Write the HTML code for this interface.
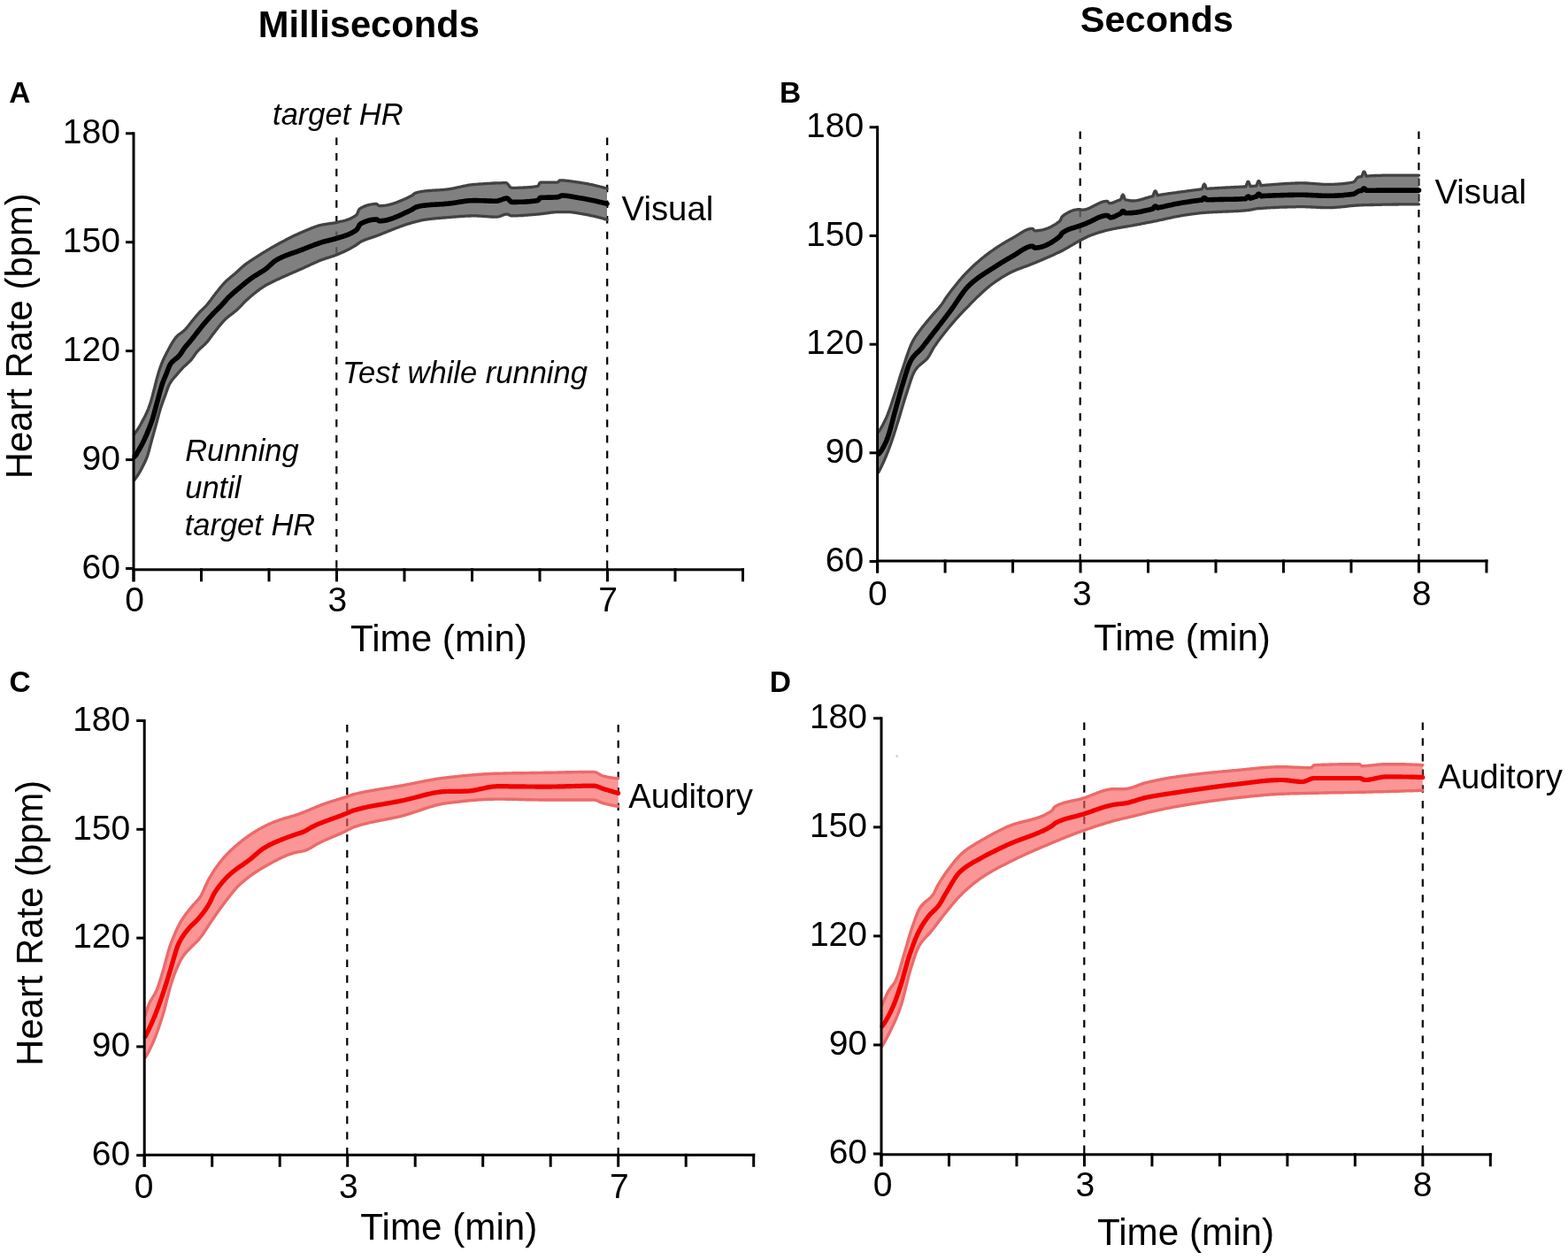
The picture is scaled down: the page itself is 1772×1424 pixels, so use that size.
<!DOCTYPE html>
<html><head><meta charset="utf-8"><style>html,body{margin:0;padding:0;background:#fff;}svg{display:block;}</style></head>
<body>
<svg width="1772" height="1424" viewBox="0 0 1772 1424" font-family="&quot;Liberation Sans&quot;, sans-serif">
<rect width="1772" height="1424" fill="#fff"/>
<text x="291.69" y="42.30" font-size="41.7" font-weight="bold" font-style="normal">Milliseconds</text>
<text x="1220.86" y="35.50" font-size="41.5" font-weight="bold" font-style="normal">Seconds</text>
<text x="10.36" y="116.20" font-size="33.5" font-weight="bold" font-style="normal">A</text>
<text x="880.94" y="116.20" font-size="33.5" font-weight="bold" font-style="normal">B</text>
<text x="10.56" y="782.40" font-size="33.5" font-weight="bold" font-style="normal">C</text>
<text x="869.84" y="781.60" font-size="33.5" font-weight="bold" font-style="normal">D</text>
<line x1="380.3" y1="155.4" x2="380.3" y2="643" stroke="#000" stroke-width="2.2" stroke-dasharray="8.5 9.2"/>
<line x1="686.2" y1="155.6" x2="686.2" y2="643" stroke="#000" stroke-width="2.2" stroke-dasharray="8.5 9.2"/>
<line x1="1220.7" y1="148.4" x2="1220.7" y2="633" stroke="#000" stroke-width="2.2" stroke-dasharray="8.5 9.2"/>
<line x1="1603.4" y1="148.4" x2="1603.4" y2="633" stroke="#000" stroke-width="2.2" stroke-dasharray="8.5 9.2"/>
<line x1="392.3" y1="819.1" x2="392.3" y2="1304" stroke="#000" stroke-width="2.2" stroke-dasharray="8.5 9.2"/>
<line x1="698.7" y1="819.1" x2="698.7" y2="1304" stroke="#000" stroke-width="2.2" stroke-dasharray="8.5 9.2"/>
<line x1="1225.3" y1="816.5" x2="1225.3" y2="1304" stroke="#000" stroke-width="2.2" stroke-dasharray="8.5 9.2"/>
<line x1="1607.8" y1="816.5" x2="1607.8" y2="1304" stroke="#000" stroke-width="2.2" stroke-dasharray="8.5 9.2"/>
<clipPath id="c149"><rect x="149.5" y="0" width="1000" height="1424"/></clipPath><g clip-path="url(#c149)">
<polygon points="151.6,490.6 152.6,489.4 153.6,488.1 154.6,486.7 155.6,485.3 156.6,483.7 157.6,482.0 158.6,480.3 159.6,478.4 160.6,476.5 161.6,474.6 162.6,472.8 163.6,470.9 164.6,468.9 165.6,466.8 166.6,464.5 167.6,462.0 168.6,459.3 169.6,456.5 170.6,453.4 171.6,449.9 172.6,446.1 173.6,442.2 174.6,438.3 175.6,434.4 176.6,430.4 177.6,426.6 178.6,423.1 179.6,419.8 180.6,416.7 181.6,413.9 182.6,411.2 183.6,408.7 184.6,406.4 185.6,404.2 186.6,402.2 187.6,400.2 188.6,398.3 189.6,396.4 190.6,394.5 191.6,392.7 192.6,390.9 193.6,389.1 194.6,387.4 195.6,385.8 196.6,384.3 197.6,382.9 198.6,381.6 199.6,380.4 200.6,379.4 201.6,378.5 202.6,377.7 203.6,377.0 204.6,376.3 205.6,375.6 206.6,374.8 207.6,374.0 208.6,373.1 209.6,372.1 210.6,370.9 211.6,369.7 212.6,368.5 213.6,367.2 214.6,365.9 215.6,364.7 216.6,363.4 217.6,362.2 218.6,361.0 219.6,359.8 220.6,358.6 221.6,357.4 222.6,356.2 223.6,355.0 224.6,353.9 225.6,352.8 226.6,351.7 227.6,350.8 228.6,349.8 229.6,348.9 230.6,347.9 231.6,346.9 232.6,345.9 233.6,344.8 234.6,343.6 235.6,342.4 236.6,341.1 237.6,339.7 238.6,338.4 239.6,337.0 240.6,335.7 241.6,334.3 242.6,333.1 243.6,331.8 244.6,330.5 245.6,329.2 246.6,328.0 247.6,326.7 248.6,325.4 249.6,324.2 250.6,323.0 251.6,321.9 252.6,320.8 253.6,319.7 254.6,318.7 255.6,317.7 256.6,316.8 257.6,315.9 258.6,315.0 259.6,314.2 260.6,313.3 261.6,312.5 262.6,311.7 263.6,310.8 264.6,310.0 265.6,309.2 266.6,308.3 267.6,307.4 268.6,306.5 269.6,305.6 270.6,304.6 271.6,303.7 272.6,302.8 273.6,301.9 274.6,301.0 275.6,300.2 276.6,299.4 277.6,298.6 278.6,297.9 279.6,297.2 280.6,296.5 281.6,295.8 282.6,295.1 283.6,294.4 284.6,293.8 285.6,293.1 286.6,292.5 287.6,291.8 288.6,291.2 289.6,290.6 290.6,289.9 291.6,289.3 292.6,288.6 293.6,288.0 294.6,287.4 295.6,286.7 296.6,286.1 297.6,285.5 298.6,284.9 299.6,284.3 300.6,283.7 301.6,283.1 302.6,282.4 303.6,281.9 304.6,281.3 305.6,280.7 306.6,280.1 307.6,279.5 308.6,278.9 309.6,278.4 310.6,277.8 311.6,277.3 312.6,276.7 313.6,276.2 314.6,275.6 315.6,275.1 316.6,274.5 317.6,274.0 318.6,273.4 319.6,272.9 320.6,272.4 321.6,271.9 322.6,271.3 323.6,270.8 324.6,270.3 325.6,269.8 326.6,269.3 327.6,268.8 328.6,268.3 329.6,267.8 330.6,267.3 331.6,266.8 332.6,266.3 333.6,265.8 334.6,265.4 335.6,264.9 336.6,264.4 337.6,264.0 338.6,263.6 339.6,263.1 340.6,262.7 341.6,262.3 342.6,261.8 343.6,261.4 344.6,261.0 345.6,260.5 346.6,260.1 347.6,259.7 348.6,259.3 349.6,258.9 350.6,258.4 351.6,258.0 352.6,257.6 353.6,257.3 354.6,256.9 355.6,256.5 356.6,256.2 357.6,255.8 358.6,255.5 359.6,255.2 360.6,254.9 361.6,254.6 362.6,254.4 363.6,254.2 364.6,253.9 365.6,253.8 366.6,253.6 367.6,253.4 368.6,253.3 369.6,253.1 370.6,253.0 371.6,252.8 372.6,252.7 373.6,252.6 374.6,252.4 375.6,252.3 376.6,252.1 377.6,251.9 378.6,251.8 379.6,251.6 380.6,251.3 381.6,251.1 382.6,250.9 383.6,250.7 384.6,250.5 385.6,250.2 386.6,250.0 387.6,249.8 388.6,249.5 389.6,249.3 390.6,249.0 391.6,248.7 392.6,248.3 393.6,248.0 394.6,247.6 395.6,247.2 396.6,246.7 397.6,246.2 398.6,245.7 399.6,245.1 400.6,244.5 401.6,243.8 402.6,243.1 403.6,241.9 404.6,239.4 405.6,237.0 406.6,235.9 407.6,235.3 408.6,234.8 409.6,234.3 410.6,233.8 411.6,233.3 412.6,232.9 413.6,232.5 414.6,232.2 415.6,231.9 416.6,231.6 417.6,231.4 418.6,231.2 419.6,231.0 420.6,230.8 421.6,230.7 422.6,230.6 423.6,230.5 424.6,230.5 425.6,230.5 426.6,231.1 427.6,232.1 428.6,232.7 429.6,232.7 430.6,232.7 431.6,232.6 432.6,232.5 433.6,232.4 434.6,232.3 435.6,232.2 436.6,232.0 437.6,231.8 438.6,231.6 439.6,231.4 440.6,231.1 441.6,230.9 442.6,230.6 443.6,230.3 444.6,230.0 445.6,229.7 446.6,229.3 447.6,229.0 448.6,228.6 449.6,228.2 450.6,227.8 451.6,227.4 452.6,227.0 453.6,226.6 454.6,226.2 455.6,225.7 456.6,225.3 457.6,224.9 458.6,224.4 459.6,223.9 460.6,223.5 461.6,223.0 462.6,222.5 463.6,222.0 464.6,221.5 465.6,221.0 466.6,220.2 467.6,219.3 468.6,218.6 469.6,218.1 470.6,217.8 471.6,217.5 472.6,217.2 473.6,217.0 474.6,216.8 475.6,216.6 476.6,216.4 477.6,216.3 478.6,216.2 479.6,216.0 480.6,215.9 481.6,215.8 482.6,215.7 483.6,215.6 484.6,215.5 485.6,215.5 486.6,215.4 487.6,215.3 488.6,215.2 489.6,215.2 490.6,215.1 491.6,215.1 492.6,215.0 493.6,214.9 494.6,214.9 495.6,214.8 496.6,214.8 497.6,214.7 498.6,214.6 499.6,214.6 500.6,214.5 501.6,214.4 502.6,214.3 503.6,214.2 504.6,214.1 505.6,214.0 506.6,213.9 507.6,213.7 508.6,213.6 509.6,213.4 510.6,213.2 511.6,213.0 512.6,212.8 513.6,212.6 514.6,212.4 515.6,212.2 516.6,212.0 517.6,211.7 518.6,211.5 519.6,211.3 520.6,211.0 521.6,210.8 522.6,210.6 523.6,210.4 524.6,210.2 525.6,210.0 526.6,209.8 527.6,209.6 528.6,209.4 529.6,209.2 530.6,209.1 531.6,208.9 532.6,208.8 533.6,208.7 534.6,208.6 535.6,208.5 536.6,208.4 537.6,208.4 538.6,208.3 539.6,208.2 540.6,208.1 541.6,208.0 542.6,208.0 543.6,207.9 544.6,207.8 545.6,207.8 546.6,207.7 547.6,207.6 548.6,207.6 549.6,207.5 550.6,207.4 551.6,207.4 552.6,207.3 553.6,207.3 554.6,207.2 555.6,207.1 556.6,207.1 557.6,207.0 558.6,207.0 559.6,207.0 560.6,206.9 561.6,206.9 562.6,206.9 563.6,206.8 564.6,206.8 565.6,206.8 566.6,206.8 567.6,206.7 568.6,206.7 569.6,206.7 570.6,206.7 571.6,206.7 572.6,206.9 573.6,207.7 574.6,209.0 575.6,210.3 576.6,211.5 577.6,212.2 578.6,212.3 579.6,212.3 580.6,212.3 581.6,212.3 582.6,212.3 583.6,212.3 584.6,212.3 585.6,212.2 586.6,212.2 587.6,212.2 588.6,212.2 589.6,212.1 590.6,212.1 591.6,212.0 592.6,212.0 593.6,211.9 594.6,211.9 595.6,211.8 596.6,211.7 597.6,211.7 598.6,211.6 599.6,211.5 600.6,211.4 601.6,211.3 602.6,211.2 603.6,211.0 604.6,210.9 605.6,210.8 606.6,210.6 607.6,210.4 608.6,209.5 609.6,207.1 610.6,206.1 611.6,206.1 612.6,206.1 613.6,206.1 614.6,206.1 615.6,206.1 616.6,206.1 617.6,206.1 618.6,206.1 619.6,206.1 620.6,206.1 621.6,206.1 622.6,206.1 623.6,206.1 624.6,206.1 625.6,206.1 626.6,206.1 627.6,206.1 628.6,206.1 629.6,206.1 630.6,205.9 631.6,204.7 632.6,203.8 633.6,203.8 634.6,203.8 635.6,203.9 636.6,203.9 637.6,204.0 638.6,204.1 639.6,204.2 640.6,204.3 641.6,204.4 642.6,204.5 643.6,204.6 644.6,204.8 645.6,204.9 646.6,205.0 647.6,205.2 648.6,205.3 649.6,205.5 650.6,205.6 651.6,205.8 652.6,205.9 653.6,206.1 654.6,206.2 655.6,206.4 656.6,206.5 657.6,206.7 658.6,206.8 659.6,207.0 660.6,207.2 661.6,207.4 662.6,207.5 663.6,207.7 664.6,207.9 665.6,208.1 666.6,208.3 667.6,208.5 668.6,208.7 669.6,208.9 670.6,209.2 671.6,209.4 672.6,209.6 673.6,209.8 674.6,210.1 675.6,210.3 676.6,210.5 677.6,210.8 678.6,211.0 679.6,211.3 680.6,211.5 681.6,211.8 682.6,212.1 683.6,212.3 684.6,212.6 685.6,212.9 686.0,213.0 686.0,248.3 685.6,248.2 684.6,247.9 683.6,247.6 682.6,247.3 681.6,247.0 680.6,246.7 679.6,246.5 678.6,246.2 677.6,245.9 676.6,245.7 675.6,245.4 674.6,245.2 673.6,244.9 672.6,244.7 671.6,244.4 670.6,244.2 669.6,244.0 668.6,243.8 667.6,243.6 666.6,243.3 665.6,243.1 664.6,242.9 663.6,242.7 662.6,242.6 661.6,242.4 660.6,242.2 659.6,242.0 658.6,241.9 657.6,241.7 656.6,241.5 655.6,241.3 654.6,241.1 653.6,240.9 652.6,240.8 651.6,240.6 650.6,240.4 649.6,240.3 648.6,240.1 647.6,240.0 646.6,239.9 645.6,239.8 644.6,239.7 643.6,239.7 642.6,239.6 641.6,239.6 640.6,239.6 639.6,239.6 638.6,239.6 637.6,239.6 636.6,239.6 635.6,239.6 634.6,239.6 633.6,239.6 632.6,239.6 631.6,239.6 630.6,239.6 629.6,239.6 628.6,239.7 627.6,239.7 626.6,239.8 625.6,239.9 624.6,240.0 623.6,240.1 622.6,240.2 621.6,240.4 620.6,240.5 619.6,240.6 618.6,240.8 617.6,240.9 616.6,241.1 615.6,241.2 614.6,241.3 613.6,241.5 612.6,241.6 611.6,241.7 610.6,241.8 609.6,241.9 608.6,242.0 607.6,242.1 606.6,242.2 605.6,242.3 604.6,242.4 603.6,242.4 602.6,242.5 601.6,242.6 600.6,242.7 599.6,242.8 598.6,242.9 597.6,242.9 596.6,243.0 595.6,243.1 594.6,243.2 593.6,243.2 592.6,243.3 591.6,243.4 590.6,243.5 589.6,243.5 588.6,243.6 587.6,243.6 586.6,243.7 585.6,243.7 584.6,243.8 583.6,243.8 582.6,243.8 581.6,243.9 580.6,243.9 579.6,243.9 578.6,243.9 577.6,243.8 576.6,243.5 575.6,243.0 574.6,242.5 573.6,242.2 572.6,242.1 571.6,242.2 570.6,242.4 569.6,242.7 568.6,243.0 567.6,243.4 566.6,243.8 565.6,244.1 564.6,244.5 563.6,244.8 562.6,245.0 561.6,245.2 560.6,245.2 559.6,245.2 558.6,245.2 557.6,245.1 556.6,245.1 555.6,245.1 554.6,245.0 553.6,244.9 552.6,244.9 551.6,244.8 550.6,244.7 549.6,244.7 548.6,244.6 547.6,244.5 546.6,244.4 545.6,244.3 544.6,244.3 543.6,244.2 542.6,244.1 541.6,244.1 540.6,244.0 539.6,244.0 538.6,243.9 537.6,243.9 536.6,243.9 535.6,243.9 534.6,243.9 533.6,243.9 532.6,243.9 531.6,244.0 530.6,244.0 529.6,244.0 528.6,244.1 527.6,244.1 526.6,244.2 525.6,244.2 524.6,244.3 523.6,244.3 522.6,244.4 521.6,244.5 520.6,244.5 519.6,244.6 518.6,244.7 517.6,244.8 516.6,244.8 515.6,244.9 514.6,245.0 513.6,245.1 512.6,245.2 511.6,245.2 510.6,245.3 509.6,245.4 508.6,245.5 507.6,245.6 506.6,245.7 505.6,245.7 504.6,245.8 503.6,245.9 502.6,246.0 501.6,246.0 500.6,246.1 499.6,246.2 498.6,246.3 497.6,246.4 496.6,246.5 495.6,246.5 494.6,246.6 493.6,246.7 492.6,246.8 491.6,246.9 490.6,247.0 489.6,247.1 488.6,247.2 487.6,247.3 486.6,247.4 485.6,247.6 484.6,247.7 483.6,247.8 482.6,247.9 481.6,248.1 480.6,248.2 479.6,248.4 478.6,248.5 477.6,248.7 476.6,248.9 475.6,249.1 474.6,249.3 473.6,249.6 472.6,249.8 471.6,250.1 470.6,250.3 469.6,250.6 468.6,250.9 467.6,251.1 466.6,251.4 465.6,251.7 464.6,252.0 463.6,252.3 462.6,252.6 461.6,252.9 460.6,253.2 459.6,253.5 458.6,253.8 457.6,254.2 456.6,254.5 455.6,254.9 454.6,255.2 453.6,255.6 452.6,255.9 451.6,256.3 450.6,256.7 449.6,257.1 448.6,257.4 447.6,257.8 446.6,258.2 445.6,258.6 444.6,259.0 443.6,259.4 442.6,259.8 441.6,260.2 440.6,260.6 439.6,261.0 438.6,261.4 437.6,261.8 436.6,262.2 435.6,262.6 434.6,263.0 433.6,263.4 432.6,263.8 431.6,264.2 430.6,264.6 429.6,265.0 428.6,265.4 427.6,265.8 426.6,266.1 425.6,266.5 424.6,266.9 423.6,267.3 422.6,267.6 421.6,267.9 420.6,268.3 419.6,268.6 418.6,268.9 417.6,269.2 416.6,269.6 415.6,269.9 414.6,270.3 413.6,270.6 412.6,271.0 411.6,271.4 410.6,271.9 409.6,272.3 408.6,272.8 407.6,273.3 406.6,273.9 405.6,274.6 404.6,275.4 403.6,276.2 402.6,276.9 401.6,277.5 400.6,278.1 399.6,278.7 398.6,279.3 397.6,279.8 396.6,280.4 395.6,280.9 394.6,281.4 393.6,282.0 392.6,282.5 391.6,283.0 390.6,283.5 389.6,283.9 388.6,284.4 387.6,284.9 386.6,285.3 385.6,285.8 384.6,286.2 383.6,286.6 382.6,287.1 381.6,287.5 380.6,287.9 379.6,288.3 378.6,288.7 377.6,289.0 376.6,289.4 375.6,289.7 374.6,290.0 373.6,290.3 372.6,290.7 371.6,291.0 370.6,291.3 369.6,291.6 368.6,291.9 367.6,292.2 366.6,292.6 365.6,292.9 364.6,293.3 363.6,293.6 362.6,294.0 361.6,294.4 360.6,294.8 359.6,295.2 358.6,295.7 357.6,296.1 356.6,296.5 355.6,297.0 354.6,297.4 353.6,297.9 352.6,298.3 351.6,298.8 350.6,299.3 349.6,299.7 348.6,300.2 347.6,300.7 346.6,301.1 345.6,301.6 344.6,302.1 343.6,302.5 342.6,303.0 341.6,303.4 340.6,303.9 339.6,304.3 338.6,304.8 337.6,305.2 336.6,305.6 335.6,306.1 334.6,306.5 333.6,307.0 332.6,307.4 331.6,307.8 330.6,308.2 329.6,308.7 328.6,309.1 327.6,309.5 326.6,310.0 325.6,310.4 324.6,310.9 323.6,311.3 322.6,311.7 321.6,312.2 320.6,312.6 319.6,313.1 318.6,313.5 317.6,314.0 316.6,314.4 315.6,314.9 314.6,315.4 313.6,315.8 312.6,316.3 311.6,316.8 310.6,317.2 309.6,317.7 308.6,318.2 307.6,318.7 306.6,319.2 305.6,319.7 304.6,320.2 303.6,320.7 302.6,321.2 301.6,321.8 300.6,322.3 299.6,322.9 298.6,323.6 297.6,324.2 296.6,324.9 295.6,325.5 294.6,326.2 293.6,326.9 292.6,327.7 291.6,328.4 290.6,329.2 289.6,329.9 288.6,330.7 287.6,331.5 286.6,332.3 285.6,333.1 284.6,334.0 283.6,334.8 282.6,335.7 281.6,336.5 280.6,337.4 279.6,338.3 278.6,339.2 277.6,340.1 276.6,341.1 275.6,342.2 274.6,343.2 273.6,344.3 272.6,345.3 271.6,346.4 270.6,347.4 269.6,348.4 268.6,349.4 267.6,350.3 266.6,351.2 265.6,352.0 264.6,352.8 263.6,353.6 262.6,354.4 261.6,355.1 260.6,355.9 259.6,356.6 258.6,357.4 257.6,358.2 256.6,359.1 255.6,359.9 254.6,360.9 253.6,361.9 252.6,363.0 251.6,364.1 250.6,365.2 249.6,366.4 248.6,367.6 247.6,368.8 246.6,370.1 245.6,371.4 244.6,372.6 243.6,373.9 242.6,375.2 241.6,376.4 240.6,377.7 239.6,379.1 238.6,380.5 237.6,381.8 236.6,383.2 235.6,384.5 234.6,385.8 233.6,386.9 232.6,388.0 231.6,389.0 230.6,389.9 229.6,390.9 228.6,391.8 227.6,392.7 226.6,393.6 225.6,394.5 224.6,395.5 223.6,396.6 222.6,397.7 221.6,399.0 220.6,400.3 219.6,401.8 218.6,403.2 217.6,404.6 216.6,405.9 215.6,407.1 214.6,408.2 213.6,409.2 212.6,410.1 211.6,411.0 210.6,411.9 209.6,412.8 208.6,413.7 207.6,414.7 206.6,415.7 205.6,416.8 204.6,417.9 203.6,419.0 202.6,420.1 201.6,421.2 200.6,422.4 199.6,423.6 198.6,424.8 197.6,425.9 196.6,427.0 195.6,428.2 194.6,429.4 193.6,430.8 192.6,432.3 191.6,434.0 190.6,436.1 189.6,438.6 188.6,441.4 187.6,444.3 186.6,447.1 185.6,449.7 184.6,452.4 183.6,455.2 182.6,458.1 181.6,461.1 180.6,464.4 179.6,467.9 178.6,471.6 177.6,475.4 176.6,479.0 175.6,482.6 174.6,486.3 173.6,489.9 172.6,493.5 171.6,497.1 170.6,500.8 169.6,504.6 168.6,508.5 167.6,512.1 166.6,515.3 165.6,517.9 164.6,520.3 163.6,522.5 162.6,524.5 161.6,526.5 160.6,528.5 159.6,530.4 158.6,532.3 157.6,534.0 156.6,535.7 155.6,537.3 154.6,538.7 153.6,540.1 152.6,541.4 151.6,542.6" fill="#666666" fill-opacity="0.83" stroke="none"/>
<polyline points="151.6,490.6 152.6,489.4 153.6,488.1 154.6,486.7 155.6,485.3 156.6,483.7 157.6,482.0 158.6,480.3 159.6,478.4 160.6,476.5 161.6,474.6 162.6,472.8 163.6,470.9 164.6,468.9 165.6,466.8 166.6,464.5 167.6,462.0 168.6,459.3 169.6,456.5 170.6,453.4 171.6,449.9 172.6,446.1 173.6,442.2 174.6,438.3 175.6,434.4 176.6,430.4 177.6,426.6 178.6,423.1 179.6,419.8 180.6,416.7 181.6,413.9 182.6,411.2 183.6,408.7 184.6,406.4 185.6,404.2 186.6,402.2 187.6,400.2 188.6,398.3 189.6,396.4 190.6,394.5 191.6,392.7 192.6,390.9 193.6,389.1 194.6,387.4 195.6,385.8 196.6,384.3 197.6,382.9 198.6,381.6 199.6,380.4 200.6,379.4 201.6,378.5 202.6,377.7 203.6,377.0 204.6,376.3 205.6,375.6 206.6,374.8 207.6,374.0 208.6,373.1 209.6,372.1 210.6,370.9 211.6,369.7 212.6,368.5 213.6,367.2 214.6,365.9 215.6,364.7 216.6,363.4 217.6,362.2 218.6,361.0 219.6,359.8 220.6,358.6 221.6,357.4 222.6,356.2 223.6,355.0 224.6,353.9 225.6,352.8 226.6,351.7 227.6,350.8 228.6,349.8 229.6,348.9 230.6,347.9 231.6,346.9 232.6,345.9 233.6,344.8 234.6,343.6 235.6,342.4 236.6,341.1 237.6,339.7 238.6,338.4 239.6,337.0 240.6,335.7 241.6,334.3 242.6,333.1 243.6,331.8 244.6,330.5 245.6,329.2 246.6,328.0 247.6,326.7 248.6,325.4 249.6,324.2 250.6,323.0 251.6,321.9 252.6,320.8 253.6,319.7 254.6,318.7 255.6,317.7 256.6,316.8 257.6,315.9 258.6,315.0 259.6,314.2 260.6,313.3 261.6,312.5 262.6,311.7 263.6,310.8 264.6,310.0 265.6,309.2 266.6,308.3 267.6,307.4 268.6,306.5 269.6,305.6 270.6,304.6 271.6,303.7 272.6,302.8 273.6,301.9 274.6,301.0 275.6,300.2 276.6,299.4 277.6,298.6 278.6,297.9 279.6,297.2 280.6,296.5 281.6,295.8 282.6,295.1 283.6,294.4 284.6,293.8 285.6,293.1 286.6,292.5 287.6,291.8 288.6,291.2 289.6,290.6 290.6,289.9 291.6,289.3 292.6,288.6 293.6,288.0 294.6,287.4 295.6,286.7 296.6,286.1 297.6,285.5 298.6,284.9 299.6,284.3 300.6,283.7 301.6,283.1 302.6,282.4 303.6,281.9 304.6,281.3 305.6,280.7 306.6,280.1 307.6,279.5 308.6,278.9 309.6,278.4 310.6,277.8 311.6,277.3 312.6,276.7 313.6,276.2 314.6,275.6 315.6,275.1 316.6,274.5 317.6,274.0 318.6,273.4 319.6,272.9 320.6,272.4 321.6,271.9 322.6,271.3 323.6,270.8 324.6,270.3 325.6,269.8 326.6,269.3 327.6,268.8 328.6,268.3 329.6,267.8 330.6,267.3 331.6,266.8 332.6,266.3 333.6,265.8 334.6,265.4 335.6,264.9 336.6,264.4 337.6,264.0 338.6,263.6 339.6,263.1 340.6,262.7 341.6,262.3 342.6,261.8 343.6,261.4 344.6,261.0 345.6,260.5 346.6,260.1 347.6,259.7 348.6,259.3 349.6,258.9 350.6,258.4 351.6,258.0 352.6,257.6 353.6,257.3 354.6,256.9 355.6,256.5 356.6,256.2 357.6,255.8 358.6,255.5 359.6,255.2 360.6,254.9 361.6,254.6 362.6,254.4 363.6,254.2 364.6,253.9 365.6,253.8 366.6,253.6 367.6,253.4 368.6,253.3 369.6,253.1 370.6,253.0 371.6,252.8 372.6,252.7 373.6,252.6 374.6,252.4 375.6,252.3 376.6,252.1 377.6,251.9 378.6,251.8 379.6,251.6 380.6,251.3 381.6,251.1 382.6,250.9 383.6,250.7 384.6,250.5 385.6,250.2 386.6,250.0 387.6,249.8 388.6,249.5 389.6,249.3 390.6,249.0 391.6,248.7 392.6,248.3 393.6,248.0 394.6,247.6 395.6,247.2 396.6,246.7 397.6,246.2 398.6,245.7 399.6,245.1 400.6,244.5 401.6,243.8 402.6,243.1 403.6,241.9 404.6,239.4 405.6,237.0 406.6,235.9 407.6,235.3 408.6,234.8 409.6,234.3 410.6,233.8 411.6,233.3 412.6,232.9 413.6,232.5 414.6,232.2 415.6,231.9 416.6,231.6 417.6,231.4 418.6,231.2 419.6,231.0 420.6,230.8 421.6,230.7 422.6,230.6 423.6,230.5 424.6,230.5 425.6,230.5 426.6,231.1 427.6,232.1 428.6,232.7 429.6,232.7 430.6,232.7 431.6,232.6 432.6,232.5 433.6,232.4 434.6,232.3 435.6,232.2 436.6,232.0 437.6,231.8 438.6,231.6 439.6,231.4 440.6,231.1 441.6,230.9 442.6,230.6 443.6,230.3 444.6,230.0 445.6,229.7 446.6,229.3 447.6,229.0 448.6,228.6 449.6,228.2 450.6,227.8 451.6,227.4 452.6,227.0 453.6,226.6 454.6,226.2 455.6,225.7 456.6,225.3 457.6,224.9 458.6,224.4 459.6,223.9 460.6,223.5 461.6,223.0 462.6,222.5 463.6,222.0 464.6,221.5 465.6,221.0 466.6,220.2 467.6,219.3 468.6,218.6 469.6,218.1 470.6,217.8 471.6,217.5 472.6,217.2 473.6,217.0 474.6,216.8 475.6,216.6 476.6,216.4 477.6,216.3 478.6,216.2 479.6,216.0 480.6,215.9 481.6,215.8 482.6,215.7 483.6,215.6 484.6,215.5 485.6,215.5 486.6,215.4 487.6,215.3 488.6,215.2 489.6,215.2 490.6,215.1 491.6,215.1 492.6,215.0 493.6,214.9 494.6,214.9 495.6,214.8 496.6,214.8 497.6,214.7 498.6,214.6 499.6,214.6 500.6,214.5 501.6,214.4 502.6,214.3 503.6,214.2 504.6,214.1 505.6,214.0 506.6,213.9 507.6,213.7 508.6,213.6 509.6,213.4 510.6,213.2 511.6,213.0 512.6,212.8 513.6,212.6 514.6,212.4 515.6,212.2 516.6,212.0 517.6,211.7 518.6,211.5 519.6,211.3 520.6,211.0 521.6,210.8 522.6,210.6 523.6,210.4 524.6,210.2 525.6,210.0 526.6,209.8 527.6,209.6 528.6,209.4 529.6,209.2 530.6,209.1 531.6,208.9 532.6,208.8 533.6,208.7 534.6,208.6 535.6,208.5 536.6,208.4 537.6,208.4 538.6,208.3 539.6,208.2 540.6,208.1 541.6,208.0 542.6,208.0 543.6,207.9 544.6,207.8 545.6,207.8 546.6,207.7 547.6,207.6 548.6,207.6 549.6,207.5 550.6,207.4 551.6,207.4 552.6,207.3 553.6,207.3 554.6,207.2 555.6,207.1 556.6,207.1 557.6,207.0 558.6,207.0 559.6,207.0 560.6,206.9 561.6,206.9 562.6,206.9 563.6,206.8 564.6,206.8 565.6,206.8 566.6,206.8 567.6,206.7 568.6,206.7 569.6,206.7 570.6,206.7 571.6,206.7 572.6,206.9 573.6,207.7 574.6,209.0 575.6,210.3 576.6,211.5 577.6,212.2 578.6,212.3 579.6,212.3 580.6,212.3 581.6,212.3 582.6,212.3 583.6,212.3 584.6,212.3 585.6,212.2 586.6,212.2 587.6,212.2 588.6,212.2 589.6,212.1 590.6,212.1 591.6,212.0 592.6,212.0 593.6,211.9 594.6,211.9 595.6,211.8 596.6,211.7 597.6,211.7 598.6,211.6 599.6,211.5 600.6,211.4 601.6,211.3 602.6,211.2 603.6,211.0 604.6,210.9 605.6,210.8 606.6,210.6 607.6,210.4 608.6,209.5 609.6,207.1 610.6,206.1 611.6,206.1 612.6,206.1 613.6,206.1 614.6,206.1 615.6,206.1 616.6,206.1 617.6,206.1 618.6,206.1 619.6,206.1 620.6,206.1 621.6,206.1 622.6,206.1 623.6,206.1 624.6,206.1 625.6,206.1 626.6,206.1 627.6,206.1 628.6,206.1 629.6,206.1 630.6,205.9 631.6,204.7 632.6,203.8 633.6,203.8 634.6,203.8 635.6,203.9 636.6,203.9 637.6,204.0 638.6,204.1 639.6,204.2 640.6,204.3 641.6,204.4 642.6,204.5 643.6,204.6 644.6,204.8 645.6,204.9 646.6,205.0 647.6,205.2 648.6,205.3 649.6,205.5 650.6,205.6 651.6,205.8 652.6,205.9 653.6,206.1 654.6,206.2 655.6,206.4 656.6,206.5 657.6,206.7 658.6,206.8 659.6,207.0 660.6,207.2 661.6,207.4 662.6,207.5 663.6,207.7 664.6,207.9 665.6,208.1 666.6,208.3 667.6,208.5 668.6,208.7 669.6,208.9 670.6,209.2 671.6,209.4 672.6,209.6 673.6,209.8 674.6,210.1 675.6,210.3 676.6,210.5 677.6,210.8 678.6,211.0 679.6,211.3 680.6,211.5 681.6,211.8 682.6,212.1 683.6,212.3 684.6,212.6 685.6,212.9 686.0,213.0" fill="none" stroke="#424242" stroke-width="3.3" stroke-linejoin="round" stroke-linecap="round"/>
<polyline points="151.6,542.6 152.6,541.4 153.6,540.1 154.6,538.7 155.6,537.3 156.6,535.7 157.6,534.0 158.6,532.3 159.6,530.4 160.6,528.5 161.6,526.5 162.6,524.5 163.6,522.5 164.6,520.3 165.6,517.9 166.6,515.3 167.6,512.1 168.6,508.5 169.6,504.6 170.6,500.8 171.6,497.1 172.6,493.5 173.6,489.9 174.6,486.3 175.6,482.6 176.6,479.0 177.6,475.4 178.6,471.6 179.6,467.9 180.6,464.4 181.6,461.1 182.6,458.1 183.6,455.2 184.6,452.4 185.6,449.7 186.6,447.1 187.6,444.3 188.6,441.4 189.6,438.6 190.6,436.1 191.6,434.0 192.6,432.3 193.6,430.8 194.6,429.4 195.6,428.2 196.6,427.0 197.6,425.9 198.6,424.8 199.6,423.6 200.6,422.4 201.6,421.2 202.6,420.1 203.6,419.0 204.6,417.9 205.6,416.8 206.6,415.7 207.6,414.7 208.6,413.7 209.6,412.8 210.6,411.9 211.6,411.0 212.6,410.1 213.6,409.2 214.6,408.2 215.6,407.1 216.6,405.9 217.6,404.6 218.6,403.2 219.6,401.8 220.6,400.3 221.6,399.0 222.6,397.7 223.6,396.6 224.6,395.5 225.6,394.5 226.6,393.6 227.6,392.7 228.6,391.8 229.6,390.9 230.6,389.9 231.6,389.0 232.6,388.0 233.6,386.9 234.6,385.8 235.6,384.5 236.6,383.2 237.6,381.8 238.6,380.5 239.6,379.1 240.6,377.7 241.6,376.4 242.6,375.2 243.6,373.9 244.6,372.6 245.6,371.4 246.6,370.1 247.6,368.8 248.6,367.6 249.6,366.4 250.6,365.2 251.6,364.1 252.6,363.0 253.6,361.9 254.6,360.9 255.6,359.9 256.6,359.1 257.6,358.2 258.6,357.4 259.6,356.6 260.6,355.9 261.6,355.1 262.6,354.4 263.6,353.6 264.6,352.8 265.6,352.0 266.6,351.2 267.6,350.3 268.6,349.4 269.6,348.4 270.6,347.4 271.6,346.4 272.6,345.3 273.6,344.3 274.6,343.2 275.6,342.2 276.6,341.1 277.6,340.1 278.6,339.2 279.6,338.3 280.6,337.4 281.6,336.5 282.6,335.7 283.6,334.8 284.6,334.0 285.6,333.1 286.6,332.3 287.6,331.5 288.6,330.7 289.6,329.9 290.6,329.2 291.6,328.4 292.6,327.7 293.6,326.9 294.6,326.2 295.6,325.5 296.6,324.9 297.6,324.2 298.6,323.6 299.6,322.9 300.6,322.3 301.6,321.8 302.6,321.2 303.6,320.7 304.6,320.2 305.6,319.7 306.6,319.2 307.6,318.7 308.6,318.2 309.6,317.7 310.6,317.2 311.6,316.8 312.6,316.3 313.6,315.8 314.6,315.4 315.6,314.9 316.6,314.4 317.6,314.0 318.6,313.5 319.6,313.1 320.6,312.6 321.6,312.2 322.6,311.7 323.6,311.3 324.6,310.9 325.6,310.4 326.6,310.0 327.6,309.5 328.6,309.1 329.6,308.7 330.6,308.2 331.6,307.8 332.6,307.4 333.6,307.0 334.6,306.5 335.6,306.1 336.6,305.6 337.6,305.2 338.6,304.8 339.6,304.3 340.6,303.9 341.6,303.4 342.6,303.0 343.6,302.5 344.6,302.1 345.6,301.6 346.6,301.1 347.6,300.7 348.6,300.2 349.6,299.7 350.6,299.3 351.6,298.8 352.6,298.3 353.6,297.9 354.6,297.4 355.6,297.0 356.6,296.5 357.6,296.1 358.6,295.7 359.6,295.2 360.6,294.8 361.6,294.4 362.6,294.0 363.6,293.6 364.6,293.3 365.6,292.9 366.6,292.6 367.6,292.2 368.6,291.9 369.6,291.6 370.6,291.3 371.6,291.0 372.6,290.7 373.6,290.3 374.6,290.0 375.6,289.7 376.6,289.4 377.6,289.0 378.6,288.7 379.6,288.3 380.6,287.9 381.6,287.5 382.6,287.1 383.6,286.6 384.6,286.2 385.6,285.8 386.6,285.3 387.6,284.9 388.6,284.4 389.6,283.9 390.6,283.5 391.6,283.0 392.6,282.5 393.6,282.0 394.6,281.4 395.6,280.9 396.6,280.4 397.6,279.8 398.6,279.3 399.6,278.7 400.6,278.1 401.6,277.5 402.6,276.9 403.6,276.2 404.6,275.4 405.6,274.6 406.6,273.9 407.6,273.3 408.6,272.8 409.6,272.3 410.6,271.9 411.6,271.4 412.6,271.0 413.6,270.6 414.6,270.3 415.6,269.9 416.6,269.6 417.6,269.2 418.6,268.9 419.6,268.6 420.6,268.3 421.6,267.9 422.6,267.6 423.6,267.3 424.6,266.9 425.6,266.5 426.6,266.1 427.6,265.8 428.6,265.4 429.6,265.0 430.6,264.6 431.6,264.2 432.6,263.8 433.6,263.4 434.6,263.0 435.6,262.6 436.6,262.2 437.6,261.8 438.6,261.4 439.6,261.0 440.6,260.6 441.6,260.2 442.6,259.8 443.6,259.4 444.6,259.0 445.6,258.6 446.6,258.2 447.6,257.8 448.6,257.4 449.6,257.1 450.6,256.7 451.6,256.3 452.6,255.9 453.6,255.6 454.6,255.2 455.6,254.9 456.6,254.5 457.6,254.2 458.6,253.8 459.6,253.5 460.6,253.2 461.6,252.9 462.6,252.6 463.6,252.3 464.6,252.0 465.6,251.7 466.6,251.4 467.6,251.1 468.6,250.9 469.6,250.6 470.6,250.3 471.6,250.1 472.6,249.8 473.6,249.6 474.6,249.3 475.6,249.1 476.6,248.9 477.6,248.7 478.6,248.5 479.6,248.4 480.6,248.2 481.6,248.1 482.6,247.9 483.6,247.8 484.6,247.7 485.6,247.6 486.6,247.4 487.6,247.3 488.6,247.2 489.6,247.1 490.6,247.0 491.6,246.9 492.6,246.8 493.6,246.7 494.6,246.6 495.6,246.5 496.6,246.5 497.6,246.4 498.6,246.3 499.6,246.2 500.6,246.1 501.6,246.0 502.6,246.0 503.6,245.9 504.6,245.8 505.6,245.7 506.6,245.7 507.6,245.6 508.6,245.5 509.6,245.4 510.6,245.3 511.6,245.2 512.6,245.2 513.6,245.1 514.6,245.0 515.6,244.9 516.6,244.8 517.6,244.8 518.6,244.7 519.6,244.6 520.6,244.5 521.6,244.5 522.6,244.4 523.6,244.3 524.6,244.3 525.6,244.2 526.6,244.2 527.6,244.1 528.6,244.1 529.6,244.0 530.6,244.0 531.6,244.0 532.6,243.9 533.6,243.9 534.6,243.9 535.6,243.9 536.6,243.9 537.6,243.9 538.6,243.9 539.6,244.0 540.6,244.0 541.6,244.1 542.6,244.1 543.6,244.2 544.6,244.3 545.6,244.3 546.6,244.4 547.6,244.5 548.6,244.6 549.6,244.7 550.6,244.7 551.6,244.8 552.6,244.9 553.6,244.9 554.6,245.0 555.6,245.1 556.6,245.1 557.6,245.1 558.6,245.2 559.6,245.2 560.6,245.2 561.6,245.2 562.6,245.0 563.6,244.8 564.6,244.5 565.6,244.1 566.6,243.8 567.6,243.4 568.6,243.0 569.6,242.7 570.6,242.4 571.6,242.2 572.6,242.1 573.6,242.2 574.6,242.5 575.6,243.0 576.6,243.5 577.6,243.8 578.6,243.9 579.6,243.9 580.6,243.9 581.6,243.9 582.6,243.8 583.6,243.8 584.6,243.8 585.6,243.7 586.6,243.7 587.6,243.6 588.6,243.6 589.6,243.5 590.6,243.5 591.6,243.4 592.6,243.3 593.6,243.2 594.6,243.2 595.6,243.1 596.6,243.0 597.6,242.9 598.6,242.9 599.6,242.8 600.6,242.7 601.6,242.6 602.6,242.5 603.6,242.4 604.6,242.4 605.6,242.3 606.6,242.2 607.6,242.1 608.6,242.0 609.6,241.9 610.6,241.8 611.6,241.7 612.6,241.6 613.6,241.5 614.6,241.3 615.6,241.2 616.6,241.1 617.6,240.9 618.6,240.8 619.6,240.6 620.6,240.5 621.6,240.4 622.6,240.2 623.6,240.1 624.6,240.0 625.6,239.9 626.6,239.8 627.6,239.7 628.6,239.7 629.6,239.6 630.6,239.6 631.6,239.6 632.6,239.6 633.6,239.6 634.6,239.6 635.6,239.6 636.6,239.6 637.6,239.6 638.6,239.6 639.6,239.6 640.6,239.6 641.6,239.6 642.6,239.6 643.6,239.7 644.6,239.7 645.6,239.8 646.6,239.9 647.6,240.0 648.6,240.1 649.6,240.3 650.6,240.4 651.6,240.6 652.6,240.8 653.6,240.9 654.6,241.1 655.6,241.3 656.6,241.5 657.6,241.7 658.6,241.9 659.6,242.0 660.6,242.2 661.6,242.4 662.6,242.6 663.6,242.7 664.6,242.9 665.6,243.1 666.6,243.3 667.6,243.6 668.6,243.8 669.6,244.0 670.6,244.2 671.6,244.4 672.6,244.7 673.6,244.9 674.6,245.2 675.6,245.4 676.6,245.7 677.6,245.9 678.6,246.2 679.6,246.5 680.6,246.7 681.6,247.0 682.6,247.3 683.6,247.6 684.6,247.9 685.6,248.2 686.0,248.3" fill="none" stroke="#424242" stroke-width="3.3" stroke-linejoin="round" stroke-linecap="round"/>
<polyline points="151.3,516.5 152.3,515.9 153.3,514.8 154.3,513.2 155.3,511.4 156.3,509.7 157.3,508.0 158.3,506.2 159.3,504.4 160.3,502.6 161.3,500.6 162.3,498.6 163.3,496.5 164.3,494.2 165.3,492.0 166.3,489.6 167.3,487.2 168.3,484.7 169.3,482.1 170.3,479.4 171.3,476.6 172.3,473.6 173.3,470.4 174.3,466.8 175.3,463.1 176.3,459.3 177.3,455.6 178.3,451.9 179.3,448.2 180.3,444.5 181.3,440.9 182.3,437.4 183.3,434.3 184.3,431.5 185.3,428.9 186.3,426.5 187.3,424.1 188.3,421.7 189.3,419.1 190.3,416.4 191.3,414.0 192.3,412.0 193.3,410.5 194.3,409.3 195.3,408.3 196.3,407.4 197.3,406.6 198.3,405.8 199.3,405.0 200.3,404.2 201.3,403.3 202.3,402.2 203.3,401.0 204.3,399.6 205.3,398.1 206.3,396.6 207.3,395.0 208.3,393.6 209.3,392.3 210.3,391.1 211.3,389.9 212.3,388.7 213.3,387.6 214.3,386.4 215.3,385.2 216.3,384.0 217.3,382.8 218.3,381.5 219.3,380.2 220.3,378.9 221.3,377.6 222.3,376.3 223.3,375.0 224.3,373.8 225.3,372.5 226.3,371.3 227.3,370.0 228.3,368.8 229.3,367.5 230.3,366.3 231.3,365.1 232.3,363.9 233.3,362.8 234.3,361.6 235.3,360.5 236.3,359.4 237.3,358.2 238.3,357.2 239.3,356.1 240.3,355.0 241.3,353.9 242.3,352.9 243.3,351.9 244.3,350.9 245.3,349.9 246.3,348.9 247.3,347.9 248.3,346.9 249.3,345.9 250.3,344.9 251.3,343.8 252.3,342.8 253.3,341.6 254.3,340.5 255.3,339.4 256.3,338.2 257.3,337.1 258.3,336.1 259.3,335.1 260.3,334.2 261.3,333.2 262.3,332.3 263.3,331.4 264.3,330.5 265.3,329.7 266.3,328.8 267.3,328.0 268.3,327.1 269.3,326.3 270.3,325.5 271.3,324.7 272.3,323.8 273.3,323.0 274.3,322.1 275.3,321.3 276.3,320.5 277.3,319.6 278.3,318.8 279.3,318.0 280.3,317.2 281.3,316.5 282.3,315.7 283.3,315.0 284.3,314.2 285.3,313.5 286.3,312.9 287.3,312.2 288.3,311.6 289.3,311.0 290.3,310.4 291.3,309.8 292.3,309.2 293.3,308.6 294.3,307.9 295.3,307.3 296.3,306.7 297.3,306.1 298.3,305.4 299.3,304.7 300.3,304.0 301.3,303.2 302.3,302.4 303.3,301.5 304.3,300.6 305.3,299.6 306.3,298.7 307.3,297.8 308.3,296.9 309.3,296.0 310.3,295.2 311.3,294.5 312.3,293.9 313.3,293.3 314.3,292.8 315.3,292.2 316.3,291.7 317.3,291.3 318.3,290.8 319.3,290.4 320.3,289.9 321.3,289.5 322.3,289.1 323.3,288.7 324.3,288.3 325.3,287.9 326.3,287.6 327.3,287.2 328.3,286.8 329.3,286.5 330.3,286.1 331.3,285.8 332.3,285.5 333.3,285.1 334.3,284.8 335.3,284.4 336.3,284.1 337.3,283.7 338.3,283.3 339.3,283.0 340.3,282.6 341.3,282.2 342.3,281.8 343.3,281.4 344.3,281.0 345.3,280.6 346.3,280.2 347.3,279.8 348.3,279.4 349.3,279.0 350.3,278.6 351.3,278.2 352.3,277.9 353.3,277.5 354.3,277.1 355.3,276.7 356.3,276.3 357.3,276.0 358.3,275.6 359.3,275.3 360.3,274.9 361.3,274.6 362.3,274.2 363.3,273.9 364.3,273.6 365.3,273.3 366.3,273.1 367.3,272.8 368.3,272.5 369.3,272.3 370.3,272.1 371.3,271.8 372.3,271.6 373.3,271.3 374.3,271.1 375.3,270.8 376.3,270.6 377.3,270.3 378.3,270.0 379.3,269.7 380.3,269.4 381.3,269.1 382.3,268.8 383.3,268.5 384.3,268.2 385.3,267.9 386.3,267.6 387.3,267.3 388.3,266.9 389.3,266.6 390.3,266.3 391.3,265.9 392.3,265.6 393.3,265.2 394.3,264.8 395.3,264.3 396.3,263.8 397.3,263.3 398.3,262.8 399.3,262.2 400.3,261.6 401.3,261.0 402.3,260.2 403.3,259.4 404.3,257.9 405.3,256.0 406.3,254.2 407.3,253.1 408.3,252.5 409.3,252.0 410.3,251.5 411.3,251.1 412.3,250.7 413.3,250.3 414.3,249.9 415.3,249.6 416.3,249.3 417.3,249.0 418.3,248.8 419.3,248.6 420.3,248.4 421.3,248.3 422.3,248.2 423.3,248.1 424.3,248.0 425.3,248.0 426.3,248.3 427.3,249.0 428.3,249.6 429.3,249.7 430.3,249.7 431.3,249.6 432.3,249.5 433.3,249.4 434.3,249.2 435.3,249.1 436.3,248.9 437.3,248.7 438.3,248.4 439.3,248.1 440.3,247.9 441.3,247.5 442.3,247.2 443.3,246.9 444.3,246.5 445.3,246.1 446.3,245.8 447.3,245.3 448.3,244.9 449.3,244.5 450.3,244.1 451.3,243.6 452.3,243.2 453.3,242.7 454.3,242.2 455.3,241.8 456.3,241.3 457.3,240.8 458.3,240.3 459.3,239.9 460.3,239.4 461.3,238.9 462.3,238.4 463.3,237.9 464.3,237.5 465.3,237.0 466.3,236.4 467.3,235.7 468.3,235.1 469.3,234.5 470.3,234.0 471.3,233.7 472.3,233.4 473.3,233.2 474.3,233.0 475.3,232.8 476.3,232.6 477.3,232.4 478.3,232.3 479.3,232.2 480.3,232.1 481.3,232.0 482.3,231.9 483.3,231.8 484.3,231.7 485.3,231.6 486.3,231.5 487.3,231.4 488.3,231.4 489.3,231.3 490.3,231.3 491.3,231.2 492.3,231.1 493.3,231.1 494.3,231.0 495.3,231.0 496.3,230.9 497.3,230.8 498.3,230.8 499.3,230.7 500.3,230.7 501.3,230.6 502.3,230.5 503.3,230.4 504.3,230.3 505.3,230.3 506.3,230.2 507.3,230.0 508.3,229.9 509.3,229.8 510.3,229.7 511.3,229.5 512.3,229.4 513.3,229.2 514.3,229.1 515.3,228.9 516.3,228.7 517.3,228.6 518.3,228.4 519.3,228.3 520.3,228.1 521.3,228.0 522.3,227.8 523.3,227.7 524.3,227.5 525.3,227.4 526.3,227.3 527.3,227.1 528.3,227.0 529.3,226.9 530.3,226.8 531.3,226.8 532.3,226.7 533.3,226.7 534.3,226.6 535.3,226.6 536.3,226.6 537.3,226.6 538.3,226.6 539.3,226.6 540.3,226.6 541.3,226.7 542.3,226.7 543.3,226.7 544.3,226.8 545.3,226.8 546.3,226.8 547.3,226.9 548.3,226.9 549.3,226.9 550.3,227.0 551.3,227.0 552.3,227.0 553.3,227.1 554.3,227.1 555.3,227.1 556.3,227.2 557.3,227.2 558.3,227.2 559.3,227.2 560.3,227.2 561.3,227.2 562.3,227.1 563.3,226.8 564.3,226.6 565.3,226.2 566.3,225.9 567.3,225.5 568.3,225.1 569.3,224.8 570.3,224.5 571.3,224.3 572.3,224.1 573.3,224.1 574.3,224.7 575.3,225.9 576.3,227.1 577.3,228.1 578.3,228.4 579.3,228.4 580.3,228.4 581.3,228.4 582.3,228.4 583.3,228.4 584.3,228.4 585.3,228.3 586.3,228.3 587.3,228.3 588.3,228.3 589.3,228.2 590.3,228.2 591.3,228.2 592.3,228.1 593.3,228.1 594.3,228.0 595.3,227.9 596.3,227.9 597.3,227.8 598.3,227.7 599.3,227.6 600.3,227.5 601.3,227.4 602.3,227.3 603.3,227.2 604.3,227.1 605.3,227.0 606.3,226.8 607.3,226.7 608.3,226.3 609.3,224.8 610.3,223.5 611.3,223.4 612.3,223.4 613.3,223.3 614.3,223.2 615.3,223.2 616.3,223.2 617.3,223.2 618.3,223.1 619.3,223.1 620.3,223.1 621.3,223.1 622.3,223.1 623.3,223.1 624.3,223.1 625.3,223.0 626.3,223.0 627.3,223.0 628.3,222.9 629.3,222.9 630.3,222.8 631.3,222.5 632.3,222.1 633.3,221.5 634.3,221.1 635.3,221.0 636.3,221.0 637.3,221.1 638.3,221.1 639.3,221.2 640.3,221.3 641.3,221.4 642.3,221.5 643.3,221.7 644.3,221.8 645.3,222.0 646.3,222.2 647.3,222.4 648.3,222.5 649.3,222.7 650.3,222.9 651.3,223.1 652.3,223.2 653.3,223.4 654.3,223.6 655.3,223.7 656.3,223.9 657.3,224.1 658.3,224.3 659.3,224.4 660.3,224.6 661.3,224.8 662.3,225.0 663.3,225.2 664.3,225.4 665.3,225.6 666.3,225.8 667.3,226.0 668.3,226.2 669.3,226.4 670.3,226.6 671.3,226.8 672.3,227.0 673.3,227.2 674.3,227.5 675.3,227.7 676.3,227.9 677.3,228.2 678.3,228.4 679.3,228.6 680.3,228.9 681.3,229.1 682.3,229.4 683.3,229.6 684.3,229.9 685.3,230.1 686.0,230.3" fill="none" stroke="#000" stroke-width="5.6" stroke-linejoin="round" stroke-linecap="round"/>
</g>
<clipPath id="c990"><rect x="990.1" y="0" width="1000" height="1424"/></clipPath><g clip-path="url(#c990)">
<polygon points="993.0,487.8 994.0,486.4 995.0,484.8 996.0,483.2 997.0,481.4 998.0,479.5 999.0,477.5 1000.0,475.5 1001.0,473.4 1002.0,471.2 1003.0,468.8 1004.0,466.2 1005.0,463.5 1006.0,460.7 1007.0,457.7 1008.0,454.7 1009.0,451.6 1010.0,448.5 1011.0,445.5 1012.0,442.4 1013.0,439.3 1014.0,436.1 1015.0,432.9 1016.0,429.6 1017.0,426.3 1018.0,423.1 1019.0,420.0 1020.0,417.0 1021.0,414.0 1022.0,410.9 1023.0,407.9 1024.0,404.8 1025.0,401.9 1026.0,399.0 1027.0,396.2 1028.0,393.5 1029.0,391.0 1030.0,388.7 1031.0,386.6 1032.0,384.7 1033.0,383.0 1034.0,381.3 1035.0,379.8 1036.0,378.4 1037.0,377.0 1038.0,375.6 1039.0,374.3 1040.0,372.9 1041.0,371.6 1042.0,370.3 1043.0,369.0 1044.0,367.7 1045.0,366.5 1046.0,365.3 1047.0,364.1 1048.0,362.9 1049.0,361.7 1050.0,360.5 1051.0,359.3 1052.0,358.2 1053.0,357.0 1054.0,355.8 1055.0,354.7 1056.0,353.5 1057.0,352.5 1058.0,351.4 1059.0,350.3 1060.0,349.2 1061.0,348.0 1062.0,346.8 1063.0,345.6 1064.0,344.3 1065.0,342.9 1066.0,341.4 1067.0,339.8 1068.0,338.2 1069.0,336.7 1070.0,335.3 1071.0,333.9 1072.0,332.6 1073.0,331.3 1074.0,329.9 1075.0,328.6 1076.0,327.3 1077.0,326.0 1078.0,324.7 1079.0,323.5 1080.0,322.2 1081.0,321.0 1082.0,319.8 1083.0,318.5 1084.0,317.3 1085.0,316.2 1086.0,315.0 1087.0,313.8 1088.0,312.7 1089.0,311.6 1090.0,310.5 1091.0,309.4 1092.0,308.4 1093.0,307.3 1094.0,306.3 1095.0,305.3 1096.0,304.3 1097.0,303.3 1098.0,302.4 1099.0,301.4 1100.0,300.5 1101.0,299.6 1102.0,298.7 1103.0,297.8 1104.0,296.9 1105.0,296.0 1106.0,295.2 1107.0,294.3 1108.0,293.5 1109.0,292.6 1110.0,291.8 1111.0,291.0 1112.0,290.2 1113.0,289.4 1114.0,288.6 1115.0,287.9 1116.0,287.1 1117.0,286.4 1118.0,285.6 1119.0,284.9 1120.0,284.2 1121.0,283.5 1122.0,282.8 1123.0,282.1 1124.0,281.4 1125.0,280.7 1126.0,280.0 1127.0,279.4 1128.0,278.7 1129.0,278.1 1130.0,277.4 1131.0,276.8 1132.0,276.2 1133.0,275.5 1134.0,274.9 1135.0,274.3 1136.0,273.7 1137.0,273.1 1138.0,272.5 1139.0,272.0 1140.0,271.4 1141.0,270.8 1142.0,270.3 1143.0,269.7 1144.0,269.2 1145.0,268.6 1146.0,268.1 1147.0,267.5 1148.0,266.9 1149.0,266.2 1150.0,265.6 1151.0,265.0 1152.0,264.3 1153.0,263.7 1154.0,263.1 1155.0,262.5 1156.0,261.9 1157.0,261.3 1158.0,260.8 1159.0,260.3 1160.0,259.9 1161.0,259.5 1162.0,259.1 1163.0,258.8 1164.0,258.6 1165.0,258.4 1166.0,258.3 1167.0,258.3 1168.0,259.5 1169.0,260.7 1170.0,260.8 1171.0,260.8 1172.0,260.7 1173.0,260.6 1174.0,260.5 1175.0,260.4 1176.0,260.2 1177.0,260.0 1178.0,259.8 1179.0,259.6 1180.0,259.3 1181.0,259.0 1182.0,258.7 1183.0,258.3 1184.0,258.0 1185.0,257.6 1186.0,257.1 1187.0,256.7 1188.0,256.2 1189.0,255.6 1190.0,255.1 1191.0,254.5 1192.0,253.9 1193.0,253.3 1194.0,252.6 1195.0,251.9 1196.0,251.2 1197.0,250.4 1198.0,249.6 1199.0,247.6 1200.0,245.2 1201.0,244.2 1202.0,243.4 1203.0,242.7 1204.0,242.0 1205.0,241.4 1206.0,240.8 1207.0,240.2 1208.0,239.7 1209.0,239.2 1210.0,238.7 1211.0,238.3 1212.0,238.0 1213.0,237.7 1214.0,237.4 1215.0,237.2 1216.0,237.0 1217.0,236.8 1218.0,236.7 1219.0,236.6 1220.0,236.6 1221.0,236.7 1222.0,237.1 1223.0,237.2 1224.0,237.1 1225.0,237.0 1226.0,236.8 1227.0,236.6 1228.0,236.3 1229.0,236.0 1230.0,235.6 1231.0,235.2 1232.0,234.7 1233.0,234.3 1234.0,233.8 1235.0,233.3 1236.0,232.8 1237.0,232.2 1238.0,231.7 1239.0,231.2 1240.0,230.7 1241.0,230.2 1242.0,229.8 1243.0,229.3 1244.0,228.9 1245.0,228.5 1246.0,228.2 1247.0,227.9 1248.0,227.7 1249.0,227.5 1250.0,227.4 1251.0,227.3 1252.0,227.8 1253.0,229.3 1254.0,229.8 1255.0,229.7 1256.0,229.5 1257.0,229.3 1258.0,228.9 1259.0,228.6 1260.0,228.1 1261.0,227.7 1262.0,227.3 1263.0,226.9 1264.0,226.5 1265.0,226.1 1266.0,225.8 1267.0,224.7 1268.0,221.2 1269.0,220.0 1270.0,221.2 1271.0,224.7 1272.0,225.8 1273.0,226.0 1274.0,226.2 1275.0,226.4 1276.0,226.6 1277.0,226.7 1278.0,226.9 1279.0,227.0 1280.0,227.0 1281.0,227.0 1282.0,226.9 1283.0,226.8 1284.0,226.7 1285.0,226.5 1286.0,226.4 1287.0,226.2 1288.0,225.9 1289.0,225.7 1290.0,225.4 1291.0,225.1 1292.0,224.8 1293.0,224.5 1294.0,224.2 1295.0,223.9 1296.0,223.6 1297.0,223.3 1298.0,223.0 1299.0,222.7 1300.0,222.4 1301.0,222.2 1302.0,221.9 1303.0,221.7 1304.0,218.5 1305.0,216.1 1306.0,215.9 1307.0,218.0 1308.0,220.8 1309.0,220.6 1310.0,220.4 1311.0,220.3 1312.0,220.1 1313.0,219.9 1314.0,219.8 1315.0,219.6 1316.0,219.5 1317.0,219.3 1318.0,219.2 1319.0,219.0 1320.0,218.9 1321.0,218.7 1322.0,218.6 1323.0,218.5 1324.0,218.3 1325.0,218.2 1326.0,218.1 1327.0,217.9 1328.0,217.8 1329.0,217.7 1330.0,217.5 1331.0,217.4 1332.0,217.2 1333.0,217.1 1334.0,217.0 1335.0,216.8 1336.0,216.7 1337.0,216.6 1338.0,216.4 1339.0,216.3 1340.0,216.2 1341.0,216.0 1342.0,215.9 1343.0,215.7 1344.0,215.6 1345.0,215.5 1346.0,215.3 1347.0,215.2 1348.0,215.1 1349.0,214.9 1350.0,214.8 1351.0,214.7 1352.0,214.5 1353.0,214.4 1354.0,214.3 1355.0,214.2 1356.0,214.0 1357.0,213.9 1358.0,213.8 1359.0,212.8 1360.0,209.3 1361.0,208.1 1362.0,209.1 1363.0,212.5 1364.0,213.3 1365.0,213.3 1366.0,213.2 1367.0,213.1 1368.0,213.0 1369.0,213.0 1370.0,212.9 1371.0,212.8 1372.0,212.8 1373.0,212.7 1374.0,212.6 1375.0,212.6 1376.0,212.5 1377.0,212.5 1378.0,212.4 1379.0,212.4 1380.0,212.3 1381.0,212.2 1382.0,212.2 1383.0,212.1 1384.0,212.1 1385.0,212.0 1386.0,212.0 1387.0,211.9 1388.0,211.9 1389.0,211.8 1390.0,211.8 1391.0,211.7 1392.0,211.7 1393.0,211.6 1394.0,211.6 1395.0,211.5 1396.0,211.5 1397.0,211.4 1398.0,211.4 1399.0,211.3 1400.0,211.3 1401.0,211.2 1402.0,211.2 1403.0,211.1 1404.0,211.1 1405.0,211.0 1406.0,211.0 1407.0,210.9 1408.0,210.8 1409.0,207.8 1410.0,205.5 1411.0,205.5 1412.0,207.7 1413.0,210.5 1414.0,210.5 1415.0,210.4 1416.0,210.3 1417.0,210.3 1418.0,210.2 1419.0,210.1 1420.0,210.0 1421.0,207.0 1422.0,204.7 1423.0,204.6 1424.0,206.8 1425.0,209.7 1426.0,209.6 1427.0,209.5 1428.0,209.4 1429.0,209.3 1430.0,209.2 1431.0,209.2 1432.0,209.1 1433.0,209.0 1434.0,208.9 1435.0,208.8 1436.0,208.8 1437.0,208.7 1438.0,208.6 1439.0,208.5 1440.0,208.4 1441.0,208.4 1442.0,208.3 1443.0,208.2 1444.0,208.1 1445.0,208.1 1446.0,208.0 1447.0,207.9 1448.0,207.8 1449.0,207.8 1450.0,207.7 1451.0,207.6 1452.0,207.6 1453.0,207.5 1454.0,207.5 1455.0,207.4 1456.0,207.3 1457.0,207.3 1458.0,207.3 1459.0,207.2 1460.0,207.2 1461.0,207.1 1462.0,207.1 1463.0,207.1 1464.0,207.0 1465.0,207.0 1466.0,207.0 1467.0,206.9 1468.0,206.9 1469.0,206.9 1470.0,206.9 1471.0,206.9 1472.0,206.9 1473.0,206.9 1474.0,206.9 1475.0,206.9 1476.0,207.0 1477.0,207.0 1478.0,207.1 1479.0,207.1 1480.0,207.2 1481.0,207.3 1482.0,207.3 1483.0,207.4 1484.0,207.5 1485.0,207.6 1486.0,207.6 1487.0,207.7 1488.0,207.8 1489.0,207.9 1490.0,207.9 1491.0,208.0 1492.0,208.1 1493.0,208.1 1494.0,208.2 1495.0,208.3 1496.0,208.3 1497.0,208.3 1498.0,208.4 1499.0,208.4 1500.0,208.4 1501.0,208.4 1502.0,208.4 1503.0,208.4 1504.0,208.4 1505.0,208.4 1506.0,208.3 1507.0,208.3 1508.0,208.3 1509.0,208.2 1510.0,208.2 1511.0,208.1 1512.0,208.1 1513.0,208.0 1514.0,207.9 1515.0,207.9 1516.0,207.8 1517.0,207.7 1518.0,207.6 1519.0,207.5 1520.0,207.4 1521.0,207.2 1522.0,207.1 1523.0,207.0 1524.0,206.8 1525.0,206.7 1526.0,206.5 1527.0,206.3 1528.0,206.2 1529.0,206.0 1530.0,205.6 1531.0,204.7 1532.0,203.4 1533.0,202.0 1534.0,200.8 1535.0,200.1 1536.0,200.0 1537.0,199.9 1538.0,199.7 1539.0,199.6 1540.0,196.6 1541.0,194.2 1542.0,194.1 1543.0,196.3 1544.0,199.1 1545.0,199.0 1546.0,198.9 1547.0,198.9 1548.0,198.8 1549.0,198.7 1550.0,198.7 1551.0,198.6 1552.0,198.6 1553.0,198.5 1554.0,198.5 1555.0,198.4 1556.0,198.4 1557.0,198.4 1558.0,198.3 1559.0,198.3 1560.0,198.3 1561.0,198.3 1562.0,198.2 1563.0,198.2 1564.0,198.2 1565.0,198.2 1566.0,198.2 1567.0,198.2 1568.0,198.2 1569.0,198.2 1570.0,198.2 1571.0,198.2 1572.0,198.2 1573.0,198.2 1574.0,198.2 1575.0,198.2 1576.0,198.2 1577.0,198.2 1578.0,198.2 1579.0,198.2 1580.0,198.2 1581.0,198.2 1582.0,198.2 1583.0,198.2 1584.0,198.2 1585.0,198.2 1586.0,198.2 1587.0,198.2 1588.0,198.2 1589.0,198.2 1590.0,198.2 1591.0,198.2 1592.0,198.2 1593.0,198.2 1594.0,198.2 1595.0,198.2 1596.0,198.2 1597.0,198.2 1598.0,198.2 1599.0,198.2 1600.0,198.2 1601.0,198.2 1602.0,198.2 1603.0,198.2 1603.5,198.2 1603.5,230.8 1603.0,230.8 1602.0,230.8 1601.0,230.8 1600.0,230.8 1599.0,230.8 1598.0,230.8 1597.0,230.8 1596.0,230.8 1595.0,230.8 1594.0,230.8 1593.0,230.8 1592.0,230.8 1591.0,230.8 1590.0,230.9 1589.0,230.9 1588.0,230.9 1587.0,230.9 1586.0,230.9 1585.0,230.9 1584.0,230.9 1583.0,230.9 1582.0,230.9 1581.0,230.9 1580.0,231.0 1579.0,231.0 1578.0,231.0 1577.0,231.0 1576.0,231.0 1575.0,231.0 1574.0,231.0 1573.0,231.1 1572.0,231.1 1571.0,231.1 1570.0,231.1 1569.0,231.1 1568.0,231.1 1567.0,231.2 1566.0,231.2 1565.0,231.2 1564.0,231.2 1563.0,231.2 1562.0,231.2 1561.0,231.3 1560.0,231.3 1559.0,231.3 1558.0,231.3 1557.0,231.4 1556.0,231.4 1555.0,231.4 1554.0,231.4 1553.0,231.4 1552.0,231.5 1551.0,231.5 1550.0,231.5 1549.0,231.5 1548.0,231.6 1547.0,231.6 1546.0,231.6 1545.0,231.6 1544.0,231.7 1543.0,231.7 1542.0,231.7 1541.0,231.7 1540.0,231.8 1539.0,231.8 1538.0,231.8 1537.0,231.9 1536.0,231.9 1535.0,232.0 1534.0,232.0 1533.0,232.1 1532.0,232.2 1531.0,232.3 1530.0,232.3 1529.0,232.4 1528.0,232.5 1527.0,232.6 1526.0,232.7 1525.0,232.8 1524.0,232.9 1523.0,233.0 1522.0,233.1 1521.0,233.3 1520.0,233.4 1519.0,233.5 1518.0,233.6 1517.0,233.7 1516.0,233.8 1515.0,233.9 1514.0,234.0 1513.0,234.1 1512.0,234.1 1511.0,234.2 1510.0,234.3 1509.0,234.4 1508.0,234.4 1507.0,234.5 1506.0,234.6 1505.0,234.6 1504.0,234.6 1503.0,234.7 1502.0,234.7 1501.0,234.7 1500.0,234.7 1499.0,234.7 1498.0,234.7 1497.0,234.7 1496.0,234.6 1495.0,234.6 1494.0,234.6 1493.0,234.5 1492.0,234.5 1491.0,234.4 1490.0,234.4 1489.0,234.3 1488.0,234.3 1487.0,234.2 1486.0,234.2 1485.0,234.1 1484.0,234.1 1483.0,234.0 1482.0,234.0 1481.0,233.9 1480.0,233.9 1479.0,233.9 1478.0,233.8 1477.0,233.8 1476.0,233.8 1475.0,233.7 1474.0,233.7 1473.0,233.7 1472.0,233.7 1471.0,233.7 1470.0,233.7 1469.0,233.7 1468.0,233.7 1467.0,233.7 1466.0,233.7 1465.0,233.7 1464.0,233.8 1463.0,233.8 1462.0,233.8 1461.0,233.8 1460.0,233.8 1459.0,233.8 1458.0,233.9 1457.0,233.9 1456.0,233.9 1455.0,233.9 1454.0,234.0 1453.0,234.0 1452.0,234.0 1451.0,234.1 1450.0,234.1 1449.0,234.1 1448.0,234.2 1447.0,234.2 1446.0,234.2 1445.0,234.3 1444.0,234.3 1443.0,234.4 1442.0,234.4 1441.0,234.5 1440.0,234.5 1439.0,234.6 1438.0,234.6 1437.0,234.7 1436.0,234.7 1435.0,234.8 1434.0,234.8 1433.0,234.9 1432.0,234.9 1431.0,235.0 1430.0,235.1 1429.0,235.1 1428.0,235.2 1427.0,235.3 1426.0,235.3 1425.0,235.4 1424.0,235.5 1423.0,235.5 1422.0,235.6 1421.0,235.7 1420.0,235.8 1419.0,236.0 1418.0,236.2 1417.0,236.4 1416.0,236.6 1415.0,236.8 1414.0,237.0 1413.0,237.2 1412.0,237.4 1411.0,237.5 1410.0,237.6 1409.0,237.7 1408.0,237.8 1407.0,237.9 1406.0,238.0 1405.0,238.1 1404.0,238.1 1403.0,238.2 1402.0,238.3 1401.0,238.3 1400.0,238.4 1399.0,238.5 1398.0,238.5 1397.0,238.6 1396.0,238.6 1395.0,238.7 1394.0,238.7 1393.0,238.8 1392.0,238.8 1391.0,238.9 1390.0,238.9 1389.0,238.9 1388.0,239.0 1387.0,239.0 1386.0,239.1 1385.0,239.1 1384.0,239.1 1383.0,239.2 1382.0,239.2 1381.0,239.3 1380.0,239.3 1379.0,239.3 1378.0,239.4 1377.0,239.4 1376.0,239.5 1375.0,239.5 1374.0,239.6 1373.0,239.6 1372.0,239.7 1371.0,239.7 1370.0,239.8 1369.0,239.8 1368.0,239.9 1367.0,239.9 1366.0,240.0 1365.0,240.1 1364.0,240.1 1363.0,240.2 1362.0,240.3 1361.0,240.4 1360.0,240.4 1359.0,240.5 1358.0,240.6 1357.0,240.7 1356.0,240.8 1355.0,240.9 1354.0,241.0 1353.0,241.2 1352.0,241.3 1351.0,241.4 1350.0,241.5 1349.0,241.7 1348.0,241.8 1347.0,241.9 1346.0,242.1 1345.0,242.2 1344.0,242.3 1343.0,242.5 1342.0,242.6 1341.0,242.8 1340.0,242.9 1339.0,243.1 1338.0,243.2 1337.0,243.4 1336.0,243.6 1335.0,243.7 1334.0,243.9 1333.0,244.1 1332.0,244.3 1331.0,244.4 1330.0,244.6 1329.0,244.8 1328.0,245.0 1327.0,245.2 1326.0,245.4 1325.0,245.7 1324.0,245.9 1323.0,246.1 1322.0,246.3 1321.0,246.5 1320.0,246.7 1319.0,247.0 1318.0,247.2 1317.0,247.4 1316.0,247.6 1315.0,247.9 1314.0,248.1 1313.0,248.3 1312.0,248.5 1311.0,248.7 1310.0,248.9 1309.0,249.2 1308.0,249.4 1307.0,249.6 1306.0,249.8 1305.0,250.0 1304.0,250.2 1303.0,250.4 1302.0,250.6 1301.0,250.8 1300.0,251.0 1299.0,251.2 1298.0,251.4 1297.0,251.6 1296.0,251.7 1295.0,251.9 1294.0,252.1 1293.0,252.3 1292.0,252.5 1291.0,252.7 1290.0,252.9 1289.0,253.1 1288.0,253.3 1287.0,253.5 1286.0,253.7 1285.0,253.9 1284.0,254.0 1283.0,254.2 1282.0,254.4 1281.0,254.6 1280.0,254.8 1279.0,255.0 1278.0,255.2 1277.0,255.3 1276.0,255.5 1275.0,255.7 1274.0,255.9 1273.0,256.0 1272.0,256.2 1271.0,256.4 1270.0,256.5 1269.0,256.7 1268.0,256.9 1267.0,257.0 1266.0,257.2 1265.0,257.4 1264.0,257.6 1263.0,257.7 1262.0,257.9 1261.0,258.1 1260.0,258.3 1259.0,258.5 1258.0,258.7 1257.0,258.9 1256.0,259.1 1255.0,259.3 1254.0,259.5 1253.0,259.8 1252.0,260.0 1251.0,260.2 1250.0,260.5 1249.0,260.7 1248.0,261.0 1247.0,261.3 1246.0,261.6 1245.0,261.8 1244.0,262.1 1243.0,262.4 1242.0,262.7 1241.0,263.0 1240.0,263.4 1239.0,263.7 1238.0,264.0 1237.0,264.3 1236.0,264.7 1235.0,265.1 1234.0,265.4 1233.0,265.8 1232.0,266.2 1231.0,266.6 1230.0,267.0 1229.0,267.4 1228.0,267.9 1227.0,268.4 1226.0,268.9 1225.0,269.4 1224.0,270.0 1223.0,270.5 1222.0,271.0 1221.0,271.6 1220.0,272.1 1219.0,272.6 1218.0,273.2 1217.0,273.8 1216.0,274.3 1215.0,274.9 1214.0,275.5 1213.0,276.1 1212.0,276.7 1211.0,277.2 1210.0,277.8 1209.0,278.4 1208.0,279.0 1207.0,279.6 1206.0,280.2 1205.0,280.7 1204.0,281.3 1203.0,281.8 1202.0,282.4 1201.0,282.9 1200.0,283.4 1199.0,283.9 1198.0,284.4 1197.0,284.9 1196.0,285.4 1195.0,285.8 1194.0,286.3 1193.0,286.8 1192.0,287.3 1191.0,287.7 1190.0,288.2 1189.0,288.6 1188.0,289.1 1187.0,289.5 1186.0,290.0 1185.0,290.4 1184.0,290.8 1183.0,291.3 1182.0,291.7 1181.0,292.1 1180.0,292.6 1179.0,293.0 1178.0,293.4 1177.0,293.9 1176.0,294.3 1175.0,294.7 1174.0,295.1 1173.0,295.5 1172.0,295.9 1171.0,296.4 1170.0,296.8 1169.0,297.2 1168.0,297.6 1167.0,298.0 1166.0,298.4 1165.0,298.8 1164.0,299.2 1163.0,299.6 1162.0,300.0 1161.0,300.3 1160.0,300.7 1159.0,301.1 1158.0,301.4 1157.0,301.8 1156.0,302.2 1155.0,302.5 1154.0,302.9 1153.0,303.3 1152.0,303.6 1151.0,304.0 1150.0,304.4 1149.0,304.8 1148.0,305.2 1147.0,305.7 1146.0,306.1 1145.0,306.6 1144.0,307.0 1143.0,307.5 1142.0,308.0 1141.0,308.5 1140.0,309.1 1139.0,309.6 1138.0,310.2 1137.0,310.7 1136.0,311.3 1135.0,311.9 1134.0,312.5 1133.0,313.1 1132.0,313.7 1131.0,314.3 1130.0,315.0 1129.0,315.6 1128.0,316.3 1127.0,317.0 1126.0,317.6 1125.0,318.3 1124.0,319.0 1123.0,319.8 1122.0,320.5 1121.0,321.2 1120.0,322.0 1119.0,322.7 1118.0,323.5 1117.0,324.4 1116.0,325.2 1115.0,326.0 1114.0,326.9 1113.0,327.8 1112.0,328.7 1111.0,329.6 1110.0,330.5 1109.0,331.4 1108.0,332.4 1107.0,333.3 1106.0,334.3 1105.0,335.2 1104.0,336.2 1103.0,337.2 1102.0,338.2 1101.0,339.2 1100.0,340.2 1099.0,341.2 1098.0,342.2 1097.0,343.2 1096.0,344.2 1095.0,345.3 1094.0,346.3 1093.0,347.3 1092.0,348.3 1091.0,349.3 1090.0,350.4 1089.0,351.4 1088.0,352.4 1087.0,353.5 1086.0,354.6 1085.0,355.6 1084.0,356.7 1083.0,357.8 1082.0,358.9 1081.0,360.0 1080.0,361.1 1079.0,362.3 1078.0,363.4 1077.0,364.6 1076.0,365.7 1075.0,366.9 1074.0,368.1 1073.0,369.3 1072.0,370.5 1071.0,371.7 1070.0,373.0 1069.0,374.2 1068.0,375.4 1067.0,376.7 1066.0,378.0 1065.0,379.2 1064.0,380.5 1063.0,381.8 1062.0,383.2 1061.0,384.5 1060.0,385.9 1059.0,387.3 1058.0,388.8 1057.0,390.2 1056.0,391.7 1055.0,393.2 1054.0,394.9 1053.0,396.7 1052.0,398.6 1051.0,400.5 1050.0,402.2 1049.0,403.7 1048.0,404.9 1047.0,406.1 1046.0,407.1 1045.0,408.0 1044.0,408.8 1043.0,409.7 1042.0,410.4 1041.0,411.2 1040.0,412.1 1039.0,412.9 1038.0,413.9 1037.0,414.9 1036.0,416.1 1035.0,417.4 1034.0,418.8 1033.0,420.6 1032.0,422.7 1031.0,425.2 1030.0,427.9 1029.0,430.8 1028.0,433.8 1027.0,436.9 1026.0,440.0 1025.0,443.2 1024.0,446.2 1023.0,449.2 1022.0,452.4 1021.0,455.7 1020.0,459.0 1019.0,462.4 1018.0,465.8 1017.0,469.2 1016.0,472.6 1015.0,475.9 1014.0,479.1 1013.0,482.3 1012.0,485.4 1011.0,488.6 1010.0,491.7 1009.0,494.8 1008.0,497.8 1007.0,500.7 1006.0,503.5 1005.0,506.2 1004.0,508.8 1003.0,511.3 1002.0,513.8 1001.0,516.3 1000.0,518.7 999.0,521.0 998.0,523.3 997.0,525.4 996.0,527.6 995.0,529.6 994.0,531.6 993.0,533.5" fill="#666666" fill-opacity="0.83" stroke="none"/>
<polyline points="993.0,487.8 994.0,486.4 995.0,484.8 996.0,483.2 997.0,481.4 998.0,479.5 999.0,477.5 1000.0,475.5 1001.0,473.4 1002.0,471.2 1003.0,468.8 1004.0,466.2 1005.0,463.5 1006.0,460.7 1007.0,457.7 1008.0,454.7 1009.0,451.6 1010.0,448.5 1011.0,445.5 1012.0,442.4 1013.0,439.3 1014.0,436.1 1015.0,432.9 1016.0,429.6 1017.0,426.3 1018.0,423.1 1019.0,420.0 1020.0,417.0 1021.0,414.0 1022.0,410.9 1023.0,407.9 1024.0,404.8 1025.0,401.9 1026.0,399.0 1027.0,396.2 1028.0,393.5 1029.0,391.0 1030.0,388.7 1031.0,386.6 1032.0,384.7 1033.0,383.0 1034.0,381.3 1035.0,379.8 1036.0,378.4 1037.0,377.0 1038.0,375.6 1039.0,374.3 1040.0,372.9 1041.0,371.6 1042.0,370.3 1043.0,369.0 1044.0,367.7 1045.0,366.5 1046.0,365.3 1047.0,364.1 1048.0,362.9 1049.0,361.7 1050.0,360.5 1051.0,359.3 1052.0,358.2 1053.0,357.0 1054.0,355.8 1055.0,354.7 1056.0,353.5 1057.0,352.5 1058.0,351.4 1059.0,350.3 1060.0,349.2 1061.0,348.0 1062.0,346.8 1063.0,345.6 1064.0,344.3 1065.0,342.9 1066.0,341.4 1067.0,339.8 1068.0,338.2 1069.0,336.7 1070.0,335.3 1071.0,333.9 1072.0,332.6 1073.0,331.3 1074.0,329.9 1075.0,328.6 1076.0,327.3 1077.0,326.0 1078.0,324.7 1079.0,323.5 1080.0,322.2 1081.0,321.0 1082.0,319.8 1083.0,318.5 1084.0,317.3 1085.0,316.2 1086.0,315.0 1087.0,313.8 1088.0,312.7 1089.0,311.6 1090.0,310.5 1091.0,309.4 1092.0,308.4 1093.0,307.3 1094.0,306.3 1095.0,305.3 1096.0,304.3 1097.0,303.3 1098.0,302.4 1099.0,301.4 1100.0,300.5 1101.0,299.6 1102.0,298.7 1103.0,297.8 1104.0,296.9 1105.0,296.0 1106.0,295.2 1107.0,294.3 1108.0,293.5 1109.0,292.6 1110.0,291.8 1111.0,291.0 1112.0,290.2 1113.0,289.4 1114.0,288.6 1115.0,287.9 1116.0,287.1 1117.0,286.4 1118.0,285.6 1119.0,284.9 1120.0,284.2 1121.0,283.5 1122.0,282.8 1123.0,282.1 1124.0,281.4 1125.0,280.7 1126.0,280.0 1127.0,279.4 1128.0,278.7 1129.0,278.1 1130.0,277.4 1131.0,276.8 1132.0,276.2 1133.0,275.5 1134.0,274.9 1135.0,274.3 1136.0,273.7 1137.0,273.1 1138.0,272.5 1139.0,272.0 1140.0,271.4 1141.0,270.8 1142.0,270.3 1143.0,269.7 1144.0,269.2 1145.0,268.6 1146.0,268.1 1147.0,267.5 1148.0,266.9 1149.0,266.2 1150.0,265.6 1151.0,265.0 1152.0,264.3 1153.0,263.7 1154.0,263.1 1155.0,262.5 1156.0,261.9 1157.0,261.3 1158.0,260.8 1159.0,260.3 1160.0,259.9 1161.0,259.5 1162.0,259.1 1163.0,258.8 1164.0,258.6 1165.0,258.4 1166.0,258.3 1167.0,258.3 1168.0,259.5 1169.0,260.7 1170.0,260.8 1171.0,260.8 1172.0,260.7 1173.0,260.6 1174.0,260.5 1175.0,260.4 1176.0,260.2 1177.0,260.0 1178.0,259.8 1179.0,259.6 1180.0,259.3 1181.0,259.0 1182.0,258.7 1183.0,258.3 1184.0,258.0 1185.0,257.6 1186.0,257.1 1187.0,256.7 1188.0,256.2 1189.0,255.6 1190.0,255.1 1191.0,254.5 1192.0,253.9 1193.0,253.3 1194.0,252.6 1195.0,251.9 1196.0,251.2 1197.0,250.4 1198.0,249.6 1199.0,247.6 1200.0,245.2 1201.0,244.2 1202.0,243.4 1203.0,242.7 1204.0,242.0 1205.0,241.4 1206.0,240.8 1207.0,240.2 1208.0,239.7 1209.0,239.2 1210.0,238.7 1211.0,238.3 1212.0,238.0 1213.0,237.7 1214.0,237.4 1215.0,237.2 1216.0,237.0 1217.0,236.8 1218.0,236.7 1219.0,236.6 1220.0,236.6 1221.0,236.7 1222.0,237.1 1223.0,237.2 1224.0,237.1 1225.0,237.0 1226.0,236.8 1227.0,236.6 1228.0,236.3 1229.0,236.0 1230.0,235.6 1231.0,235.2 1232.0,234.7 1233.0,234.3 1234.0,233.8 1235.0,233.3 1236.0,232.8 1237.0,232.2 1238.0,231.7 1239.0,231.2 1240.0,230.7 1241.0,230.2 1242.0,229.8 1243.0,229.3 1244.0,228.9 1245.0,228.5 1246.0,228.2 1247.0,227.9 1248.0,227.7 1249.0,227.5 1250.0,227.4 1251.0,227.3 1252.0,227.8 1253.0,229.3 1254.0,229.8 1255.0,229.7 1256.0,229.5 1257.0,229.3 1258.0,228.9 1259.0,228.6 1260.0,228.1 1261.0,227.7 1262.0,227.3 1263.0,226.9 1264.0,226.5 1265.0,226.1 1266.0,225.8 1267.0,224.7 1268.0,221.2 1269.0,220.0 1270.0,221.2 1271.0,224.7 1272.0,225.8 1273.0,226.0 1274.0,226.2 1275.0,226.4 1276.0,226.6 1277.0,226.7 1278.0,226.9 1279.0,227.0 1280.0,227.0 1281.0,227.0 1282.0,226.9 1283.0,226.8 1284.0,226.7 1285.0,226.5 1286.0,226.4 1287.0,226.2 1288.0,225.9 1289.0,225.7 1290.0,225.4 1291.0,225.1 1292.0,224.8 1293.0,224.5 1294.0,224.2 1295.0,223.9 1296.0,223.6 1297.0,223.3 1298.0,223.0 1299.0,222.7 1300.0,222.4 1301.0,222.2 1302.0,221.9 1303.0,221.7 1304.0,218.5 1305.0,216.1 1306.0,215.9 1307.0,218.0 1308.0,220.8 1309.0,220.6 1310.0,220.4 1311.0,220.3 1312.0,220.1 1313.0,219.9 1314.0,219.8 1315.0,219.6 1316.0,219.5 1317.0,219.3 1318.0,219.2 1319.0,219.0 1320.0,218.9 1321.0,218.7 1322.0,218.6 1323.0,218.5 1324.0,218.3 1325.0,218.2 1326.0,218.1 1327.0,217.9 1328.0,217.8 1329.0,217.7 1330.0,217.5 1331.0,217.4 1332.0,217.2 1333.0,217.1 1334.0,217.0 1335.0,216.8 1336.0,216.7 1337.0,216.6 1338.0,216.4 1339.0,216.3 1340.0,216.2 1341.0,216.0 1342.0,215.9 1343.0,215.7 1344.0,215.6 1345.0,215.5 1346.0,215.3 1347.0,215.2 1348.0,215.1 1349.0,214.9 1350.0,214.8 1351.0,214.7 1352.0,214.5 1353.0,214.4 1354.0,214.3 1355.0,214.2 1356.0,214.0 1357.0,213.9 1358.0,213.8 1359.0,212.8 1360.0,209.3 1361.0,208.1 1362.0,209.1 1363.0,212.5 1364.0,213.3 1365.0,213.3 1366.0,213.2 1367.0,213.1 1368.0,213.0 1369.0,213.0 1370.0,212.9 1371.0,212.8 1372.0,212.8 1373.0,212.7 1374.0,212.6 1375.0,212.6 1376.0,212.5 1377.0,212.5 1378.0,212.4 1379.0,212.4 1380.0,212.3 1381.0,212.2 1382.0,212.2 1383.0,212.1 1384.0,212.1 1385.0,212.0 1386.0,212.0 1387.0,211.9 1388.0,211.9 1389.0,211.8 1390.0,211.8 1391.0,211.7 1392.0,211.7 1393.0,211.6 1394.0,211.6 1395.0,211.5 1396.0,211.5 1397.0,211.4 1398.0,211.4 1399.0,211.3 1400.0,211.3 1401.0,211.2 1402.0,211.2 1403.0,211.1 1404.0,211.1 1405.0,211.0 1406.0,211.0 1407.0,210.9 1408.0,210.8 1409.0,207.8 1410.0,205.5 1411.0,205.5 1412.0,207.7 1413.0,210.5 1414.0,210.5 1415.0,210.4 1416.0,210.3 1417.0,210.3 1418.0,210.2 1419.0,210.1 1420.0,210.0 1421.0,207.0 1422.0,204.7 1423.0,204.6 1424.0,206.8 1425.0,209.7 1426.0,209.6 1427.0,209.5 1428.0,209.4 1429.0,209.3 1430.0,209.2 1431.0,209.2 1432.0,209.1 1433.0,209.0 1434.0,208.9 1435.0,208.8 1436.0,208.8 1437.0,208.7 1438.0,208.6 1439.0,208.5 1440.0,208.4 1441.0,208.4 1442.0,208.3 1443.0,208.2 1444.0,208.1 1445.0,208.1 1446.0,208.0 1447.0,207.9 1448.0,207.8 1449.0,207.8 1450.0,207.7 1451.0,207.6 1452.0,207.6 1453.0,207.5 1454.0,207.5 1455.0,207.4 1456.0,207.3 1457.0,207.3 1458.0,207.3 1459.0,207.2 1460.0,207.2 1461.0,207.1 1462.0,207.1 1463.0,207.1 1464.0,207.0 1465.0,207.0 1466.0,207.0 1467.0,206.9 1468.0,206.9 1469.0,206.9 1470.0,206.9 1471.0,206.9 1472.0,206.9 1473.0,206.9 1474.0,206.9 1475.0,206.9 1476.0,207.0 1477.0,207.0 1478.0,207.1 1479.0,207.1 1480.0,207.2 1481.0,207.3 1482.0,207.3 1483.0,207.4 1484.0,207.5 1485.0,207.6 1486.0,207.6 1487.0,207.7 1488.0,207.8 1489.0,207.9 1490.0,207.9 1491.0,208.0 1492.0,208.1 1493.0,208.1 1494.0,208.2 1495.0,208.3 1496.0,208.3 1497.0,208.3 1498.0,208.4 1499.0,208.4 1500.0,208.4 1501.0,208.4 1502.0,208.4 1503.0,208.4 1504.0,208.4 1505.0,208.4 1506.0,208.3 1507.0,208.3 1508.0,208.3 1509.0,208.2 1510.0,208.2 1511.0,208.1 1512.0,208.1 1513.0,208.0 1514.0,207.9 1515.0,207.9 1516.0,207.8 1517.0,207.7 1518.0,207.6 1519.0,207.5 1520.0,207.4 1521.0,207.2 1522.0,207.1 1523.0,207.0 1524.0,206.8 1525.0,206.7 1526.0,206.5 1527.0,206.3 1528.0,206.2 1529.0,206.0 1530.0,205.6 1531.0,204.7 1532.0,203.4 1533.0,202.0 1534.0,200.8 1535.0,200.1 1536.0,200.0 1537.0,199.9 1538.0,199.7 1539.0,199.6 1540.0,196.6 1541.0,194.2 1542.0,194.1 1543.0,196.3 1544.0,199.1 1545.0,199.0 1546.0,198.9 1547.0,198.9 1548.0,198.8 1549.0,198.7 1550.0,198.7 1551.0,198.6 1552.0,198.6 1553.0,198.5 1554.0,198.5 1555.0,198.4 1556.0,198.4 1557.0,198.4 1558.0,198.3 1559.0,198.3 1560.0,198.3 1561.0,198.3 1562.0,198.2 1563.0,198.2 1564.0,198.2 1565.0,198.2 1566.0,198.2 1567.0,198.2 1568.0,198.2 1569.0,198.2 1570.0,198.2 1571.0,198.2 1572.0,198.2 1573.0,198.2 1574.0,198.2 1575.0,198.2 1576.0,198.2 1577.0,198.2 1578.0,198.2 1579.0,198.2 1580.0,198.2 1581.0,198.2 1582.0,198.2 1583.0,198.2 1584.0,198.2 1585.0,198.2 1586.0,198.2 1587.0,198.2 1588.0,198.2 1589.0,198.2 1590.0,198.2 1591.0,198.2 1592.0,198.2 1593.0,198.2 1594.0,198.2 1595.0,198.2 1596.0,198.2 1597.0,198.2 1598.0,198.2 1599.0,198.2 1600.0,198.2 1601.0,198.2 1602.0,198.2 1603.0,198.2 1603.5,198.2" fill="none" stroke="#424242" stroke-width="3.3" stroke-linejoin="round" stroke-linecap="round"/>
<polyline points="993.0,533.5 994.0,531.6 995.0,529.6 996.0,527.6 997.0,525.4 998.0,523.3 999.0,521.0 1000.0,518.7 1001.0,516.3 1002.0,513.8 1003.0,511.3 1004.0,508.8 1005.0,506.2 1006.0,503.5 1007.0,500.7 1008.0,497.8 1009.0,494.8 1010.0,491.7 1011.0,488.6 1012.0,485.4 1013.0,482.3 1014.0,479.1 1015.0,475.9 1016.0,472.6 1017.0,469.2 1018.0,465.8 1019.0,462.4 1020.0,459.0 1021.0,455.7 1022.0,452.4 1023.0,449.2 1024.0,446.2 1025.0,443.2 1026.0,440.0 1027.0,436.9 1028.0,433.8 1029.0,430.8 1030.0,427.9 1031.0,425.2 1032.0,422.7 1033.0,420.6 1034.0,418.8 1035.0,417.4 1036.0,416.1 1037.0,414.9 1038.0,413.9 1039.0,412.9 1040.0,412.1 1041.0,411.2 1042.0,410.4 1043.0,409.7 1044.0,408.8 1045.0,408.0 1046.0,407.1 1047.0,406.1 1048.0,404.9 1049.0,403.7 1050.0,402.2 1051.0,400.5 1052.0,398.6 1053.0,396.7 1054.0,394.9 1055.0,393.2 1056.0,391.7 1057.0,390.2 1058.0,388.8 1059.0,387.3 1060.0,385.9 1061.0,384.5 1062.0,383.2 1063.0,381.8 1064.0,380.5 1065.0,379.2 1066.0,378.0 1067.0,376.7 1068.0,375.4 1069.0,374.2 1070.0,373.0 1071.0,371.7 1072.0,370.5 1073.0,369.3 1074.0,368.1 1075.0,366.9 1076.0,365.7 1077.0,364.6 1078.0,363.4 1079.0,362.3 1080.0,361.1 1081.0,360.0 1082.0,358.9 1083.0,357.8 1084.0,356.7 1085.0,355.6 1086.0,354.6 1087.0,353.5 1088.0,352.4 1089.0,351.4 1090.0,350.4 1091.0,349.3 1092.0,348.3 1093.0,347.3 1094.0,346.3 1095.0,345.3 1096.0,344.2 1097.0,343.2 1098.0,342.2 1099.0,341.2 1100.0,340.2 1101.0,339.2 1102.0,338.2 1103.0,337.2 1104.0,336.2 1105.0,335.2 1106.0,334.3 1107.0,333.3 1108.0,332.4 1109.0,331.4 1110.0,330.5 1111.0,329.6 1112.0,328.7 1113.0,327.8 1114.0,326.9 1115.0,326.0 1116.0,325.2 1117.0,324.4 1118.0,323.5 1119.0,322.7 1120.0,322.0 1121.0,321.2 1122.0,320.5 1123.0,319.8 1124.0,319.0 1125.0,318.3 1126.0,317.6 1127.0,317.0 1128.0,316.3 1129.0,315.6 1130.0,315.0 1131.0,314.3 1132.0,313.7 1133.0,313.1 1134.0,312.5 1135.0,311.9 1136.0,311.3 1137.0,310.7 1138.0,310.2 1139.0,309.6 1140.0,309.1 1141.0,308.5 1142.0,308.0 1143.0,307.5 1144.0,307.0 1145.0,306.6 1146.0,306.1 1147.0,305.7 1148.0,305.2 1149.0,304.8 1150.0,304.4 1151.0,304.0 1152.0,303.6 1153.0,303.3 1154.0,302.9 1155.0,302.5 1156.0,302.2 1157.0,301.8 1158.0,301.4 1159.0,301.1 1160.0,300.7 1161.0,300.3 1162.0,300.0 1163.0,299.6 1164.0,299.2 1165.0,298.8 1166.0,298.4 1167.0,298.0 1168.0,297.6 1169.0,297.2 1170.0,296.8 1171.0,296.4 1172.0,295.9 1173.0,295.5 1174.0,295.1 1175.0,294.7 1176.0,294.3 1177.0,293.9 1178.0,293.4 1179.0,293.0 1180.0,292.6 1181.0,292.1 1182.0,291.7 1183.0,291.3 1184.0,290.8 1185.0,290.4 1186.0,290.0 1187.0,289.5 1188.0,289.1 1189.0,288.6 1190.0,288.2 1191.0,287.7 1192.0,287.3 1193.0,286.8 1194.0,286.3 1195.0,285.8 1196.0,285.4 1197.0,284.9 1198.0,284.4 1199.0,283.9 1200.0,283.4 1201.0,282.9 1202.0,282.4 1203.0,281.8 1204.0,281.3 1205.0,280.7 1206.0,280.2 1207.0,279.6 1208.0,279.0 1209.0,278.4 1210.0,277.8 1211.0,277.2 1212.0,276.7 1213.0,276.1 1214.0,275.5 1215.0,274.9 1216.0,274.3 1217.0,273.8 1218.0,273.2 1219.0,272.6 1220.0,272.1 1221.0,271.6 1222.0,271.0 1223.0,270.5 1224.0,270.0 1225.0,269.4 1226.0,268.9 1227.0,268.4 1228.0,267.9 1229.0,267.4 1230.0,267.0 1231.0,266.6 1232.0,266.2 1233.0,265.8 1234.0,265.4 1235.0,265.1 1236.0,264.7 1237.0,264.3 1238.0,264.0 1239.0,263.7 1240.0,263.4 1241.0,263.0 1242.0,262.7 1243.0,262.4 1244.0,262.1 1245.0,261.8 1246.0,261.6 1247.0,261.3 1248.0,261.0 1249.0,260.7 1250.0,260.5 1251.0,260.2 1252.0,260.0 1253.0,259.8 1254.0,259.5 1255.0,259.3 1256.0,259.1 1257.0,258.9 1258.0,258.7 1259.0,258.5 1260.0,258.3 1261.0,258.1 1262.0,257.9 1263.0,257.7 1264.0,257.6 1265.0,257.4 1266.0,257.2 1267.0,257.0 1268.0,256.9 1269.0,256.7 1270.0,256.5 1271.0,256.4 1272.0,256.2 1273.0,256.0 1274.0,255.9 1275.0,255.7 1276.0,255.5 1277.0,255.3 1278.0,255.2 1279.0,255.0 1280.0,254.8 1281.0,254.6 1282.0,254.4 1283.0,254.2 1284.0,254.0 1285.0,253.9 1286.0,253.7 1287.0,253.5 1288.0,253.3 1289.0,253.1 1290.0,252.9 1291.0,252.7 1292.0,252.5 1293.0,252.3 1294.0,252.1 1295.0,251.9 1296.0,251.7 1297.0,251.6 1298.0,251.4 1299.0,251.2 1300.0,251.0 1301.0,250.8 1302.0,250.6 1303.0,250.4 1304.0,250.2 1305.0,250.0 1306.0,249.8 1307.0,249.6 1308.0,249.4 1309.0,249.2 1310.0,248.9 1311.0,248.7 1312.0,248.5 1313.0,248.3 1314.0,248.1 1315.0,247.9 1316.0,247.6 1317.0,247.4 1318.0,247.2 1319.0,247.0 1320.0,246.7 1321.0,246.5 1322.0,246.3 1323.0,246.1 1324.0,245.9 1325.0,245.7 1326.0,245.4 1327.0,245.2 1328.0,245.0 1329.0,244.8 1330.0,244.6 1331.0,244.4 1332.0,244.3 1333.0,244.1 1334.0,243.9 1335.0,243.7 1336.0,243.6 1337.0,243.4 1338.0,243.2 1339.0,243.1 1340.0,242.9 1341.0,242.8 1342.0,242.6 1343.0,242.5 1344.0,242.3 1345.0,242.2 1346.0,242.1 1347.0,241.9 1348.0,241.8 1349.0,241.7 1350.0,241.5 1351.0,241.4 1352.0,241.3 1353.0,241.2 1354.0,241.0 1355.0,240.9 1356.0,240.8 1357.0,240.7 1358.0,240.6 1359.0,240.5 1360.0,240.4 1361.0,240.4 1362.0,240.3 1363.0,240.2 1364.0,240.1 1365.0,240.1 1366.0,240.0 1367.0,239.9 1368.0,239.9 1369.0,239.8 1370.0,239.8 1371.0,239.7 1372.0,239.7 1373.0,239.6 1374.0,239.6 1375.0,239.5 1376.0,239.5 1377.0,239.4 1378.0,239.4 1379.0,239.3 1380.0,239.3 1381.0,239.3 1382.0,239.2 1383.0,239.2 1384.0,239.1 1385.0,239.1 1386.0,239.1 1387.0,239.0 1388.0,239.0 1389.0,238.9 1390.0,238.9 1391.0,238.9 1392.0,238.8 1393.0,238.8 1394.0,238.7 1395.0,238.7 1396.0,238.6 1397.0,238.6 1398.0,238.5 1399.0,238.5 1400.0,238.4 1401.0,238.3 1402.0,238.3 1403.0,238.2 1404.0,238.1 1405.0,238.1 1406.0,238.0 1407.0,237.9 1408.0,237.8 1409.0,237.7 1410.0,237.6 1411.0,237.5 1412.0,237.4 1413.0,237.2 1414.0,237.0 1415.0,236.8 1416.0,236.6 1417.0,236.4 1418.0,236.2 1419.0,236.0 1420.0,235.8 1421.0,235.7 1422.0,235.6 1423.0,235.5 1424.0,235.5 1425.0,235.4 1426.0,235.3 1427.0,235.3 1428.0,235.2 1429.0,235.1 1430.0,235.1 1431.0,235.0 1432.0,234.9 1433.0,234.9 1434.0,234.8 1435.0,234.8 1436.0,234.7 1437.0,234.7 1438.0,234.6 1439.0,234.6 1440.0,234.5 1441.0,234.5 1442.0,234.4 1443.0,234.4 1444.0,234.3 1445.0,234.3 1446.0,234.2 1447.0,234.2 1448.0,234.2 1449.0,234.1 1450.0,234.1 1451.0,234.1 1452.0,234.0 1453.0,234.0 1454.0,234.0 1455.0,233.9 1456.0,233.9 1457.0,233.9 1458.0,233.9 1459.0,233.8 1460.0,233.8 1461.0,233.8 1462.0,233.8 1463.0,233.8 1464.0,233.8 1465.0,233.7 1466.0,233.7 1467.0,233.7 1468.0,233.7 1469.0,233.7 1470.0,233.7 1471.0,233.7 1472.0,233.7 1473.0,233.7 1474.0,233.7 1475.0,233.7 1476.0,233.8 1477.0,233.8 1478.0,233.8 1479.0,233.9 1480.0,233.9 1481.0,233.9 1482.0,234.0 1483.0,234.0 1484.0,234.1 1485.0,234.1 1486.0,234.2 1487.0,234.2 1488.0,234.3 1489.0,234.3 1490.0,234.4 1491.0,234.4 1492.0,234.5 1493.0,234.5 1494.0,234.6 1495.0,234.6 1496.0,234.6 1497.0,234.7 1498.0,234.7 1499.0,234.7 1500.0,234.7 1501.0,234.7 1502.0,234.7 1503.0,234.7 1504.0,234.6 1505.0,234.6 1506.0,234.6 1507.0,234.5 1508.0,234.4 1509.0,234.4 1510.0,234.3 1511.0,234.2 1512.0,234.1 1513.0,234.1 1514.0,234.0 1515.0,233.9 1516.0,233.8 1517.0,233.7 1518.0,233.6 1519.0,233.5 1520.0,233.4 1521.0,233.3 1522.0,233.1 1523.0,233.0 1524.0,232.9 1525.0,232.8 1526.0,232.7 1527.0,232.6 1528.0,232.5 1529.0,232.4 1530.0,232.3 1531.0,232.3 1532.0,232.2 1533.0,232.1 1534.0,232.0 1535.0,232.0 1536.0,231.9 1537.0,231.9 1538.0,231.8 1539.0,231.8 1540.0,231.8 1541.0,231.7 1542.0,231.7 1543.0,231.7 1544.0,231.7 1545.0,231.6 1546.0,231.6 1547.0,231.6 1548.0,231.6 1549.0,231.5 1550.0,231.5 1551.0,231.5 1552.0,231.5 1553.0,231.4 1554.0,231.4 1555.0,231.4 1556.0,231.4 1557.0,231.4 1558.0,231.3 1559.0,231.3 1560.0,231.3 1561.0,231.3 1562.0,231.2 1563.0,231.2 1564.0,231.2 1565.0,231.2 1566.0,231.2 1567.0,231.2 1568.0,231.1 1569.0,231.1 1570.0,231.1 1571.0,231.1 1572.0,231.1 1573.0,231.1 1574.0,231.0 1575.0,231.0 1576.0,231.0 1577.0,231.0 1578.0,231.0 1579.0,231.0 1580.0,231.0 1581.0,230.9 1582.0,230.9 1583.0,230.9 1584.0,230.9 1585.0,230.9 1586.0,230.9 1587.0,230.9 1588.0,230.9 1589.0,230.9 1590.0,230.9 1591.0,230.8 1592.0,230.8 1593.0,230.8 1594.0,230.8 1595.0,230.8 1596.0,230.8 1597.0,230.8 1598.0,230.8 1599.0,230.8 1600.0,230.8 1601.0,230.8 1602.0,230.8 1603.0,230.8 1603.5,230.8" fill="none" stroke="#424242" stroke-width="3.3" stroke-linejoin="round" stroke-linecap="round"/>
<polyline points="993.0,512.9 994.0,511.9 995.0,510.7 996.0,509.3 997.0,507.7 998.0,505.9 999.0,504.0 1000.0,502.0 1001.0,499.9 1002.0,497.6 1003.0,495.1 1004.0,492.2 1005.0,489.0 1006.0,485.5 1007.0,481.9 1008.0,478.1 1009.0,474.2 1010.0,470.4 1011.0,466.7 1012.0,463.1 1013.0,459.5 1014.0,455.8 1015.0,452.1 1016.0,448.4 1017.0,444.8 1018.0,441.2 1019.0,437.8 1020.0,434.6 1021.0,431.3 1022.0,428.0 1023.0,424.7 1024.0,421.5 1025.0,418.4 1026.0,415.4 1027.0,412.7 1028.0,410.3 1029.0,408.1 1030.0,406.4 1031.0,404.9 1032.0,403.5 1033.0,402.3 1034.0,401.2 1035.0,400.1 1036.0,399.1 1037.0,398.2 1038.0,397.2 1039.0,396.2 1040.0,395.2 1041.0,394.1 1042.0,392.9 1043.0,391.7 1044.0,390.4 1045.0,389.1 1046.0,387.8 1047.0,386.5 1048.0,385.2 1049.0,383.9 1050.0,382.6 1051.0,381.3 1052.0,380.0 1053.0,378.7 1054.0,377.4 1055.0,376.1 1056.0,374.8 1057.0,373.5 1058.0,372.3 1059.0,371.0 1060.0,369.7 1061.0,368.4 1062.0,367.1 1063.0,365.8 1064.0,364.5 1065.0,363.2 1066.0,361.9 1067.0,360.6 1068.0,359.3 1069.0,358.0 1070.0,356.7 1071.0,355.3 1072.0,354.0 1073.0,352.7 1074.0,351.3 1075.0,350.0 1076.0,348.6 1077.0,347.2 1078.0,345.8 1079.0,344.3 1080.0,342.8 1081.0,341.3 1082.0,339.8 1083.0,338.3 1084.0,336.8 1085.0,335.4 1086.0,333.9 1087.0,332.5 1088.0,331.1 1089.0,329.7 1090.0,328.4 1091.0,327.1 1092.0,325.9 1093.0,324.8 1094.0,323.7 1095.0,322.7 1096.0,321.8 1097.0,320.8 1098.0,320.0 1099.0,319.1 1100.0,318.2 1101.0,317.4 1102.0,316.6 1103.0,315.8 1104.0,315.1 1105.0,314.3 1106.0,313.6 1107.0,312.8 1108.0,312.1 1109.0,311.4 1110.0,310.8 1111.0,310.1 1112.0,309.4 1113.0,308.8 1114.0,308.1 1115.0,307.5 1116.0,306.9 1117.0,306.2 1118.0,305.6 1119.0,305.0 1120.0,304.3 1121.0,303.7 1122.0,303.1 1123.0,302.5 1124.0,301.8 1125.0,301.2 1126.0,300.5 1127.0,299.9 1128.0,299.2 1129.0,298.6 1130.0,298.0 1131.0,297.3 1132.0,296.7 1133.0,296.1 1134.0,295.5 1135.0,294.9 1136.0,294.3 1137.0,293.7 1138.0,293.1 1139.0,292.5 1140.0,291.9 1141.0,291.4 1142.0,290.8 1143.0,290.2 1144.0,289.7 1145.0,289.1 1146.0,288.5 1147.0,287.9 1148.0,287.3 1149.0,286.6 1150.0,286.0 1151.0,285.3 1152.0,284.6 1153.0,284.0 1154.0,283.3 1155.0,282.7 1156.0,282.1 1157.0,281.5 1158.0,280.9 1159.0,280.4 1160.0,279.9 1161.0,279.5 1162.0,279.1 1163.0,278.8 1164.0,278.5 1165.0,278.3 1166.0,278.2 1167.0,278.2 1168.0,279.1 1169.0,280.0 1170.0,280.1 1171.0,280.0 1172.0,280.0 1173.0,279.8 1174.0,279.7 1175.0,279.5 1176.0,279.3 1177.0,279.0 1178.0,278.7 1179.0,278.4 1180.0,278.0 1181.0,277.6 1182.0,277.2 1183.0,276.8 1184.0,276.3 1185.0,275.8 1186.0,275.2 1187.0,274.7 1188.0,274.1 1189.0,273.5 1190.0,272.8 1191.0,272.2 1192.0,271.5 1193.0,270.8 1194.0,270.1 1195.0,269.3 1196.0,268.5 1197.0,267.7 1198.0,266.9 1199.0,265.4 1200.0,263.7 1201.0,262.9 1202.0,262.2 1203.0,261.6 1204.0,261.0 1205.0,260.5 1206.0,260.0 1207.0,259.6 1208.0,259.1 1209.0,258.8 1210.0,258.4 1211.0,258.1 1212.0,257.8 1213.0,257.5 1214.0,257.2 1215.0,256.9 1216.0,256.6 1217.0,256.3 1218.0,256.0 1219.0,255.6 1220.0,255.3 1221.0,254.9 1222.0,254.5 1223.0,254.2 1224.0,253.8 1225.0,253.5 1226.0,253.1 1227.0,252.7 1228.0,252.3 1229.0,251.8 1230.0,251.3 1231.0,250.9 1232.0,250.4 1233.0,249.9 1234.0,249.4 1235.0,248.9 1236.0,248.4 1237.0,247.9 1238.0,247.4 1239.0,246.9 1240.0,246.4 1241.0,246.0 1242.0,245.6 1243.0,245.2 1244.0,244.9 1245.0,244.5 1246.0,244.2 1247.0,244.0 1248.0,243.8 1249.0,243.6 1250.0,243.5 1251.0,243.5 1252.0,243.7 1253.0,244.6 1254.0,245.5 1255.0,245.9 1256.0,245.8 1257.0,245.6 1258.0,245.3 1259.0,244.9 1260.0,244.5 1261.0,244.0 1262.0,243.5 1263.0,243.0 1264.0,242.5 1265.0,242.0 1266.0,241.6 1267.0,240.8 1268.0,239.1 1269.0,238.5 1270.0,238.9 1271.0,240.4 1272.0,240.8 1273.0,240.8 1274.0,240.7 1275.0,240.7 1276.0,240.7 1277.0,240.6 1278.0,240.6 1279.0,240.6 1280.0,240.5 1281.0,240.4 1282.0,240.3 1283.0,240.2 1284.0,240.1 1285.0,239.9 1286.0,239.8 1287.0,239.6 1288.0,239.4 1289.0,239.2 1290.0,239.0 1291.0,238.8 1292.0,238.6 1293.0,238.3 1294.0,238.1 1295.0,237.9 1296.0,237.6 1297.0,237.4 1298.0,237.2 1299.0,236.9 1300.0,236.7 1301.0,236.4 1302.0,236.2 1303.0,236.0 1304.0,234.4 1305.0,233.2 1306.0,233.0 1307.0,233.8 1308.0,235.0 1309.0,234.8 1310.0,234.5 1311.0,234.3 1312.0,234.1 1313.0,233.9 1314.0,233.7 1315.0,233.4 1316.0,233.2 1317.0,233.0 1318.0,232.8 1319.0,232.6 1320.0,232.3 1321.0,232.1 1322.0,231.9 1323.0,231.7 1324.0,231.5 1325.0,231.3 1326.0,231.0 1327.0,230.8 1328.0,230.6 1329.0,230.4 1330.0,230.2 1331.0,230.0 1332.0,229.9 1333.0,229.7 1334.0,229.5 1335.0,229.3 1336.0,229.2 1337.0,229.0 1338.0,228.8 1339.0,228.7 1340.0,228.5 1341.0,228.4 1342.0,228.2 1343.0,228.1 1344.0,227.9 1345.0,227.8 1346.0,227.6 1347.0,227.5 1348.0,227.3 1349.0,227.2 1350.0,227.0 1351.0,226.9 1352.0,226.8 1353.0,226.7 1354.0,226.5 1355.0,226.4 1356.0,226.3 1357.0,226.3 1358.0,226.2 1359.0,225.7 1360.0,224.0 1361.0,223.5 1362.0,223.9 1363.0,225.4 1364.0,225.8 1365.0,225.8 1366.0,225.8 1367.0,225.7 1368.0,225.7 1369.0,225.7 1370.0,225.6 1371.0,225.6 1372.0,225.6 1373.0,225.5 1374.0,225.5 1375.0,225.5 1376.0,225.5 1377.0,225.5 1378.0,225.4 1379.0,225.4 1380.0,225.4 1381.0,225.4 1382.0,225.4 1383.0,225.4 1384.0,225.3 1385.0,225.3 1386.0,225.3 1387.0,225.3 1388.0,225.3 1389.0,225.3 1390.0,225.2 1391.0,225.2 1392.0,225.2 1393.0,225.2 1394.0,225.2 1395.0,225.1 1396.0,225.1 1397.0,225.1 1398.0,225.1 1399.0,225.0 1400.0,225.0 1401.0,225.0 1402.0,224.9 1403.0,224.9 1404.0,224.8 1405.0,224.8 1406.0,224.8 1407.0,224.7 1408.0,224.6 1409.0,223.3 1410.0,222.2 1411.0,222.1 1412.0,223.0 1413.0,224.1 1414.0,223.8 1415.0,223.5 1416.0,223.2 1417.0,222.9 1418.0,222.6 1419.0,222.3 1420.0,222.1 1421.0,220.6 1422.0,219.4 1423.0,219.4 1424.0,220.3 1425.0,221.6 1426.0,221.6 1427.0,221.5 1428.0,221.4 1429.0,221.4 1430.0,221.3 1431.0,221.3 1432.0,221.2 1433.0,221.2 1434.0,221.1 1435.0,221.1 1436.0,221.1 1437.0,221.0 1438.0,221.0 1439.0,220.9 1440.0,220.9 1441.0,220.9 1442.0,220.8 1443.0,220.8 1444.0,220.7 1445.0,220.7 1446.0,220.7 1447.0,220.7 1448.0,220.6 1449.0,220.6 1450.0,220.6 1451.0,220.5 1452.0,220.5 1453.0,220.5 1454.0,220.5 1455.0,220.5 1456.0,220.4 1457.0,220.4 1458.0,220.4 1459.0,220.4 1460.0,220.4 1461.0,220.4 1462.0,220.4 1463.0,220.3 1464.0,220.3 1465.0,220.3 1466.0,220.3 1467.0,220.3 1468.0,220.3 1469.0,220.3 1470.0,220.3 1471.0,220.3 1472.0,220.3 1473.0,220.3 1474.0,220.3 1475.0,220.3 1476.0,220.4 1477.0,220.4 1478.0,220.4 1479.0,220.5 1480.0,220.5 1481.0,220.5 1482.0,220.6 1483.0,220.6 1484.0,220.7 1485.0,220.7 1486.0,220.8 1487.0,220.8 1488.0,220.9 1489.0,220.9 1490.0,221.0 1491.0,221.0 1492.0,221.1 1493.0,221.1 1494.0,221.2 1495.0,221.2 1496.0,221.2 1497.0,221.3 1498.0,221.3 1499.0,221.3 1500.0,221.3 1501.0,221.3 1502.0,221.3 1503.0,221.3 1504.0,221.3 1505.0,221.3 1506.0,221.2 1507.0,221.2 1508.0,221.2 1509.0,221.1 1510.0,221.1 1511.0,221.0 1512.0,221.0 1513.0,220.9 1514.0,220.9 1515.0,220.8 1516.0,220.7 1517.0,220.7 1518.0,220.6 1519.0,220.5 1520.0,220.4 1521.0,220.3 1522.0,220.2 1523.0,220.1 1524.0,220.0 1525.0,219.9 1526.0,219.8 1527.0,219.6 1528.0,219.5 1529.0,219.4 1530.0,219.2 1531.0,218.7 1532.0,218.1 1533.0,217.5 1534.0,216.8 1535.0,216.2 1536.0,215.7 1537.0,215.5 1538.0,215.5 1539.0,215.4 1540.0,214.1 1541.0,213.0 1542.0,213.0 1543.0,214.0 1544.0,215.3 1545.0,215.3 1546.0,215.3 1547.0,215.3 1548.0,215.2 1549.0,215.2 1550.0,215.2 1551.0,215.2 1552.0,215.2 1553.0,215.2 1554.0,215.2 1555.0,215.2 1556.0,215.1 1557.0,215.1 1558.0,215.1 1559.0,215.1 1560.0,215.1 1561.0,215.1 1562.0,215.1 1563.0,215.1 1564.0,215.1 1565.0,215.1 1566.0,215.1 1567.0,215.1 1568.0,215.1 1569.0,215.1 1570.0,215.1 1571.0,215.1 1572.0,215.1 1573.0,215.1 1574.0,215.1 1575.0,215.1 1576.0,215.1 1577.0,215.1 1578.0,215.1 1579.0,215.1 1580.0,215.1 1581.0,215.1 1582.0,215.1 1583.0,215.1 1584.0,215.1 1585.0,215.1 1586.0,215.1 1587.0,215.1 1588.0,215.1 1589.0,215.1 1590.0,215.1 1591.0,215.1 1592.0,215.1 1593.0,215.1 1594.0,215.1 1595.0,215.1 1596.0,215.1 1597.0,215.1 1598.0,215.1 1599.0,215.1 1600.0,215.1 1601.0,215.1 1602.0,215.1 1603.0,215.1 1603.5,215.1" fill="none" stroke="#000" stroke-width="5.6" stroke-linejoin="round" stroke-linecap="round"/>
</g>
<clipPath id="c161"><rect x="161.7" y="0" width="1000" height="1424"/></clipPath><g clip-path="url(#c161)">
<polygon points="164.2,1147.5 165.2,1144.1 166.2,1140.9 167.2,1137.9 168.2,1135.3 169.2,1133.0 170.2,1131.1 171.2,1129.4 172.2,1127.8 173.2,1126.2 174.2,1124.6 175.2,1122.8 176.2,1120.9 177.2,1118.7 178.2,1116.2 179.2,1113.3 180.2,1110.3 181.2,1107.1 182.2,1103.9 183.2,1100.6 184.2,1097.3 185.2,1093.9 186.2,1090.2 187.2,1086.5 188.2,1082.7 189.2,1079.0 190.2,1075.4 191.2,1072.1 192.2,1069.1 193.2,1066.3 194.2,1063.7 195.2,1061.1 196.2,1058.6 197.2,1056.3 198.2,1053.9 199.2,1051.7 200.2,1049.6 201.2,1047.5 202.2,1045.6 203.2,1043.7 204.2,1041.9 205.2,1040.2 206.2,1038.6 207.2,1037.1 208.2,1035.6 209.2,1034.2 210.2,1032.8 211.2,1031.5 212.2,1030.3 213.2,1029.0 214.2,1027.8 215.2,1026.5 216.2,1025.3 217.2,1024.1 218.2,1023.0 219.2,1021.9 220.2,1020.9 221.2,1019.8 222.2,1018.7 223.2,1017.6 224.2,1016.4 225.2,1015.1 226.2,1013.7 227.2,1012.1 228.2,1010.2 229.2,1008.2 230.2,1006.0 231.2,1003.8 232.2,1001.5 233.2,999.3 234.2,997.1 235.2,995.0 236.2,993.1 237.2,991.4 238.2,989.8 239.2,988.1 240.2,986.6 241.2,985.0 242.2,983.5 243.2,982.0 244.2,980.6 245.2,979.1 246.2,977.8 247.2,976.4 248.2,975.1 249.2,973.8 250.2,972.6 251.2,971.3 252.2,970.1 253.2,969.0 254.2,967.9 255.2,966.8 256.2,965.7 257.2,964.7 258.2,963.6 259.2,962.6 260.2,961.7 261.2,960.7 262.2,959.8 263.2,958.9 264.2,958.0 265.2,957.1 266.2,956.2 267.2,955.4 268.2,954.5 269.2,953.7 270.2,952.9 271.2,952.1 272.2,951.3 273.2,950.5 274.2,949.7 275.2,948.9 276.2,948.2 277.2,947.4 278.2,946.7 279.2,945.9 280.2,945.2 281.2,944.5 282.2,943.8 283.2,943.1 284.2,942.4 285.2,941.8 286.2,941.1 287.2,940.5 288.2,939.9 289.2,939.3 290.2,938.7 291.2,938.1 292.2,937.5 293.2,937.0 294.2,936.4 295.2,935.9 296.2,935.3 297.2,934.8 298.2,934.3 299.2,933.7 300.2,933.2 301.2,932.7 302.2,932.3 303.2,931.8 304.2,931.3 305.2,930.9 306.2,930.4 307.2,930.0 308.2,929.6 309.2,929.1 310.2,928.7 311.2,928.4 312.2,928.0 313.2,927.6 314.2,927.3 315.2,926.9 316.2,926.6 317.2,926.3 318.2,925.9 319.2,925.6 320.2,925.3 321.2,925.0 322.2,924.7 323.2,924.4 324.2,924.1 325.2,923.8 326.2,923.5 327.2,923.3 328.2,923.0 329.2,922.7 330.2,922.4 331.2,922.1 332.2,921.8 333.2,921.5 334.2,921.1 335.2,920.8 336.2,920.5 337.2,920.2 338.2,919.8 339.2,919.4 340.2,919.1 341.2,918.7 342.2,918.3 343.2,917.9 344.2,917.5 345.2,917.1 346.2,916.7 347.2,916.3 348.2,915.9 349.2,915.5 350.2,915.1 351.2,914.6 352.2,914.2 353.2,913.8 354.2,913.4 355.2,912.9 356.2,912.5 357.2,912.1 358.2,911.7 359.2,911.3 360.2,910.9 361.2,910.5 362.2,910.1 363.2,909.7 364.2,909.3 365.2,908.9 366.2,908.6 367.2,908.2 368.2,907.9 369.2,907.5 370.2,907.2 371.2,906.9 372.2,906.5 373.2,906.2 374.2,905.9 375.2,905.6 376.2,905.3 377.2,905.0 378.2,904.7 379.2,904.4 380.2,904.0 381.2,903.7 382.2,903.4 383.2,903.1 384.2,902.8 385.2,902.5 386.2,902.2 387.2,901.9 388.2,901.6 389.2,901.3 390.2,901.0 391.2,900.6 392.2,900.3 393.2,900.0 394.2,899.6 395.2,899.2 396.2,898.9 397.2,898.5 398.2,898.2 399.2,897.9 400.2,897.6 401.2,897.4 402.2,897.2 403.2,896.9 404.2,896.7 405.2,896.4 406.2,896.2 407.2,896.0 408.2,895.8 409.2,895.6 410.2,895.4 411.2,895.1 412.2,894.9 413.2,894.7 414.2,894.5 415.2,894.4 416.2,894.2 417.2,894.0 418.2,893.8 419.2,893.6 420.2,893.4 421.2,893.3 422.2,893.1 423.2,892.9 424.2,892.7 425.2,892.6 426.2,892.4 427.2,892.2 428.2,892.1 429.2,891.9 430.2,891.7 431.2,891.6 432.2,891.4 433.2,891.3 434.2,891.1 435.2,890.9 436.2,890.8 437.2,890.6 438.2,890.5 439.2,890.3 440.2,890.1 441.2,890.0 442.2,889.8 443.2,889.7 444.2,889.5 445.2,889.3 446.2,889.2 447.2,889.0 448.2,888.8 449.2,888.7 450.2,888.5 451.2,888.3 452.2,888.2 453.2,888.0 454.2,887.8 455.2,887.6 456.2,887.4 457.2,887.2 458.2,887.1 459.2,886.9 460.2,886.7 461.2,886.5 462.2,886.3 463.2,886.1 464.2,885.9 465.2,885.7 466.2,885.5 467.2,885.3 468.2,885.1 469.2,884.9 470.2,884.7 471.2,884.5 472.2,884.3 473.2,884.1 474.2,883.9 475.2,883.7 476.2,883.5 477.2,883.3 478.2,883.1 479.2,882.9 480.2,882.7 481.2,882.5 482.2,882.3 483.2,882.1 484.2,882.0 485.2,881.8 486.2,881.6 487.2,881.4 488.2,881.2 489.2,881.1 490.2,880.9 491.2,880.7 492.2,880.5 493.2,880.4 494.2,880.2 495.2,880.1 496.2,879.9 497.2,879.8 498.2,879.6 499.2,879.5 500.2,879.4 501.2,879.2 502.2,879.1 503.2,879.0 504.2,878.9 505.2,878.7 506.2,878.6 507.2,878.5 508.2,878.4 509.2,878.3 510.2,878.2 511.2,878.1 512.2,878.0 513.2,877.9 514.2,877.8 515.2,877.7 516.2,877.6 517.2,877.5 518.2,877.4 519.2,877.2 520.2,877.1 521.2,877.0 522.2,876.9 523.2,876.8 524.2,876.8 525.2,876.7 526.2,876.6 527.2,876.5 528.2,876.4 529.2,876.3 530.2,876.2 531.2,876.1 532.2,876.0 533.2,875.9 534.2,875.8 535.2,875.8 536.2,875.7 537.2,875.6 538.2,875.5 539.2,875.4 540.2,875.4 541.2,875.3 542.2,875.2 543.2,875.2 544.2,875.1 545.2,875.0 546.2,875.0 547.2,874.9 548.2,874.8 549.2,874.8 550.2,874.7 551.2,874.7 552.2,874.6 553.2,874.6 554.2,874.5 555.2,874.5 556.2,874.4 557.2,874.4 558.2,874.3 559.2,874.3 560.2,874.3 561.2,874.2 562.2,874.2 563.2,874.2 564.2,874.2 565.2,874.1 566.2,874.1 567.2,874.1 568.2,874.1 569.2,874.0 570.2,874.0 571.2,874.0 572.2,874.0 573.2,873.9 574.2,873.9 575.2,873.9 576.2,873.9 577.2,873.9 578.2,873.9 579.2,873.8 580.2,873.8 581.2,873.8 582.2,873.8 583.2,873.8 584.2,873.8 585.2,873.7 586.2,873.7 587.2,873.7 588.2,873.7 589.2,873.7 590.2,873.7 591.2,873.7 592.2,873.6 593.2,873.6 594.2,873.6 595.2,873.6 596.2,873.6 597.2,873.6 598.2,873.6 599.2,873.5 600.2,873.5 601.2,873.5 602.2,873.5 603.2,873.5 604.2,873.5 605.2,873.5 606.2,873.5 607.2,873.4 608.2,873.4 609.2,873.4 610.2,873.4 611.2,873.4 612.2,873.4 613.2,873.4 614.2,873.3 615.2,873.3 616.2,873.3 617.2,873.3 618.2,873.3 619.2,873.3 620.2,873.2 621.2,873.2 622.2,873.2 623.2,873.2 624.2,873.2 625.2,873.1 626.2,873.1 627.2,873.1 628.2,873.1 629.2,873.1 630.2,873.0 631.2,873.0 632.2,873.0 633.2,873.0 634.2,872.9 635.2,872.9 636.2,872.9 637.2,872.9 638.2,872.9 639.2,872.8 640.2,872.8 641.2,872.8 642.2,872.8 643.2,872.8 644.2,872.7 645.2,872.7 646.2,872.7 647.2,872.7 648.2,872.6 649.2,872.6 650.2,872.6 651.2,872.6 652.2,872.6 653.2,872.6 654.2,872.5 655.2,872.5 656.2,872.5 657.2,872.5 658.2,872.5 659.2,872.5 660.2,872.5 661.2,872.5 662.2,872.4 663.2,872.4 664.2,872.4 665.2,872.4 666.2,872.4 667.2,872.4 668.2,872.4 669.2,872.4 670.2,872.4 671.2,872.4 672.2,872.6 673.2,872.8 674.2,873.3 675.2,873.8 676.2,874.3 677.2,874.9 678.2,875.5 679.2,876.0 680.2,876.5 681.2,876.9 682.2,877.1 683.2,877.4 684.2,877.6 685.2,877.8 686.2,878.1 687.2,878.3 688.2,878.5 689.2,878.7 690.2,878.9 691.2,879.0 692.2,879.2 693.2,879.3 694.2,879.4 695.2,879.5 696.2,879.6 697.2,879.7 698.2,879.7 698.7,879.7 698.7,911.3 698.2,911.2 697.2,911.1 696.2,910.9 695.2,910.8 694.2,910.6 693.2,910.4 692.2,910.2 691.2,910.0 690.2,909.8 689.2,909.6 688.2,909.3 687.2,909.1 686.2,908.9 685.2,908.6 684.2,908.4 683.2,908.1 682.2,907.8 681.2,907.6 680.2,907.2 679.2,906.8 678.2,906.4 677.2,905.9 676.2,905.4 675.2,905.0 674.2,904.6 673.2,904.3 672.2,904.1 671.2,904.0 670.2,904.0 669.2,904.0 668.2,904.0 667.2,904.0 666.2,904.0 665.2,904.0 664.2,904.0 663.2,904.0 662.2,904.0 661.2,904.0 660.2,904.0 659.2,904.0 658.2,904.0 657.2,904.0 656.2,904.0 655.2,904.0 654.2,904.0 653.2,904.0 652.2,904.0 651.2,904.0 650.2,904.0 649.2,904.0 648.2,904.0 647.2,904.0 646.2,904.0 645.2,904.0 644.2,904.0 643.2,904.0 642.2,904.0 641.2,904.0 640.2,904.0 639.2,904.0 638.2,904.0 637.2,904.0 636.2,904.0 635.2,904.0 634.2,904.0 633.2,904.0 632.2,904.0 631.2,904.0 630.2,904.0 629.2,904.0 628.2,904.0 627.2,904.0 626.2,904.0 625.2,904.0 624.2,904.0 623.2,904.0 622.2,904.0 621.2,904.0 620.2,904.0 619.2,904.0 618.2,904.0 617.2,904.0 616.2,904.0 615.2,904.0 614.2,904.0 613.2,904.0 612.2,904.0 611.2,904.0 610.2,904.0 609.2,904.0 608.2,903.9 607.2,903.9 606.2,903.9 605.2,903.9 604.2,903.9 603.2,903.9 602.2,903.8 601.2,903.8 600.2,903.8 599.2,903.8 598.2,903.8 597.2,903.7 596.2,903.7 595.2,903.7 594.2,903.7 593.2,903.6 592.2,903.6 591.2,903.6 590.2,903.6 589.2,903.5 588.2,903.5 587.2,903.5 586.2,903.5 585.2,903.4 584.2,903.4 583.2,903.4 582.2,903.4 581.2,903.3 580.2,903.3 579.2,903.3 578.2,903.3 577.2,903.3 576.2,903.2 575.2,903.2 574.2,903.2 573.2,903.2 572.2,903.2 571.2,903.2 570.2,903.1 569.2,903.1 568.2,903.1 567.2,903.1 566.2,903.1 565.2,903.1 564.2,903.1 563.2,903.1 562.2,903.1 561.2,903.1 560.2,903.1 559.2,903.1 558.2,903.1 557.2,903.2 556.2,903.2 555.2,903.2 554.2,903.2 553.2,903.3 552.2,903.3 551.2,903.3 550.2,903.4 549.2,903.4 548.2,903.5 547.2,903.5 546.2,903.6 545.2,903.6 544.2,903.7 543.2,903.8 542.2,903.8 541.2,903.9 540.2,904.0 539.2,904.0 538.2,904.1 537.2,904.2 536.2,904.3 535.2,904.4 534.2,904.4 533.2,904.5 532.2,904.6 531.2,904.7 530.2,904.8 529.2,904.9 528.2,905.0 527.2,905.1 526.2,905.2 525.2,905.3 524.2,905.4 523.2,905.5 522.2,905.6 521.2,905.7 520.2,905.8 519.2,906.0 518.2,906.1 517.2,906.2 516.2,906.3 515.2,906.4 514.2,906.5 513.2,906.7 512.2,906.8 511.2,906.9 510.2,907.0 509.2,907.1 508.2,907.3 507.2,907.4 506.2,907.5 505.2,907.6 504.2,907.8 503.2,907.9 502.2,908.1 501.2,908.2 500.2,908.4 499.2,908.6 498.2,908.8 497.2,909.0 496.2,909.2 495.2,909.5 494.2,909.7 493.2,909.9 492.2,910.2 491.2,910.5 490.2,910.7 489.2,911.0 488.2,911.3 487.2,911.6 486.2,911.9 485.2,912.2 484.2,912.5 483.2,912.9 482.2,913.2 481.2,913.5 480.2,913.8 479.2,914.2 478.2,914.5 477.2,914.8 476.2,915.2 475.2,915.5 474.2,915.8 473.2,916.2 472.2,916.5 471.2,916.9 470.2,917.2 469.2,917.5 468.2,917.9 467.2,918.2 466.2,918.5 465.2,918.9 464.2,919.2 463.2,919.5 462.2,919.8 461.2,920.1 460.2,920.4 459.2,920.7 458.2,921.0 457.2,921.3 456.2,921.6 455.2,921.8 454.2,922.1 453.2,922.4 452.2,922.6 451.2,922.8 450.2,923.1 449.2,923.3 448.2,923.5 447.2,923.8 446.2,924.0 445.2,924.2 444.2,924.4 443.2,924.6 442.2,924.8 441.2,925.0 440.2,925.2 439.2,925.4 438.2,925.6 437.2,925.8 436.2,926.0 435.2,926.2 434.2,926.4 433.2,926.6 432.2,926.8 431.2,927.0 430.2,927.2 429.2,927.4 428.2,927.6 427.2,927.8 426.2,928.0 425.2,928.2 424.2,928.4 423.2,928.6 422.2,928.8 421.2,929.0 420.2,929.2 419.2,929.4 418.2,929.7 417.2,929.9 416.2,930.1 415.2,930.4 414.2,930.6 413.2,930.8 412.2,931.1 411.2,931.4 410.2,931.6 409.2,931.9 408.2,932.2 407.2,932.4 406.2,932.7 405.2,933.0 404.2,933.3 403.2,933.6 402.2,934.0 401.2,934.3 400.2,934.6 399.2,935.0 398.2,935.4 397.2,935.9 396.2,936.4 395.2,936.9 394.2,937.4 393.2,938.0 392.2,938.5 391.2,939.0 390.2,939.6 389.2,940.0 388.2,940.5 387.2,941.0 386.2,941.4 385.2,941.9 384.2,942.3 383.2,942.7 382.2,943.2 381.2,943.6 380.2,944.0 379.2,944.5 378.2,944.9 377.2,945.3 376.2,945.7 375.2,946.1 374.2,946.6 373.2,947.0 372.2,947.4 371.2,947.8 370.2,948.3 369.2,948.7 368.2,949.1 367.2,949.6 366.2,950.0 365.2,950.5 364.2,950.9 363.2,951.4 362.2,951.9 361.2,952.4 360.2,952.9 359.2,953.4 358.2,954.0 357.2,954.5 356.2,955.1 355.2,955.8 354.2,956.4 353.2,957.0 352.2,957.6 351.2,958.2 350.2,958.8 349.2,959.3 348.2,959.8 347.2,960.3 346.2,960.7 345.2,961.1 344.2,961.4 343.2,961.7 342.2,961.9 341.2,962.1 340.2,962.3 339.2,962.5 338.2,962.6 337.2,962.8 336.2,963.0 335.2,963.2 334.2,963.4 333.2,963.6 332.2,963.9 331.2,964.2 330.2,964.5 329.2,964.8 328.2,965.1 327.2,965.5 326.2,965.8 325.2,966.2 324.2,966.6 323.2,967.0 322.2,967.4 321.2,967.9 320.2,968.3 319.2,968.8 318.2,969.2 317.2,969.7 316.2,970.2 315.2,970.7 314.2,971.2 313.2,971.7 312.2,972.2 311.2,972.7 310.2,973.3 309.2,973.8 308.2,974.3 307.2,974.9 306.2,975.4 305.2,976.0 304.2,976.6 303.2,977.1 302.2,977.7 301.2,978.2 300.2,978.8 299.2,979.4 298.2,980.0 297.2,980.5 296.2,981.1 295.2,981.7 294.2,982.3 293.2,982.9 292.2,983.6 291.2,984.2 290.2,984.8 289.2,985.5 288.2,986.2 287.2,986.8 286.2,987.5 285.2,988.2 284.2,988.9 283.2,989.6 282.2,990.4 281.2,991.1 280.2,991.9 279.2,992.7 278.2,993.5 277.2,994.3 276.2,995.1 275.2,995.9 274.2,996.8 273.2,997.6 272.2,998.5 271.2,999.4 270.2,1000.4 269.2,1001.3 268.2,1002.4 267.2,1003.4 266.2,1004.5 265.2,1005.7 264.2,1006.9 263.2,1008.1 262.2,1009.3 261.2,1010.5 260.2,1011.8 259.2,1013.1 258.2,1014.4 257.2,1015.7 256.2,1017.0 255.2,1018.3 254.2,1019.6 253.2,1020.9 252.2,1022.2 251.2,1023.6 250.2,1024.9 249.2,1026.3 248.2,1027.7 247.2,1029.1 246.2,1030.6 245.2,1032.0 244.2,1033.4 243.2,1034.9 242.2,1036.3 241.2,1037.7 240.2,1039.2 239.2,1040.6 238.2,1042.1 237.2,1043.6 236.2,1045.1 235.2,1046.7 234.2,1048.2 233.2,1049.7 232.2,1051.3 231.2,1052.8 230.2,1054.3 229.2,1055.8 228.2,1057.2 227.2,1058.5 226.2,1059.8 225.2,1061.1 224.2,1062.3 223.2,1063.3 222.2,1064.4 221.2,1065.3 220.2,1066.3 219.2,1067.2 218.2,1068.2 217.2,1069.2 216.2,1070.2 215.2,1071.2 214.2,1072.3 213.2,1073.3 212.2,1074.3 211.2,1075.4 210.2,1076.5 209.2,1077.6 208.2,1078.9 207.2,1080.2 206.2,1081.7 205.2,1083.3 204.2,1085.0 203.2,1086.9 202.2,1089.0 201.2,1091.2 200.2,1093.5 199.2,1095.9 198.2,1098.4 197.2,1101.0 196.2,1103.7 195.2,1106.4 194.2,1109.4 193.2,1112.6 192.2,1116.1 191.2,1119.9 190.2,1123.8 189.2,1127.7 188.2,1131.7 187.2,1135.6 186.2,1139.5 185.2,1143.1 184.2,1146.5 183.2,1149.7 182.2,1152.8 181.2,1155.9 180.2,1158.9 179.2,1161.9 178.2,1164.7 177.2,1167.5 176.2,1170.1 175.2,1172.7 174.2,1175.1 173.2,1177.5 172.2,1179.7 171.2,1181.9 170.2,1184.1 169.2,1186.1 168.2,1188.1 167.2,1190.0 166.2,1191.8 165.2,1193.6 164.2,1195.2" fill="#f85e5e" fill-opacity="0.65" stroke="none"/>
<polyline points="164.2,1147.5 165.2,1144.1 166.2,1140.9 167.2,1137.9 168.2,1135.3 169.2,1133.0 170.2,1131.1 171.2,1129.4 172.2,1127.8 173.2,1126.2 174.2,1124.6 175.2,1122.8 176.2,1120.9 177.2,1118.7 178.2,1116.2 179.2,1113.3 180.2,1110.3 181.2,1107.1 182.2,1103.9 183.2,1100.6 184.2,1097.3 185.2,1093.9 186.2,1090.2 187.2,1086.5 188.2,1082.7 189.2,1079.0 190.2,1075.4 191.2,1072.1 192.2,1069.1 193.2,1066.3 194.2,1063.7 195.2,1061.1 196.2,1058.6 197.2,1056.3 198.2,1053.9 199.2,1051.7 200.2,1049.6 201.2,1047.5 202.2,1045.6 203.2,1043.7 204.2,1041.9 205.2,1040.2 206.2,1038.6 207.2,1037.1 208.2,1035.6 209.2,1034.2 210.2,1032.8 211.2,1031.5 212.2,1030.3 213.2,1029.0 214.2,1027.8 215.2,1026.5 216.2,1025.3 217.2,1024.1 218.2,1023.0 219.2,1021.9 220.2,1020.9 221.2,1019.8 222.2,1018.7 223.2,1017.6 224.2,1016.4 225.2,1015.1 226.2,1013.7 227.2,1012.1 228.2,1010.2 229.2,1008.2 230.2,1006.0 231.2,1003.8 232.2,1001.5 233.2,999.3 234.2,997.1 235.2,995.0 236.2,993.1 237.2,991.4 238.2,989.8 239.2,988.1 240.2,986.6 241.2,985.0 242.2,983.5 243.2,982.0 244.2,980.6 245.2,979.1 246.2,977.8 247.2,976.4 248.2,975.1 249.2,973.8 250.2,972.6 251.2,971.3 252.2,970.1 253.2,969.0 254.2,967.9 255.2,966.8 256.2,965.7 257.2,964.7 258.2,963.6 259.2,962.6 260.2,961.7 261.2,960.7 262.2,959.8 263.2,958.9 264.2,958.0 265.2,957.1 266.2,956.2 267.2,955.4 268.2,954.5 269.2,953.7 270.2,952.9 271.2,952.1 272.2,951.3 273.2,950.5 274.2,949.7 275.2,948.9 276.2,948.2 277.2,947.4 278.2,946.7 279.2,945.9 280.2,945.2 281.2,944.5 282.2,943.8 283.2,943.1 284.2,942.4 285.2,941.8 286.2,941.1 287.2,940.5 288.2,939.9 289.2,939.3 290.2,938.7 291.2,938.1 292.2,937.5 293.2,937.0 294.2,936.4 295.2,935.9 296.2,935.3 297.2,934.8 298.2,934.3 299.2,933.7 300.2,933.2 301.2,932.7 302.2,932.3 303.2,931.8 304.2,931.3 305.2,930.9 306.2,930.4 307.2,930.0 308.2,929.6 309.2,929.1 310.2,928.7 311.2,928.4 312.2,928.0 313.2,927.6 314.2,927.3 315.2,926.9 316.2,926.6 317.2,926.3 318.2,925.9 319.2,925.6 320.2,925.3 321.2,925.0 322.2,924.7 323.2,924.4 324.2,924.1 325.2,923.8 326.2,923.5 327.2,923.3 328.2,923.0 329.2,922.7 330.2,922.4 331.2,922.1 332.2,921.8 333.2,921.5 334.2,921.1 335.2,920.8 336.2,920.5 337.2,920.2 338.2,919.8 339.2,919.4 340.2,919.1 341.2,918.7 342.2,918.3 343.2,917.9 344.2,917.5 345.2,917.1 346.2,916.7 347.2,916.3 348.2,915.9 349.2,915.5 350.2,915.1 351.2,914.6 352.2,914.2 353.2,913.8 354.2,913.4 355.2,912.9 356.2,912.5 357.2,912.1 358.2,911.7 359.2,911.3 360.2,910.9 361.2,910.5 362.2,910.1 363.2,909.7 364.2,909.3 365.2,908.9 366.2,908.6 367.2,908.2 368.2,907.9 369.2,907.5 370.2,907.2 371.2,906.9 372.2,906.5 373.2,906.2 374.2,905.9 375.2,905.6 376.2,905.3 377.2,905.0 378.2,904.7 379.2,904.4 380.2,904.0 381.2,903.7 382.2,903.4 383.2,903.1 384.2,902.8 385.2,902.5 386.2,902.2 387.2,901.9 388.2,901.6 389.2,901.3 390.2,901.0 391.2,900.6 392.2,900.3 393.2,900.0 394.2,899.6 395.2,899.2 396.2,898.9 397.2,898.5 398.2,898.2 399.2,897.9 400.2,897.6 401.2,897.4 402.2,897.2 403.2,896.9 404.2,896.7 405.2,896.4 406.2,896.2 407.2,896.0 408.2,895.8 409.2,895.6 410.2,895.4 411.2,895.1 412.2,894.9 413.2,894.7 414.2,894.5 415.2,894.4 416.2,894.2 417.2,894.0 418.2,893.8 419.2,893.6 420.2,893.4 421.2,893.3 422.2,893.1 423.2,892.9 424.2,892.7 425.2,892.6 426.2,892.4 427.2,892.2 428.2,892.1 429.2,891.9 430.2,891.7 431.2,891.6 432.2,891.4 433.2,891.3 434.2,891.1 435.2,890.9 436.2,890.8 437.2,890.6 438.2,890.5 439.2,890.3 440.2,890.1 441.2,890.0 442.2,889.8 443.2,889.7 444.2,889.5 445.2,889.3 446.2,889.2 447.2,889.0 448.2,888.8 449.2,888.7 450.2,888.5 451.2,888.3 452.2,888.2 453.2,888.0 454.2,887.8 455.2,887.6 456.2,887.4 457.2,887.2 458.2,887.1 459.2,886.9 460.2,886.7 461.2,886.5 462.2,886.3 463.2,886.1 464.2,885.9 465.2,885.7 466.2,885.5 467.2,885.3 468.2,885.1 469.2,884.9 470.2,884.7 471.2,884.5 472.2,884.3 473.2,884.1 474.2,883.9 475.2,883.7 476.2,883.5 477.2,883.3 478.2,883.1 479.2,882.9 480.2,882.7 481.2,882.5 482.2,882.3 483.2,882.1 484.2,882.0 485.2,881.8 486.2,881.6 487.2,881.4 488.2,881.2 489.2,881.1 490.2,880.9 491.2,880.7 492.2,880.5 493.2,880.4 494.2,880.2 495.2,880.1 496.2,879.9 497.2,879.8 498.2,879.6 499.2,879.5 500.2,879.4 501.2,879.2 502.2,879.1 503.2,879.0 504.2,878.9 505.2,878.7 506.2,878.6 507.2,878.5 508.2,878.4 509.2,878.3 510.2,878.2 511.2,878.1 512.2,878.0 513.2,877.9 514.2,877.8 515.2,877.7 516.2,877.6 517.2,877.5 518.2,877.4 519.2,877.2 520.2,877.1 521.2,877.0 522.2,876.9 523.2,876.8 524.2,876.8 525.2,876.7 526.2,876.6 527.2,876.5 528.2,876.4 529.2,876.3 530.2,876.2 531.2,876.1 532.2,876.0 533.2,875.9 534.2,875.8 535.2,875.8 536.2,875.7 537.2,875.6 538.2,875.5 539.2,875.4 540.2,875.4 541.2,875.3 542.2,875.2 543.2,875.2 544.2,875.1 545.2,875.0 546.2,875.0 547.2,874.9 548.2,874.8 549.2,874.8 550.2,874.7 551.2,874.7 552.2,874.6 553.2,874.6 554.2,874.5 555.2,874.5 556.2,874.4 557.2,874.4 558.2,874.3 559.2,874.3 560.2,874.3 561.2,874.2 562.2,874.2 563.2,874.2 564.2,874.2 565.2,874.1 566.2,874.1 567.2,874.1 568.2,874.1 569.2,874.0 570.2,874.0 571.2,874.0 572.2,874.0 573.2,873.9 574.2,873.9 575.2,873.9 576.2,873.9 577.2,873.9 578.2,873.9 579.2,873.8 580.2,873.8 581.2,873.8 582.2,873.8 583.2,873.8 584.2,873.8 585.2,873.7 586.2,873.7 587.2,873.7 588.2,873.7 589.2,873.7 590.2,873.7 591.2,873.7 592.2,873.6 593.2,873.6 594.2,873.6 595.2,873.6 596.2,873.6 597.2,873.6 598.2,873.6 599.2,873.5 600.2,873.5 601.2,873.5 602.2,873.5 603.2,873.5 604.2,873.5 605.2,873.5 606.2,873.5 607.2,873.4 608.2,873.4 609.2,873.4 610.2,873.4 611.2,873.4 612.2,873.4 613.2,873.4 614.2,873.3 615.2,873.3 616.2,873.3 617.2,873.3 618.2,873.3 619.2,873.3 620.2,873.2 621.2,873.2 622.2,873.2 623.2,873.2 624.2,873.2 625.2,873.1 626.2,873.1 627.2,873.1 628.2,873.1 629.2,873.1 630.2,873.0 631.2,873.0 632.2,873.0 633.2,873.0 634.2,872.9 635.2,872.9 636.2,872.9 637.2,872.9 638.2,872.9 639.2,872.8 640.2,872.8 641.2,872.8 642.2,872.8 643.2,872.8 644.2,872.7 645.2,872.7 646.2,872.7 647.2,872.7 648.2,872.6 649.2,872.6 650.2,872.6 651.2,872.6 652.2,872.6 653.2,872.6 654.2,872.5 655.2,872.5 656.2,872.5 657.2,872.5 658.2,872.5 659.2,872.5 660.2,872.5 661.2,872.5 662.2,872.4 663.2,872.4 664.2,872.4 665.2,872.4 666.2,872.4 667.2,872.4 668.2,872.4 669.2,872.4 670.2,872.4 671.2,872.4 672.2,872.6 673.2,872.8 674.2,873.3 675.2,873.8 676.2,874.3 677.2,874.9 678.2,875.5 679.2,876.0 680.2,876.5 681.2,876.9 682.2,877.1 683.2,877.4 684.2,877.6 685.2,877.8 686.2,878.1 687.2,878.3 688.2,878.5 689.2,878.7 690.2,878.9 691.2,879.0 692.2,879.2 693.2,879.3 694.2,879.4 695.2,879.5 696.2,879.6 697.2,879.7 698.2,879.7 698.7,879.7" fill="none" stroke="#ec6a6a" stroke-width="3.4" stroke-linejoin="round" stroke-linecap="round"/>
<polyline points="164.2,1195.2 165.2,1193.6 166.2,1191.8 167.2,1190.0 168.2,1188.1 169.2,1186.1 170.2,1184.1 171.2,1181.9 172.2,1179.7 173.2,1177.5 174.2,1175.1 175.2,1172.7 176.2,1170.1 177.2,1167.5 178.2,1164.7 179.2,1161.9 180.2,1158.9 181.2,1155.9 182.2,1152.8 183.2,1149.7 184.2,1146.5 185.2,1143.1 186.2,1139.5 187.2,1135.6 188.2,1131.7 189.2,1127.7 190.2,1123.8 191.2,1119.9 192.2,1116.1 193.2,1112.6 194.2,1109.4 195.2,1106.4 196.2,1103.7 197.2,1101.0 198.2,1098.4 199.2,1095.9 200.2,1093.5 201.2,1091.2 202.2,1089.0 203.2,1086.9 204.2,1085.0 205.2,1083.3 206.2,1081.7 207.2,1080.2 208.2,1078.9 209.2,1077.6 210.2,1076.5 211.2,1075.4 212.2,1074.3 213.2,1073.3 214.2,1072.3 215.2,1071.2 216.2,1070.2 217.2,1069.2 218.2,1068.2 219.2,1067.2 220.2,1066.3 221.2,1065.3 222.2,1064.4 223.2,1063.3 224.2,1062.3 225.2,1061.1 226.2,1059.8 227.2,1058.5 228.2,1057.2 229.2,1055.8 230.2,1054.3 231.2,1052.8 232.2,1051.3 233.2,1049.7 234.2,1048.2 235.2,1046.7 236.2,1045.1 237.2,1043.6 238.2,1042.1 239.2,1040.6 240.2,1039.2 241.2,1037.7 242.2,1036.3 243.2,1034.9 244.2,1033.4 245.2,1032.0 246.2,1030.6 247.2,1029.1 248.2,1027.7 249.2,1026.3 250.2,1024.9 251.2,1023.6 252.2,1022.2 253.2,1020.9 254.2,1019.6 255.2,1018.3 256.2,1017.0 257.2,1015.7 258.2,1014.4 259.2,1013.1 260.2,1011.8 261.2,1010.5 262.2,1009.3 263.2,1008.1 264.2,1006.9 265.2,1005.7 266.2,1004.5 267.2,1003.4 268.2,1002.4 269.2,1001.3 270.2,1000.4 271.2,999.4 272.2,998.5 273.2,997.6 274.2,996.8 275.2,995.9 276.2,995.1 277.2,994.3 278.2,993.5 279.2,992.7 280.2,991.9 281.2,991.1 282.2,990.4 283.2,989.6 284.2,988.9 285.2,988.2 286.2,987.5 287.2,986.8 288.2,986.2 289.2,985.5 290.2,984.8 291.2,984.2 292.2,983.6 293.2,982.9 294.2,982.3 295.2,981.7 296.2,981.1 297.2,980.5 298.2,980.0 299.2,979.4 300.2,978.8 301.2,978.2 302.2,977.7 303.2,977.1 304.2,976.6 305.2,976.0 306.2,975.4 307.2,974.9 308.2,974.3 309.2,973.8 310.2,973.3 311.2,972.7 312.2,972.2 313.2,971.7 314.2,971.2 315.2,970.7 316.2,970.2 317.2,969.7 318.2,969.2 319.2,968.8 320.2,968.3 321.2,967.9 322.2,967.4 323.2,967.0 324.2,966.6 325.2,966.2 326.2,965.8 327.2,965.5 328.2,965.1 329.2,964.8 330.2,964.5 331.2,964.2 332.2,963.9 333.2,963.6 334.2,963.4 335.2,963.2 336.2,963.0 337.2,962.8 338.2,962.6 339.2,962.5 340.2,962.3 341.2,962.1 342.2,961.9 343.2,961.7 344.2,961.4 345.2,961.1 346.2,960.7 347.2,960.3 348.2,959.8 349.2,959.3 350.2,958.8 351.2,958.2 352.2,957.6 353.2,957.0 354.2,956.4 355.2,955.8 356.2,955.1 357.2,954.5 358.2,954.0 359.2,953.4 360.2,952.9 361.2,952.4 362.2,951.9 363.2,951.4 364.2,950.9 365.2,950.5 366.2,950.0 367.2,949.6 368.2,949.1 369.2,948.7 370.2,948.3 371.2,947.8 372.2,947.4 373.2,947.0 374.2,946.6 375.2,946.1 376.2,945.7 377.2,945.3 378.2,944.9 379.2,944.5 380.2,944.0 381.2,943.6 382.2,943.2 383.2,942.7 384.2,942.3 385.2,941.9 386.2,941.4 387.2,941.0 388.2,940.5 389.2,940.0 390.2,939.6 391.2,939.0 392.2,938.5 393.2,938.0 394.2,937.4 395.2,936.9 396.2,936.4 397.2,935.9 398.2,935.4 399.2,935.0 400.2,934.6 401.2,934.3 402.2,934.0 403.2,933.6 404.2,933.3 405.2,933.0 406.2,932.7 407.2,932.4 408.2,932.2 409.2,931.9 410.2,931.6 411.2,931.4 412.2,931.1 413.2,930.8 414.2,930.6 415.2,930.4 416.2,930.1 417.2,929.9 418.2,929.7 419.2,929.4 420.2,929.2 421.2,929.0 422.2,928.8 423.2,928.6 424.2,928.4 425.2,928.2 426.2,928.0 427.2,927.8 428.2,927.6 429.2,927.4 430.2,927.2 431.2,927.0 432.2,926.8 433.2,926.6 434.2,926.4 435.2,926.2 436.2,926.0 437.2,925.8 438.2,925.6 439.2,925.4 440.2,925.2 441.2,925.0 442.2,924.8 443.2,924.6 444.2,924.4 445.2,924.2 446.2,924.0 447.2,923.8 448.2,923.5 449.2,923.3 450.2,923.1 451.2,922.8 452.2,922.6 453.2,922.4 454.2,922.1 455.2,921.8 456.2,921.6 457.2,921.3 458.2,921.0 459.2,920.7 460.2,920.4 461.2,920.1 462.2,919.8 463.2,919.5 464.2,919.2 465.2,918.9 466.2,918.5 467.2,918.2 468.2,917.9 469.2,917.5 470.2,917.2 471.2,916.9 472.2,916.5 473.2,916.2 474.2,915.8 475.2,915.5 476.2,915.2 477.2,914.8 478.2,914.5 479.2,914.2 480.2,913.8 481.2,913.5 482.2,913.2 483.2,912.9 484.2,912.5 485.2,912.2 486.2,911.9 487.2,911.6 488.2,911.3 489.2,911.0 490.2,910.7 491.2,910.5 492.2,910.2 493.2,909.9 494.2,909.7 495.2,909.5 496.2,909.2 497.2,909.0 498.2,908.8 499.2,908.6 500.2,908.4 501.2,908.2 502.2,908.1 503.2,907.9 504.2,907.8 505.2,907.6 506.2,907.5 507.2,907.4 508.2,907.3 509.2,907.1 510.2,907.0 511.2,906.9 512.2,906.8 513.2,906.7 514.2,906.5 515.2,906.4 516.2,906.3 517.2,906.2 518.2,906.1 519.2,906.0 520.2,905.8 521.2,905.7 522.2,905.6 523.2,905.5 524.2,905.4 525.2,905.3 526.2,905.2 527.2,905.1 528.2,905.0 529.2,904.9 530.2,904.8 531.2,904.7 532.2,904.6 533.2,904.5 534.2,904.4 535.2,904.4 536.2,904.3 537.2,904.2 538.2,904.1 539.2,904.0 540.2,904.0 541.2,903.9 542.2,903.8 543.2,903.8 544.2,903.7 545.2,903.6 546.2,903.6 547.2,903.5 548.2,903.5 549.2,903.4 550.2,903.4 551.2,903.3 552.2,903.3 553.2,903.3 554.2,903.2 555.2,903.2 556.2,903.2 557.2,903.2 558.2,903.1 559.2,903.1 560.2,903.1 561.2,903.1 562.2,903.1 563.2,903.1 564.2,903.1 565.2,903.1 566.2,903.1 567.2,903.1 568.2,903.1 569.2,903.1 570.2,903.1 571.2,903.2 572.2,903.2 573.2,903.2 574.2,903.2 575.2,903.2 576.2,903.2 577.2,903.3 578.2,903.3 579.2,903.3 580.2,903.3 581.2,903.3 582.2,903.4 583.2,903.4 584.2,903.4 585.2,903.4 586.2,903.5 587.2,903.5 588.2,903.5 589.2,903.5 590.2,903.6 591.2,903.6 592.2,903.6 593.2,903.6 594.2,903.7 595.2,903.7 596.2,903.7 597.2,903.7 598.2,903.8 599.2,903.8 600.2,903.8 601.2,903.8 602.2,903.8 603.2,903.9 604.2,903.9 605.2,903.9 606.2,903.9 607.2,903.9 608.2,903.9 609.2,904.0 610.2,904.0 611.2,904.0 612.2,904.0 613.2,904.0 614.2,904.0 615.2,904.0 616.2,904.0 617.2,904.0 618.2,904.0 619.2,904.0 620.2,904.0 621.2,904.0 622.2,904.0 623.2,904.0 624.2,904.0 625.2,904.0 626.2,904.0 627.2,904.0 628.2,904.0 629.2,904.0 630.2,904.0 631.2,904.0 632.2,904.0 633.2,904.0 634.2,904.0 635.2,904.0 636.2,904.0 637.2,904.0 638.2,904.0 639.2,904.0 640.2,904.0 641.2,904.0 642.2,904.0 643.2,904.0 644.2,904.0 645.2,904.0 646.2,904.0 647.2,904.0 648.2,904.0 649.2,904.0 650.2,904.0 651.2,904.0 652.2,904.0 653.2,904.0 654.2,904.0 655.2,904.0 656.2,904.0 657.2,904.0 658.2,904.0 659.2,904.0 660.2,904.0 661.2,904.0 662.2,904.0 663.2,904.0 664.2,904.0 665.2,904.0 666.2,904.0 667.2,904.0 668.2,904.0 669.2,904.0 670.2,904.0 671.2,904.0 672.2,904.1 673.2,904.3 674.2,904.6 675.2,905.0 676.2,905.4 677.2,905.9 678.2,906.4 679.2,906.8 680.2,907.2 681.2,907.6 682.2,907.8 683.2,908.1 684.2,908.4 685.2,908.6 686.2,908.9 687.2,909.1 688.2,909.3 689.2,909.6 690.2,909.8 691.2,910.0 692.2,910.2 693.2,910.4 694.2,910.6 695.2,910.8 696.2,910.9 697.2,911.1 698.2,911.2 698.7,911.3" fill="none" stroke="#ec6a6a" stroke-width="3.4" stroke-linejoin="round" stroke-linecap="round"/>
<polyline points="164.2,1171.3 165.2,1169.4 166.2,1167.4 167.2,1165.4 168.2,1163.4 169.2,1161.2 170.2,1159.0 171.2,1156.8 172.2,1154.5 173.2,1152.2 174.2,1149.8 175.2,1147.4 176.2,1144.9 177.2,1142.3 178.2,1139.6 179.2,1136.9 180.2,1134.2 181.2,1131.4 182.2,1128.5 183.2,1125.6 184.2,1122.7 185.2,1119.7 186.2,1116.6 187.2,1113.4 188.2,1110.2 189.2,1106.9 190.2,1103.7 191.2,1100.4 192.2,1097.2 193.2,1094.0 194.2,1090.6 195.2,1087.1 196.2,1083.5 197.2,1080.1 198.2,1076.7 199.2,1073.5 200.2,1070.6 201.2,1068.0 202.2,1065.8 203.2,1063.8 204.2,1062.0 205.2,1060.3 206.2,1058.7 207.2,1057.2 208.2,1055.8 209.2,1054.4 210.2,1053.1 211.2,1051.9 212.2,1050.6 213.2,1049.4 214.2,1048.3 215.2,1047.2 216.2,1046.2 217.2,1045.2 218.2,1044.3 219.2,1043.3 220.2,1042.4 221.2,1041.4 222.2,1040.4 223.2,1039.3 224.2,1038.2 225.2,1037.0 226.2,1035.8 227.2,1034.6 228.2,1033.3 229.2,1032.1 230.2,1030.8 231.2,1029.4 232.2,1028.0 233.2,1026.5 234.2,1025.0 235.2,1023.5 236.2,1021.8 237.2,1019.9 238.2,1017.8 239.2,1015.6 240.2,1013.4 241.2,1011.3 242.2,1009.5 243.2,1007.9 244.2,1006.4 245.2,1004.9 246.2,1003.5 247.2,1002.2 248.2,1000.8 249.2,999.6 250.2,998.3 251.2,997.1 252.2,996.0 253.2,994.9 254.2,993.8 255.2,992.7 256.2,991.7 257.2,990.7 258.2,989.7 259.2,988.8 260.2,987.9 261.2,987.0 262.2,986.1 263.2,985.3 264.2,984.5 265.2,983.7 266.2,982.9 267.2,982.2 268.2,981.4 269.2,980.7 270.2,980.0 271.2,979.3 272.2,978.6 273.2,978.0 274.2,977.3 275.2,976.6 276.2,975.9 277.2,975.2 278.2,974.5 279.2,973.8 280.2,973.0 281.2,972.3 282.2,971.5 283.2,970.7 284.2,969.9 285.2,969.1 286.2,968.2 287.2,967.3 288.2,966.4 289.2,965.6 290.2,964.7 291.2,963.8 292.2,963.0 293.2,962.1 294.2,961.3 295.2,960.6 296.2,959.8 297.2,959.1 298.2,958.5 299.2,957.9 300.2,957.3 301.2,956.8 302.2,956.2 303.2,955.7 304.2,955.2 305.2,954.6 306.2,954.1 307.2,953.7 308.2,953.2 309.2,952.7 310.2,952.2 311.2,951.8 312.2,951.4 313.2,950.9 314.2,950.5 315.2,950.1 316.2,949.7 317.2,949.3 318.2,948.8 319.2,948.5 320.2,948.1 321.2,947.7 322.2,947.3 323.2,946.9 324.2,946.6 325.2,946.2 326.2,945.8 327.2,945.5 328.2,945.1 329.2,944.7 330.2,944.4 331.2,944.0 332.2,943.7 333.2,943.3 334.2,943.0 335.2,942.6 336.2,942.3 337.2,942.1 338.2,941.8 339.2,941.4 340.2,941.1 341.2,940.8 342.2,940.4 343.2,939.9 344.2,939.5 345.2,938.9 346.2,938.4 347.2,937.8 348.2,937.2 349.2,936.6 350.2,936.0 351.2,935.4 352.2,934.9 353.2,934.3 354.2,933.8 355.2,933.3 356.2,932.8 357.2,932.4 358.2,931.9 359.2,931.5 360.2,931.1 361.2,930.7 362.2,930.3 363.2,929.9 364.2,929.5 365.2,929.1 366.2,928.7 367.2,928.3 368.2,928.0 369.2,927.6 370.2,927.2 371.2,926.9 372.2,926.5 373.2,926.1 374.2,925.8 375.2,925.4 376.2,925.1 377.2,924.7 378.2,924.3 379.2,924.0 380.2,923.6 381.2,923.3 382.2,922.9 383.2,922.5 384.2,922.2 385.2,921.8 386.2,921.4 387.2,921.0 388.2,920.6 389.2,920.2 390.2,919.8 391.2,919.4 392.2,919.0 393.2,918.5 394.2,918.1 395.2,917.6 396.2,917.2 397.2,916.8 398.2,916.4 399.2,916.0 400.2,915.7 401.2,915.5 402.2,915.2 403.2,914.9 404.2,914.6 405.2,914.4 406.2,914.1 407.2,913.9 408.2,913.6 409.2,913.4 410.2,913.1 411.2,912.9 412.2,912.7 413.2,912.5 414.2,912.2 415.2,912.0 416.2,911.8 417.2,911.6 418.2,911.4 419.2,911.2 420.2,911.0 421.2,910.8 422.2,910.6 423.2,910.5 424.2,910.3 425.2,910.1 426.2,909.9 427.2,909.7 428.2,909.6 429.2,909.4 430.2,909.2 431.2,909.0 432.2,908.9 433.2,908.7 434.2,908.5 435.2,908.3 436.2,908.2 437.2,908.0 438.2,907.8 439.2,907.7 440.2,907.5 441.2,907.3 442.2,907.1 443.2,907.0 444.2,906.8 445.2,906.6 446.2,906.4 447.2,906.2 448.2,906.1 449.2,905.9 450.2,905.7 451.2,905.5 452.2,905.3 453.2,905.1 454.2,904.9 455.2,904.7 456.2,904.5 457.2,904.3 458.2,904.0 459.2,903.8 460.2,903.6 461.2,903.3 462.2,903.1 463.2,902.8 464.2,902.6 465.2,902.3 466.2,902.0 467.2,901.8 468.2,901.5 469.2,901.3 470.2,901.0 471.2,900.7 472.2,900.5 473.2,900.2 474.2,899.9 475.2,899.7 476.2,899.4 477.2,899.1 478.2,898.9 479.2,898.6 480.2,898.4 481.2,898.1 482.2,897.9 483.2,897.6 484.2,897.4 485.2,897.2 486.2,897.0 487.2,896.7 488.2,896.5 489.2,896.3 490.2,896.1 491.2,896.0 492.2,895.8 493.2,895.6 494.2,895.5 495.2,895.3 496.2,895.2 497.2,895.1 498.2,894.9 499.2,894.8 500.2,894.7 501.2,894.7 502.2,894.6 503.2,894.6 504.2,894.5 505.2,894.5 506.2,894.5 507.2,894.4 508.2,894.4 509.2,894.4 510.2,894.4 511.2,894.4 512.2,894.4 513.2,894.4 514.2,894.4 515.2,894.4 516.2,894.3 517.2,894.3 518.2,894.3 519.2,894.3 520.2,894.3 521.2,894.3 522.2,894.3 523.2,894.3 524.2,894.2 525.2,894.2 526.2,894.2 527.2,894.2 528.2,894.1 529.2,894.0 530.2,894.0 531.2,893.8 532.2,893.7 533.2,893.6 534.2,893.4 535.2,893.3 536.2,893.1 537.2,892.9 538.2,892.7 539.2,892.5 540.2,892.3 541.2,892.1 542.2,891.8 543.2,891.6 544.2,891.4 545.2,891.2 546.2,891.0 547.2,890.7 548.2,890.5 549.2,890.3 550.2,890.1 551.2,889.9 552.2,889.7 553.2,889.6 554.2,889.4 555.2,889.3 556.2,889.1 557.2,889.0 558.2,888.9 559.2,888.8 560.2,888.8 561.2,888.7 562.2,888.7 563.2,888.7 564.2,888.7 565.2,888.7 566.2,888.7 567.2,888.7 568.2,888.7 569.2,888.7 570.2,888.7 571.2,888.7 572.2,888.7 573.2,888.7 574.2,888.7 575.2,888.8 576.2,888.8 577.2,888.8 578.2,888.8 579.2,888.8 580.2,888.8 581.2,888.8 582.2,888.8 583.2,888.8 584.2,888.8 585.2,888.9 586.2,888.9 587.2,888.9 588.2,888.9 589.2,888.9 590.2,888.9 591.2,888.9 592.2,888.9 593.2,888.9 594.2,889.0 595.2,889.0 596.2,889.0 597.2,889.0 598.2,889.0 599.2,889.0 600.2,889.0 601.2,889.0 602.2,889.0 603.2,889.0 604.2,889.0 605.2,889.1 606.2,889.1 607.2,889.1 608.2,889.1 609.2,889.1 610.2,889.1 611.2,889.1 612.2,889.1 613.2,889.1 614.2,889.1 615.2,889.1 616.2,889.1 617.2,889.1 618.2,889.1 619.2,889.1 620.2,889.1 621.2,889.1 622.2,889.1 623.2,889.1 624.2,889.0 625.2,889.0 626.2,889.0 627.2,889.0 628.2,889.0 629.2,889.0 630.2,888.9 631.2,888.9 632.2,888.9 633.2,888.9 634.2,888.9 635.2,888.8 636.2,888.8 637.2,888.8 638.2,888.8 639.2,888.7 640.2,888.7 641.2,888.7 642.2,888.6 643.2,888.6 644.2,888.6 645.2,888.6 646.2,888.5 647.2,888.5 648.2,888.5 649.2,888.5 650.2,888.4 651.2,888.4 652.2,888.4 653.2,888.4 654.2,888.3 655.2,888.3 656.2,888.3 657.2,888.3 658.2,888.2 659.2,888.2 660.2,888.2 661.2,888.2 662.2,888.2 663.2,888.2 664.2,888.1 665.2,888.1 666.2,888.1 667.2,888.1 668.2,888.1 669.2,888.1 670.2,888.1 671.2,888.1 672.2,888.2 673.2,888.4 674.2,888.6 675.2,888.9 676.2,889.3 677.2,889.7 678.2,890.1 679.2,890.5 680.2,890.9 681.2,891.2 682.2,891.6 683.2,891.9 684.2,892.2 685.2,892.5 686.2,892.8 687.2,893.1 688.2,893.4 689.2,893.7 690.2,894.0 691.2,894.3 692.2,894.6 693.2,894.9 694.2,895.2 695.2,895.5 696.2,895.8 697.2,896.1 698.2,896.4 698.7,896.5" fill="none" stroke="#f20000" stroke-width="5.2" stroke-linejoin="round" stroke-linecap="round"/>
</g>
<clipPath id="c994"><rect x="994.5" y="0" width="1000" height="1424"/></clipPath><g clip-path="url(#c994)">
<polygon points="996.8,1136.1 997.8,1133.6 998.8,1131.2 999.8,1128.8 1000.8,1126.6 1001.8,1124.5 1002.8,1122.5 1003.8,1120.6 1004.8,1118.9 1005.8,1117.5 1006.8,1116.1 1007.8,1114.8 1008.8,1113.6 1009.8,1112.2 1010.8,1110.7 1011.8,1109.0 1012.8,1106.9 1013.8,1104.5 1014.8,1101.8 1015.8,1098.7 1016.8,1095.4 1017.8,1092.0 1018.8,1088.5 1019.8,1085.0 1020.8,1081.5 1021.8,1078.1 1022.8,1074.8 1023.8,1071.4 1024.8,1067.9 1025.8,1064.4 1026.8,1060.9 1027.8,1057.5 1028.8,1054.2 1029.8,1051.0 1030.8,1048.1 1031.8,1045.3 1032.8,1042.5 1033.8,1039.7 1034.8,1036.9 1035.8,1034.3 1036.8,1031.9 1037.8,1029.6 1038.8,1027.6 1039.8,1025.9 1040.8,1024.4 1041.8,1023.1 1042.8,1022.0 1043.8,1021.0 1044.8,1020.1 1045.8,1019.2 1046.8,1018.4 1047.8,1017.6 1048.8,1016.8 1049.8,1016.0 1050.8,1015.1 1051.8,1014.2 1052.8,1013.1 1053.8,1011.9 1054.8,1010.5 1055.8,1008.8 1056.8,1006.8 1057.8,1004.7 1058.8,1002.6 1059.8,1000.6 1060.8,998.9 1061.8,997.3 1062.8,995.7 1063.8,994.1 1064.8,992.5 1065.8,991.0 1066.8,989.5 1067.8,988.0 1068.8,986.6 1069.8,985.2 1070.8,983.8 1071.8,982.5 1072.8,981.2 1073.8,979.9 1074.8,978.5 1075.8,977.2 1076.8,976.0 1077.8,974.7 1078.8,973.4 1079.8,972.2 1080.8,971.0 1081.8,969.9 1082.8,968.7 1083.8,967.7 1084.8,966.6 1085.8,965.7 1086.8,964.7 1087.8,963.9 1088.8,963.0 1089.8,962.2 1090.8,961.4 1091.8,960.7 1092.8,959.9 1093.8,959.2 1094.8,958.5 1095.8,957.8 1096.8,957.2 1097.8,956.5 1098.8,955.9 1099.8,955.3 1100.8,954.6 1101.8,954.0 1102.8,953.4 1103.8,952.8 1104.8,952.3 1105.8,951.7 1106.8,951.1 1107.8,950.5 1108.8,949.9 1109.8,949.3 1110.8,948.8 1111.8,948.2 1112.8,947.6 1113.8,947.0 1114.8,946.5 1115.8,945.9 1116.8,945.3 1117.8,944.8 1118.8,944.2 1119.8,943.7 1120.8,943.1 1121.8,942.6 1122.8,942.0 1123.8,941.5 1124.8,941.0 1125.8,940.5 1126.8,939.9 1127.8,939.4 1128.8,938.9 1129.8,938.4 1130.8,937.9 1131.8,937.4 1132.8,937.0 1133.8,936.5 1134.8,936.0 1135.8,935.6 1136.8,935.1 1137.8,934.6 1138.8,934.2 1139.8,933.8 1140.8,933.4 1141.8,933.0 1142.8,932.6 1143.8,932.2 1144.8,931.9 1145.8,931.5 1146.8,931.2 1147.8,930.9 1148.8,930.6 1149.8,930.3 1150.8,930.0 1151.8,929.8 1152.8,929.5 1153.8,929.2 1154.8,929.0 1155.8,928.7 1156.8,928.5 1157.8,928.3 1158.8,928.0 1159.8,927.8 1160.8,927.5 1161.8,927.3 1162.8,927.0 1163.8,926.8 1164.8,926.5 1165.8,926.3 1166.8,926.0 1167.8,925.7 1168.8,925.4 1169.8,925.1 1170.8,924.8 1171.8,924.5 1172.8,924.2 1173.8,923.8 1174.8,923.5 1175.8,923.1 1176.8,922.7 1177.8,922.3 1178.8,921.8 1179.8,921.4 1180.8,920.9 1181.8,920.4 1182.8,919.8 1183.8,919.3 1184.8,918.7 1185.8,918.1 1186.8,917.5 1187.8,916.8 1188.8,916.1 1189.8,915.0 1190.8,913.1 1191.8,912.0 1192.8,911.4 1193.8,910.8 1194.8,910.3 1195.8,909.8 1196.8,909.3 1197.8,908.9 1198.8,908.5 1199.8,908.1 1200.8,907.8 1201.8,907.4 1202.8,907.1 1203.8,906.8 1204.8,906.6 1205.8,906.3 1206.8,906.1 1207.8,905.8 1208.8,905.6 1209.8,905.4 1210.8,905.2 1211.8,905.0 1212.8,904.8 1213.8,904.6 1214.8,904.4 1215.8,904.2 1216.8,904.0 1217.8,903.8 1218.8,903.5 1219.8,903.3 1220.8,903.1 1221.8,902.8 1222.8,902.5 1223.8,902.2 1224.8,901.9 1225.8,901.6 1226.8,901.3 1227.8,900.9 1228.8,900.5 1229.8,900.2 1230.8,899.8 1231.8,899.4 1232.8,899.0 1233.8,898.6 1234.8,898.2 1235.8,897.8 1236.8,897.4 1237.8,897.0 1238.8,896.6 1239.8,896.2 1240.8,895.8 1241.8,895.4 1242.8,895.1 1243.8,894.7 1244.8,894.4 1245.8,894.0 1246.8,893.7 1247.8,893.4 1248.8,893.1 1249.8,892.9 1250.8,892.6 1251.8,892.4 1252.8,892.2 1253.8,892.1 1254.8,891.9 1255.8,891.8 1256.8,891.8 1257.8,891.7 1258.8,891.7 1259.8,891.7 1260.8,891.7 1261.8,891.7 1262.8,891.7 1263.8,891.7 1264.8,891.7 1265.8,891.7 1266.8,891.7 1267.8,891.7 1268.8,891.7 1269.8,891.7 1270.8,891.7 1271.8,891.6 1272.8,891.5 1273.8,891.4 1274.8,891.2 1275.8,891.0 1276.8,890.7 1277.8,890.5 1278.8,890.2 1279.8,889.9 1280.8,889.5 1281.8,889.2 1282.8,888.8 1283.8,888.5 1284.8,888.1 1285.8,887.7 1286.8,887.3 1287.8,886.9 1288.8,886.6 1289.8,886.2 1290.8,885.8 1291.8,885.5 1292.8,885.2 1293.8,884.9 1294.8,884.6 1295.8,884.4 1296.8,884.1 1297.8,883.9 1298.8,883.7 1299.8,883.4 1300.8,883.2 1301.8,883.0 1302.8,882.8 1303.8,882.6 1304.8,882.3 1305.8,882.1 1306.8,881.9 1307.8,881.7 1308.8,881.5 1309.8,881.3 1310.8,881.1 1311.8,880.9 1312.8,880.7 1313.8,880.5 1314.8,880.3 1315.8,880.1 1316.8,879.9 1317.8,879.7 1318.8,879.6 1319.8,879.4 1320.8,879.2 1321.8,879.0 1322.8,878.9 1323.8,878.7 1324.8,878.6 1325.8,878.4 1326.8,878.3 1327.8,878.1 1328.8,878.0 1329.8,877.8 1330.8,877.7 1331.8,877.6 1332.8,877.4 1333.8,877.3 1334.8,877.2 1335.8,877.0 1336.8,876.9 1337.8,876.8 1338.8,876.6 1339.8,876.5 1340.8,876.4 1341.8,876.2 1342.8,876.1 1343.8,876.0 1344.8,875.9 1345.8,875.7 1346.8,875.6 1347.8,875.5 1348.8,875.4 1349.8,875.3 1350.8,875.1 1351.8,875.0 1352.8,874.9 1353.8,874.8 1354.8,874.7 1355.8,874.6 1356.8,874.5 1357.8,874.4 1358.8,874.2 1359.8,874.1 1360.8,874.0 1361.8,873.9 1362.8,873.8 1363.8,873.7 1364.8,873.6 1365.8,873.5 1366.8,873.4 1367.8,873.3 1368.8,873.2 1369.8,873.1 1370.8,873.0 1371.8,872.9 1372.8,872.8 1373.8,872.7 1374.8,872.6 1375.8,872.5 1376.8,872.4 1377.8,872.3 1378.8,872.2 1379.8,872.1 1380.8,872.0 1381.8,871.9 1382.8,871.8 1383.8,871.7 1384.8,871.7 1385.8,871.6 1386.8,871.5 1387.8,871.4 1388.8,871.3 1389.8,871.2 1390.8,871.1 1391.8,871.0 1392.8,870.9 1393.8,870.8 1394.8,870.7 1395.8,870.7 1396.8,870.6 1397.8,870.5 1398.8,870.4 1399.8,870.3 1400.8,870.2 1401.8,870.1 1402.8,870.0 1403.8,869.9 1404.8,869.8 1405.8,869.7 1406.8,869.6 1407.8,869.5 1408.8,869.4 1409.8,869.3 1410.8,869.2 1411.8,869.1 1412.8,869.0 1413.8,868.9 1414.8,868.8 1415.8,868.7 1416.8,868.6 1417.8,868.5 1418.8,868.4 1419.8,868.3 1420.8,868.2 1421.8,868.1 1422.8,868.0 1423.8,867.9 1424.8,867.8 1425.8,867.8 1426.8,867.7 1427.8,867.6 1428.8,867.5 1429.8,867.4 1430.8,867.4 1431.8,867.3 1432.8,867.2 1433.8,867.2 1434.8,867.1 1435.8,867.0 1436.8,867.0 1437.8,866.9 1438.8,866.9 1439.8,866.9 1440.8,866.8 1441.8,866.8 1442.8,866.8 1443.8,866.7 1444.8,866.7 1445.8,866.7 1446.8,866.7 1447.8,866.7 1448.8,866.7 1449.8,866.7 1450.8,866.7 1451.8,866.7 1452.8,866.8 1453.8,866.8 1454.8,866.8 1455.8,866.8 1456.8,866.9 1457.8,866.9 1458.8,867.0 1459.8,867.0 1460.8,867.0 1461.8,867.1 1462.8,867.1 1463.8,867.2 1464.8,867.2 1465.8,867.3 1466.8,867.3 1467.8,867.3 1468.8,867.4 1469.8,867.4 1470.8,867.5 1471.8,867.5 1472.8,867.5 1473.8,867.6 1474.8,867.6 1475.8,867.6 1476.8,867.7 1477.8,867.7 1478.8,867.7 1479.8,867.7 1480.8,867.7 1481.8,867.6 1482.8,866.8 1483.8,865.7 1484.8,864.8 1485.8,864.7 1486.8,864.6 1487.8,864.6 1488.8,864.5 1489.8,864.5 1490.8,864.4 1491.8,864.4 1492.8,864.4 1493.8,864.3 1494.8,864.3 1495.8,864.2 1496.8,864.2 1497.8,864.2 1498.8,864.1 1499.8,864.1 1500.8,864.1 1501.8,864.1 1502.8,864.0 1503.8,864.0 1504.8,864.0 1505.8,864.0 1506.8,863.9 1507.8,863.9 1508.8,863.9 1509.8,863.9 1510.8,863.9 1511.8,863.9 1512.8,863.8 1513.8,863.8 1514.8,863.8 1515.8,863.8 1516.8,863.8 1517.8,863.8 1518.8,863.8 1519.8,863.8 1520.8,863.8 1521.8,863.7 1522.8,863.7 1523.8,863.7 1524.8,863.7 1525.8,863.7 1526.8,863.7 1527.8,863.7 1528.8,863.7 1529.8,863.7 1530.8,863.7 1531.8,863.7 1532.8,863.7 1533.8,863.7 1534.8,863.7 1535.8,863.7 1536.8,863.8 1537.8,865.0 1538.8,865.7 1539.8,865.7 1540.8,865.7 1541.8,865.6 1542.8,865.6 1543.8,865.5 1544.8,865.4 1545.8,865.4 1546.8,865.3 1547.8,865.2 1548.8,865.1 1549.8,865.0 1550.8,864.9 1551.8,864.8 1552.8,864.7 1553.8,864.6 1554.8,864.4 1555.8,864.3 1556.8,864.2 1557.8,864.1 1558.8,864.1 1559.8,864.0 1560.8,863.9 1561.8,863.8 1562.8,863.8 1563.8,863.7 1564.8,863.7 1565.8,863.7 1566.8,863.7 1567.8,863.7 1568.8,863.7 1569.8,863.7 1570.8,863.7 1571.8,863.7 1572.8,863.7 1573.8,863.7 1574.8,863.7 1575.8,863.7 1576.8,863.7 1577.8,863.7 1578.8,863.7 1579.8,863.7 1580.8,863.7 1581.8,863.8 1582.8,863.8 1583.8,863.8 1584.8,863.8 1585.8,863.8 1586.8,863.8 1587.8,863.8 1588.8,863.9 1589.8,863.9 1590.8,863.9 1591.8,863.9 1592.8,864.0 1593.8,864.0 1594.8,864.0 1595.8,864.1 1596.8,864.1 1597.8,864.1 1598.8,864.2 1599.8,864.2 1600.8,864.3 1601.8,864.3 1602.8,864.4 1603.8,864.4 1604.8,864.5 1605.8,864.6 1606.8,864.6 1607.8,864.7 1607.8,893.3 1606.8,893.3 1605.8,893.4 1604.8,893.4 1603.8,893.4 1602.8,893.5 1601.8,893.5 1600.8,893.5 1599.8,893.6 1598.8,893.6 1597.8,893.6 1596.8,893.7 1595.8,893.7 1594.8,893.7 1593.8,893.8 1592.8,893.8 1591.8,893.8 1590.8,893.8 1589.8,893.9 1588.8,893.9 1587.8,893.9 1586.8,894.0 1585.8,894.0 1584.8,894.0 1583.8,894.1 1582.8,894.1 1581.8,894.1 1580.8,894.2 1579.8,894.2 1578.8,894.2 1577.8,894.2 1576.8,894.3 1575.8,894.3 1574.8,894.3 1573.8,894.4 1572.8,894.4 1571.8,894.4 1570.8,894.4 1569.8,894.5 1568.8,894.5 1567.8,894.5 1566.8,894.5 1565.8,894.6 1564.8,894.6 1563.8,894.6 1562.8,894.7 1561.8,894.7 1560.8,894.7 1559.8,894.7 1558.8,894.8 1557.8,894.8 1556.8,894.8 1555.8,894.8 1554.8,894.9 1553.8,894.9 1552.8,894.9 1551.8,894.9 1550.8,895.0 1549.8,895.0 1548.8,895.0 1547.8,895.0 1546.8,895.1 1545.8,895.1 1544.8,895.1 1543.8,895.1 1542.8,895.2 1541.8,895.2 1540.8,895.2 1539.8,895.2 1538.8,895.3 1537.8,895.3 1536.8,895.3 1535.8,895.3 1534.8,895.3 1533.8,895.4 1532.8,895.4 1531.8,895.4 1530.8,895.4 1529.8,895.4 1528.8,895.5 1527.8,895.5 1526.8,895.5 1525.8,895.5 1524.8,895.5 1523.8,895.6 1522.8,895.6 1521.8,895.6 1520.8,895.6 1519.8,895.6 1518.8,895.6 1517.8,895.7 1516.8,895.7 1515.8,895.7 1514.8,895.7 1513.8,895.7 1512.8,895.7 1511.8,895.8 1510.8,895.8 1509.8,895.8 1508.8,895.8 1507.8,895.8 1506.8,895.8 1505.8,895.9 1504.8,895.9 1503.8,895.9 1502.8,895.9 1501.8,895.9 1500.8,896.0 1499.8,896.0 1498.8,896.0 1497.8,896.0 1496.8,896.0 1495.8,896.0 1494.8,896.1 1493.8,896.1 1492.8,896.1 1491.8,896.1 1490.8,896.1 1489.8,896.2 1488.8,896.2 1487.8,896.2 1486.8,896.2 1485.8,896.2 1484.8,896.3 1483.8,896.3 1482.8,896.3 1481.8,896.3 1480.8,896.4 1479.8,896.4 1478.8,896.4 1477.8,896.4 1476.8,896.4 1475.8,896.5 1474.8,896.5 1473.8,896.5 1472.8,896.5 1471.8,896.6 1470.8,896.6 1469.8,896.6 1468.8,896.6 1467.8,896.7 1466.8,896.7 1465.8,896.7 1464.8,896.7 1463.8,896.8 1462.8,896.8 1461.8,896.8 1460.8,896.8 1459.8,896.9 1458.8,896.9 1457.8,896.9 1456.8,897.0 1455.8,897.0 1454.8,897.0 1453.8,897.1 1452.8,897.1 1451.8,897.1 1450.8,897.2 1449.8,897.2 1448.8,897.3 1447.8,897.3 1446.8,897.3 1445.8,897.4 1444.8,897.4 1443.8,897.5 1442.8,897.5 1441.8,897.6 1440.8,897.7 1439.8,897.7 1438.8,897.8 1437.8,897.8 1436.8,897.9 1435.8,898.0 1434.8,898.1 1433.8,898.1 1432.8,898.2 1431.8,898.3 1430.8,898.4 1429.8,898.4 1428.8,898.5 1427.8,898.6 1426.8,898.7 1425.8,898.8 1424.8,898.9 1423.8,899.0 1422.8,899.1 1421.8,899.1 1420.8,899.2 1419.8,899.3 1418.8,899.4 1417.8,899.5 1416.8,899.6 1415.8,899.7 1414.8,899.8 1413.8,899.9 1412.8,900.0 1411.8,900.1 1410.8,900.2 1409.8,900.4 1408.8,900.5 1407.8,900.6 1406.8,900.7 1405.8,900.8 1404.8,900.9 1403.8,901.0 1402.8,901.1 1401.8,901.2 1400.8,901.3 1399.8,901.4 1398.8,901.5 1397.8,901.6 1396.8,901.8 1395.8,901.9 1394.8,902.0 1393.8,902.1 1392.8,902.2 1391.8,902.3 1390.8,902.4 1389.8,902.5 1388.8,902.7 1387.8,902.8 1386.8,902.9 1385.8,903.0 1384.8,903.1 1383.8,903.3 1382.8,903.4 1381.8,903.5 1380.8,903.6 1379.8,903.8 1378.8,903.9 1377.8,904.0 1376.8,904.2 1375.8,904.3 1374.8,904.4 1373.8,904.6 1372.8,904.7 1371.8,904.8 1370.8,905.0 1369.8,905.1 1368.8,905.3 1367.8,905.4 1366.8,905.5 1365.8,905.7 1364.8,905.8 1363.8,906.0 1362.8,906.1 1361.8,906.3 1360.8,906.4 1359.8,906.6 1358.8,906.7 1357.8,906.9 1356.8,907.0 1355.8,907.2 1354.8,907.3 1353.8,907.5 1352.8,907.6 1351.8,907.8 1350.8,908.0 1349.8,908.1 1348.8,908.3 1347.8,908.4 1346.8,908.6 1345.8,908.8 1344.8,908.9 1343.8,909.1 1342.8,909.3 1341.8,909.4 1340.8,909.6 1339.8,909.8 1338.8,909.9 1337.8,910.1 1336.8,910.3 1335.8,910.4 1334.8,910.6 1333.8,910.8 1332.8,911.0 1331.8,911.1 1330.8,911.3 1329.8,911.5 1328.8,911.7 1327.8,911.9 1326.8,912.0 1325.8,912.2 1324.8,912.4 1323.8,912.6 1322.8,912.8 1321.8,913.0 1320.8,913.1 1319.8,913.3 1318.8,913.5 1317.8,913.7 1316.8,913.9 1315.8,914.1 1314.8,914.4 1313.8,914.6 1312.8,914.8 1311.8,915.0 1310.8,915.2 1309.8,915.4 1308.8,915.6 1307.8,915.9 1306.8,916.1 1305.8,916.3 1304.8,916.5 1303.8,916.8 1302.8,917.0 1301.8,917.2 1300.8,917.5 1299.8,917.7 1298.8,917.9 1297.8,918.2 1296.8,918.4 1295.8,918.6 1294.8,918.9 1293.8,919.1 1292.8,919.4 1291.8,919.6 1290.8,919.8 1289.8,920.1 1288.8,920.3 1287.8,920.6 1286.8,920.8 1285.8,921.1 1284.8,921.3 1283.8,921.6 1282.8,921.8 1281.8,922.0 1280.8,922.3 1279.8,922.5 1278.8,922.8 1277.8,923.0 1276.8,923.3 1275.8,923.5 1274.8,923.7 1273.8,924.0 1272.8,924.2 1271.8,924.5 1270.8,924.7 1269.8,924.9 1268.8,925.2 1267.8,925.4 1266.8,925.7 1265.8,925.9 1264.8,926.1 1263.8,926.4 1262.8,926.6 1261.8,926.9 1260.8,927.1 1259.8,927.4 1258.8,927.6 1257.8,927.9 1256.8,928.2 1255.8,928.5 1254.8,928.8 1253.8,929.0 1252.8,929.3 1251.8,929.6 1250.8,929.9 1249.8,930.2 1248.8,930.5 1247.8,930.8 1246.8,931.1 1245.8,931.5 1244.8,931.8 1243.8,932.1 1242.8,932.4 1241.8,932.7 1240.8,933.0 1239.8,933.4 1238.8,933.7 1237.8,934.0 1236.8,934.4 1235.8,934.7 1234.8,935.0 1233.8,935.4 1232.8,935.7 1231.8,936.1 1230.8,936.4 1229.8,936.7 1228.8,937.1 1227.8,937.4 1226.8,937.8 1225.8,938.1 1224.8,938.5 1223.8,938.8 1222.8,939.2 1221.8,939.5 1220.8,939.9 1219.8,940.3 1218.8,940.6 1217.8,941.0 1216.8,941.4 1215.8,941.7 1214.8,942.1 1213.8,942.5 1212.8,942.9 1211.8,943.3 1210.8,943.7 1209.8,944.0 1208.8,944.4 1207.8,944.8 1206.8,945.2 1205.8,945.6 1204.8,946.0 1203.8,946.4 1202.8,946.8 1201.8,947.2 1200.8,947.6 1199.8,948.0 1198.8,948.4 1197.8,948.8 1196.8,949.3 1195.8,949.7 1194.8,950.1 1193.8,950.5 1192.8,950.9 1191.8,951.3 1190.8,951.7 1189.8,952.1 1188.8,952.6 1187.8,953.0 1186.8,953.4 1185.8,953.8 1184.8,954.2 1183.8,954.7 1182.8,955.1 1181.8,955.5 1180.8,955.9 1179.8,956.3 1178.8,956.8 1177.8,957.2 1176.8,957.6 1175.8,958.0 1174.8,958.5 1173.8,958.9 1172.8,959.3 1171.8,959.8 1170.8,960.2 1169.8,960.6 1168.8,961.1 1167.8,961.5 1166.8,962.0 1165.8,962.4 1164.8,962.8 1163.8,963.3 1162.8,963.7 1161.8,964.2 1160.8,964.6 1159.8,965.1 1158.8,965.5 1157.8,966.0 1156.8,966.5 1155.8,966.9 1154.8,967.4 1153.8,967.9 1152.8,968.3 1151.8,968.8 1150.8,969.3 1149.8,969.7 1148.8,970.2 1147.8,970.7 1146.8,971.2 1145.8,971.7 1144.8,972.2 1143.8,972.7 1142.8,973.2 1141.8,973.6 1140.8,974.1 1139.8,974.7 1138.8,975.2 1137.8,975.7 1136.8,976.2 1135.8,976.7 1134.8,977.2 1133.8,977.7 1132.8,978.2 1131.8,978.7 1130.8,979.2 1129.8,979.8 1128.8,980.3 1127.8,980.8 1126.8,981.4 1125.8,981.9 1124.8,982.5 1123.8,983.0 1122.8,983.6 1121.8,984.1 1120.8,984.7 1119.8,985.3 1118.8,985.9 1117.8,986.5 1116.8,987.1 1115.8,987.7 1114.8,988.3 1113.8,988.9 1112.8,989.6 1111.8,990.2 1110.8,990.9 1109.8,991.5 1108.8,992.2 1107.8,992.9 1106.8,993.6 1105.8,994.3 1104.8,995.1 1103.8,995.8 1102.8,996.6 1101.8,997.3 1100.8,998.1 1099.8,998.9 1098.8,999.7 1097.8,1000.6 1096.8,1001.4 1095.8,1002.3 1094.8,1003.1 1093.8,1004.0 1092.8,1004.9 1091.8,1005.8 1090.8,1006.7 1089.8,1007.6 1088.8,1008.6 1087.8,1009.5 1086.8,1010.5 1085.8,1011.5 1084.8,1012.5 1083.8,1013.5 1082.8,1014.6 1081.8,1015.7 1080.8,1016.8 1079.8,1018.0 1078.8,1019.1 1077.8,1020.3 1076.8,1021.5 1075.8,1022.7 1074.8,1023.9 1073.8,1025.1 1072.8,1026.3 1071.8,1027.6 1070.8,1028.8 1069.8,1030.0 1068.8,1031.3 1067.8,1032.5 1066.8,1033.7 1065.8,1035.0 1064.8,1036.3 1063.8,1037.6 1062.8,1038.9 1061.8,1040.2 1060.8,1041.5 1059.8,1042.9 1058.8,1044.2 1057.8,1045.6 1056.8,1046.9 1055.8,1048.2 1054.8,1049.5 1053.8,1050.8 1052.8,1052.0 1051.8,1053.2 1050.8,1054.4 1049.8,1055.5 1048.8,1056.5 1047.8,1057.5 1046.8,1058.6 1045.8,1059.6 1044.8,1060.7 1043.8,1061.8 1042.8,1063.0 1041.8,1064.3 1040.8,1065.7 1039.8,1067.2 1038.8,1068.9 1037.8,1070.8 1036.8,1072.9 1035.8,1075.4 1034.8,1078.0 1033.8,1080.8 1032.8,1083.8 1031.8,1086.8 1030.8,1089.9 1029.8,1093.1 1028.8,1096.3 1027.8,1099.7 1026.8,1103.4 1025.8,1107.3 1024.8,1111.3 1023.8,1115.5 1022.8,1119.6 1021.8,1123.7 1020.8,1127.6 1019.8,1131.3 1018.8,1134.7 1017.8,1137.8 1016.8,1140.6 1015.8,1143.3 1014.8,1145.9 1013.8,1148.4 1012.8,1150.7 1011.8,1153.0 1010.8,1155.3 1009.8,1157.5 1008.8,1159.6 1007.8,1161.7 1006.8,1163.8 1005.8,1165.9 1004.8,1167.9 1003.8,1169.9 1002.8,1171.8 1001.8,1173.7 1000.8,1175.5 999.8,1177.3 998.8,1179.1 997.8,1180.8 996.8,1182.4" fill="#f85e5e" fill-opacity="0.65" stroke="none"/>
<polyline points="996.8,1136.1 997.8,1133.6 998.8,1131.2 999.8,1128.8 1000.8,1126.6 1001.8,1124.5 1002.8,1122.5 1003.8,1120.6 1004.8,1118.9 1005.8,1117.5 1006.8,1116.1 1007.8,1114.8 1008.8,1113.6 1009.8,1112.2 1010.8,1110.7 1011.8,1109.0 1012.8,1106.9 1013.8,1104.5 1014.8,1101.8 1015.8,1098.7 1016.8,1095.4 1017.8,1092.0 1018.8,1088.5 1019.8,1085.0 1020.8,1081.5 1021.8,1078.1 1022.8,1074.8 1023.8,1071.4 1024.8,1067.9 1025.8,1064.4 1026.8,1060.9 1027.8,1057.5 1028.8,1054.2 1029.8,1051.0 1030.8,1048.1 1031.8,1045.3 1032.8,1042.5 1033.8,1039.7 1034.8,1036.9 1035.8,1034.3 1036.8,1031.9 1037.8,1029.6 1038.8,1027.6 1039.8,1025.9 1040.8,1024.4 1041.8,1023.1 1042.8,1022.0 1043.8,1021.0 1044.8,1020.1 1045.8,1019.2 1046.8,1018.4 1047.8,1017.6 1048.8,1016.8 1049.8,1016.0 1050.8,1015.1 1051.8,1014.2 1052.8,1013.1 1053.8,1011.9 1054.8,1010.5 1055.8,1008.8 1056.8,1006.8 1057.8,1004.7 1058.8,1002.6 1059.8,1000.6 1060.8,998.9 1061.8,997.3 1062.8,995.7 1063.8,994.1 1064.8,992.5 1065.8,991.0 1066.8,989.5 1067.8,988.0 1068.8,986.6 1069.8,985.2 1070.8,983.8 1071.8,982.5 1072.8,981.2 1073.8,979.9 1074.8,978.5 1075.8,977.2 1076.8,976.0 1077.8,974.7 1078.8,973.4 1079.8,972.2 1080.8,971.0 1081.8,969.9 1082.8,968.7 1083.8,967.7 1084.8,966.6 1085.8,965.7 1086.8,964.7 1087.8,963.9 1088.8,963.0 1089.8,962.2 1090.8,961.4 1091.8,960.7 1092.8,959.9 1093.8,959.2 1094.8,958.5 1095.8,957.8 1096.8,957.2 1097.8,956.5 1098.8,955.9 1099.8,955.3 1100.8,954.6 1101.8,954.0 1102.8,953.4 1103.8,952.8 1104.8,952.3 1105.8,951.7 1106.8,951.1 1107.8,950.5 1108.8,949.9 1109.8,949.3 1110.8,948.8 1111.8,948.2 1112.8,947.6 1113.8,947.0 1114.8,946.5 1115.8,945.9 1116.8,945.3 1117.8,944.8 1118.8,944.2 1119.8,943.7 1120.8,943.1 1121.8,942.6 1122.8,942.0 1123.8,941.5 1124.8,941.0 1125.8,940.5 1126.8,939.9 1127.8,939.4 1128.8,938.9 1129.8,938.4 1130.8,937.9 1131.8,937.4 1132.8,937.0 1133.8,936.5 1134.8,936.0 1135.8,935.6 1136.8,935.1 1137.8,934.6 1138.8,934.2 1139.8,933.8 1140.8,933.4 1141.8,933.0 1142.8,932.6 1143.8,932.2 1144.8,931.9 1145.8,931.5 1146.8,931.2 1147.8,930.9 1148.8,930.6 1149.8,930.3 1150.8,930.0 1151.8,929.8 1152.8,929.5 1153.8,929.2 1154.8,929.0 1155.8,928.7 1156.8,928.5 1157.8,928.3 1158.8,928.0 1159.8,927.8 1160.8,927.5 1161.8,927.3 1162.8,927.0 1163.8,926.8 1164.8,926.5 1165.8,926.3 1166.8,926.0 1167.8,925.7 1168.8,925.4 1169.8,925.1 1170.8,924.8 1171.8,924.5 1172.8,924.2 1173.8,923.8 1174.8,923.5 1175.8,923.1 1176.8,922.7 1177.8,922.3 1178.8,921.8 1179.8,921.4 1180.8,920.9 1181.8,920.4 1182.8,919.8 1183.8,919.3 1184.8,918.7 1185.8,918.1 1186.8,917.5 1187.8,916.8 1188.8,916.1 1189.8,915.0 1190.8,913.1 1191.8,912.0 1192.8,911.4 1193.8,910.8 1194.8,910.3 1195.8,909.8 1196.8,909.3 1197.8,908.9 1198.8,908.5 1199.8,908.1 1200.8,907.8 1201.8,907.4 1202.8,907.1 1203.8,906.8 1204.8,906.6 1205.8,906.3 1206.8,906.1 1207.8,905.8 1208.8,905.6 1209.8,905.4 1210.8,905.2 1211.8,905.0 1212.8,904.8 1213.8,904.6 1214.8,904.4 1215.8,904.2 1216.8,904.0 1217.8,903.8 1218.8,903.5 1219.8,903.3 1220.8,903.1 1221.8,902.8 1222.8,902.5 1223.8,902.2 1224.8,901.9 1225.8,901.6 1226.8,901.3 1227.8,900.9 1228.8,900.5 1229.8,900.2 1230.8,899.8 1231.8,899.4 1232.8,899.0 1233.8,898.6 1234.8,898.2 1235.8,897.8 1236.8,897.4 1237.8,897.0 1238.8,896.6 1239.8,896.2 1240.8,895.8 1241.8,895.4 1242.8,895.1 1243.8,894.7 1244.8,894.4 1245.8,894.0 1246.8,893.7 1247.8,893.4 1248.8,893.1 1249.8,892.9 1250.8,892.6 1251.8,892.4 1252.8,892.2 1253.8,892.1 1254.8,891.9 1255.8,891.8 1256.8,891.8 1257.8,891.7 1258.8,891.7 1259.8,891.7 1260.8,891.7 1261.8,891.7 1262.8,891.7 1263.8,891.7 1264.8,891.7 1265.8,891.7 1266.8,891.7 1267.8,891.7 1268.8,891.7 1269.8,891.7 1270.8,891.7 1271.8,891.6 1272.8,891.5 1273.8,891.4 1274.8,891.2 1275.8,891.0 1276.8,890.7 1277.8,890.5 1278.8,890.2 1279.8,889.9 1280.8,889.5 1281.8,889.2 1282.8,888.8 1283.8,888.5 1284.8,888.1 1285.8,887.7 1286.8,887.3 1287.8,886.9 1288.8,886.6 1289.8,886.2 1290.8,885.8 1291.8,885.5 1292.8,885.2 1293.8,884.9 1294.8,884.6 1295.8,884.4 1296.8,884.1 1297.8,883.9 1298.8,883.7 1299.8,883.4 1300.8,883.2 1301.8,883.0 1302.8,882.8 1303.8,882.6 1304.8,882.3 1305.8,882.1 1306.8,881.9 1307.8,881.7 1308.8,881.5 1309.8,881.3 1310.8,881.1 1311.8,880.9 1312.8,880.7 1313.8,880.5 1314.8,880.3 1315.8,880.1 1316.8,879.9 1317.8,879.7 1318.8,879.6 1319.8,879.4 1320.8,879.2 1321.8,879.0 1322.8,878.9 1323.8,878.7 1324.8,878.6 1325.8,878.4 1326.8,878.3 1327.8,878.1 1328.8,878.0 1329.8,877.8 1330.8,877.7 1331.8,877.6 1332.8,877.4 1333.8,877.3 1334.8,877.2 1335.8,877.0 1336.8,876.9 1337.8,876.8 1338.8,876.6 1339.8,876.5 1340.8,876.4 1341.8,876.2 1342.8,876.1 1343.8,876.0 1344.8,875.9 1345.8,875.7 1346.8,875.6 1347.8,875.5 1348.8,875.4 1349.8,875.3 1350.8,875.1 1351.8,875.0 1352.8,874.9 1353.8,874.8 1354.8,874.7 1355.8,874.6 1356.8,874.5 1357.8,874.4 1358.8,874.2 1359.8,874.1 1360.8,874.0 1361.8,873.9 1362.8,873.8 1363.8,873.7 1364.8,873.6 1365.8,873.5 1366.8,873.4 1367.8,873.3 1368.8,873.2 1369.8,873.1 1370.8,873.0 1371.8,872.9 1372.8,872.8 1373.8,872.7 1374.8,872.6 1375.8,872.5 1376.8,872.4 1377.8,872.3 1378.8,872.2 1379.8,872.1 1380.8,872.0 1381.8,871.9 1382.8,871.8 1383.8,871.7 1384.8,871.7 1385.8,871.6 1386.8,871.5 1387.8,871.4 1388.8,871.3 1389.8,871.2 1390.8,871.1 1391.8,871.0 1392.8,870.9 1393.8,870.8 1394.8,870.7 1395.8,870.7 1396.8,870.6 1397.8,870.5 1398.8,870.4 1399.8,870.3 1400.8,870.2 1401.8,870.1 1402.8,870.0 1403.8,869.9 1404.8,869.8 1405.8,869.7 1406.8,869.6 1407.8,869.5 1408.8,869.4 1409.8,869.3 1410.8,869.2 1411.8,869.1 1412.8,869.0 1413.8,868.9 1414.8,868.8 1415.8,868.7 1416.8,868.6 1417.8,868.5 1418.8,868.4 1419.8,868.3 1420.8,868.2 1421.8,868.1 1422.8,868.0 1423.8,867.9 1424.8,867.8 1425.8,867.8 1426.8,867.7 1427.8,867.6 1428.8,867.5 1429.8,867.4 1430.8,867.4 1431.8,867.3 1432.8,867.2 1433.8,867.2 1434.8,867.1 1435.8,867.0 1436.8,867.0 1437.8,866.9 1438.8,866.9 1439.8,866.9 1440.8,866.8 1441.8,866.8 1442.8,866.8 1443.8,866.7 1444.8,866.7 1445.8,866.7 1446.8,866.7 1447.8,866.7 1448.8,866.7 1449.8,866.7 1450.8,866.7 1451.8,866.7 1452.8,866.8 1453.8,866.8 1454.8,866.8 1455.8,866.8 1456.8,866.9 1457.8,866.9 1458.8,867.0 1459.8,867.0 1460.8,867.0 1461.8,867.1 1462.8,867.1 1463.8,867.2 1464.8,867.2 1465.8,867.3 1466.8,867.3 1467.8,867.3 1468.8,867.4 1469.8,867.4 1470.8,867.5 1471.8,867.5 1472.8,867.5 1473.8,867.6 1474.8,867.6 1475.8,867.6 1476.8,867.7 1477.8,867.7 1478.8,867.7 1479.8,867.7 1480.8,867.7 1481.8,867.6 1482.8,866.8 1483.8,865.7 1484.8,864.8 1485.8,864.7 1486.8,864.6 1487.8,864.6 1488.8,864.5 1489.8,864.5 1490.8,864.4 1491.8,864.4 1492.8,864.4 1493.8,864.3 1494.8,864.3 1495.8,864.2 1496.8,864.2 1497.8,864.2 1498.8,864.1 1499.8,864.1 1500.8,864.1 1501.8,864.1 1502.8,864.0 1503.8,864.0 1504.8,864.0 1505.8,864.0 1506.8,863.9 1507.8,863.9 1508.8,863.9 1509.8,863.9 1510.8,863.9 1511.8,863.9 1512.8,863.8 1513.8,863.8 1514.8,863.8 1515.8,863.8 1516.8,863.8 1517.8,863.8 1518.8,863.8 1519.8,863.8 1520.8,863.8 1521.8,863.7 1522.8,863.7 1523.8,863.7 1524.8,863.7 1525.8,863.7 1526.8,863.7 1527.8,863.7 1528.8,863.7 1529.8,863.7 1530.8,863.7 1531.8,863.7 1532.8,863.7 1533.8,863.7 1534.8,863.7 1535.8,863.7 1536.8,863.8 1537.8,865.0 1538.8,865.7 1539.8,865.7 1540.8,865.7 1541.8,865.6 1542.8,865.6 1543.8,865.5 1544.8,865.4 1545.8,865.4 1546.8,865.3 1547.8,865.2 1548.8,865.1 1549.8,865.0 1550.8,864.9 1551.8,864.8 1552.8,864.7 1553.8,864.6 1554.8,864.4 1555.8,864.3 1556.8,864.2 1557.8,864.1 1558.8,864.1 1559.8,864.0 1560.8,863.9 1561.8,863.8 1562.8,863.8 1563.8,863.7 1564.8,863.7 1565.8,863.7 1566.8,863.7 1567.8,863.7 1568.8,863.7 1569.8,863.7 1570.8,863.7 1571.8,863.7 1572.8,863.7 1573.8,863.7 1574.8,863.7 1575.8,863.7 1576.8,863.7 1577.8,863.7 1578.8,863.7 1579.8,863.7 1580.8,863.7 1581.8,863.8 1582.8,863.8 1583.8,863.8 1584.8,863.8 1585.8,863.8 1586.8,863.8 1587.8,863.8 1588.8,863.9 1589.8,863.9 1590.8,863.9 1591.8,863.9 1592.8,864.0 1593.8,864.0 1594.8,864.0 1595.8,864.1 1596.8,864.1 1597.8,864.1 1598.8,864.2 1599.8,864.2 1600.8,864.3 1601.8,864.3 1602.8,864.4 1603.8,864.4 1604.8,864.5 1605.8,864.6 1606.8,864.6 1607.8,864.7" fill="none" stroke="#ec6a6a" stroke-width="3.4" stroke-linejoin="round" stroke-linecap="round"/>
<polyline points="996.8,1182.4 997.8,1180.8 998.8,1179.1 999.8,1177.3 1000.8,1175.5 1001.8,1173.7 1002.8,1171.8 1003.8,1169.9 1004.8,1167.9 1005.8,1165.9 1006.8,1163.8 1007.8,1161.7 1008.8,1159.6 1009.8,1157.5 1010.8,1155.3 1011.8,1153.0 1012.8,1150.7 1013.8,1148.4 1014.8,1145.9 1015.8,1143.3 1016.8,1140.6 1017.8,1137.8 1018.8,1134.7 1019.8,1131.3 1020.8,1127.6 1021.8,1123.7 1022.8,1119.6 1023.8,1115.5 1024.8,1111.3 1025.8,1107.3 1026.8,1103.4 1027.8,1099.7 1028.8,1096.3 1029.8,1093.1 1030.8,1089.9 1031.8,1086.8 1032.8,1083.8 1033.8,1080.8 1034.8,1078.0 1035.8,1075.4 1036.8,1072.9 1037.8,1070.8 1038.8,1068.9 1039.8,1067.2 1040.8,1065.7 1041.8,1064.3 1042.8,1063.0 1043.8,1061.8 1044.8,1060.7 1045.8,1059.6 1046.8,1058.6 1047.8,1057.5 1048.8,1056.5 1049.8,1055.5 1050.8,1054.4 1051.8,1053.2 1052.8,1052.0 1053.8,1050.8 1054.8,1049.5 1055.8,1048.2 1056.8,1046.9 1057.8,1045.6 1058.8,1044.2 1059.8,1042.9 1060.8,1041.5 1061.8,1040.2 1062.8,1038.9 1063.8,1037.6 1064.8,1036.3 1065.8,1035.0 1066.8,1033.7 1067.8,1032.5 1068.8,1031.3 1069.8,1030.0 1070.8,1028.8 1071.8,1027.6 1072.8,1026.3 1073.8,1025.1 1074.8,1023.9 1075.8,1022.7 1076.8,1021.5 1077.8,1020.3 1078.8,1019.1 1079.8,1018.0 1080.8,1016.8 1081.8,1015.7 1082.8,1014.6 1083.8,1013.5 1084.8,1012.5 1085.8,1011.5 1086.8,1010.5 1087.8,1009.5 1088.8,1008.6 1089.8,1007.6 1090.8,1006.7 1091.8,1005.8 1092.8,1004.9 1093.8,1004.0 1094.8,1003.1 1095.8,1002.3 1096.8,1001.4 1097.8,1000.6 1098.8,999.7 1099.8,998.9 1100.8,998.1 1101.8,997.3 1102.8,996.6 1103.8,995.8 1104.8,995.1 1105.8,994.3 1106.8,993.6 1107.8,992.9 1108.8,992.2 1109.8,991.5 1110.8,990.9 1111.8,990.2 1112.8,989.6 1113.8,988.9 1114.8,988.3 1115.8,987.7 1116.8,987.1 1117.8,986.5 1118.8,985.9 1119.8,985.3 1120.8,984.7 1121.8,984.1 1122.8,983.6 1123.8,983.0 1124.8,982.5 1125.8,981.9 1126.8,981.4 1127.8,980.8 1128.8,980.3 1129.8,979.8 1130.8,979.2 1131.8,978.7 1132.8,978.2 1133.8,977.7 1134.8,977.2 1135.8,976.7 1136.8,976.2 1137.8,975.7 1138.8,975.2 1139.8,974.7 1140.8,974.1 1141.8,973.6 1142.8,973.2 1143.8,972.7 1144.8,972.2 1145.8,971.7 1146.8,971.2 1147.8,970.7 1148.8,970.2 1149.8,969.7 1150.8,969.3 1151.8,968.8 1152.8,968.3 1153.8,967.9 1154.8,967.4 1155.8,966.9 1156.8,966.5 1157.8,966.0 1158.8,965.5 1159.8,965.1 1160.8,964.6 1161.8,964.2 1162.8,963.7 1163.8,963.3 1164.8,962.8 1165.8,962.4 1166.8,962.0 1167.8,961.5 1168.8,961.1 1169.8,960.6 1170.8,960.2 1171.8,959.8 1172.8,959.3 1173.8,958.9 1174.8,958.5 1175.8,958.0 1176.8,957.6 1177.8,957.2 1178.8,956.8 1179.8,956.3 1180.8,955.9 1181.8,955.5 1182.8,955.1 1183.8,954.7 1184.8,954.2 1185.8,953.8 1186.8,953.4 1187.8,953.0 1188.8,952.6 1189.8,952.1 1190.8,951.7 1191.8,951.3 1192.8,950.9 1193.8,950.5 1194.8,950.1 1195.8,949.7 1196.8,949.3 1197.8,948.8 1198.8,948.4 1199.8,948.0 1200.8,947.6 1201.8,947.2 1202.8,946.8 1203.8,946.4 1204.8,946.0 1205.8,945.6 1206.8,945.2 1207.8,944.8 1208.8,944.4 1209.8,944.0 1210.8,943.7 1211.8,943.3 1212.8,942.9 1213.8,942.5 1214.8,942.1 1215.8,941.7 1216.8,941.4 1217.8,941.0 1218.8,940.6 1219.8,940.3 1220.8,939.9 1221.8,939.5 1222.8,939.2 1223.8,938.8 1224.8,938.5 1225.8,938.1 1226.8,937.8 1227.8,937.4 1228.8,937.1 1229.8,936.7 1230.8,936.4 1231.8,936.1 1232.8,935.7 1233.8,935.4 1234.8,935.0 1235.8,934.7 1236.8,934.4 1237.8,934.0 1238.8,933.7 1239.8,933.4 1240.8,933.0 1241.8,932.7 1242.8,932.4 1243.8,932.1 1244.8,931.8 1245.8,931.5 1246.8,931.1 1247.8,930.8 1248.8,930.5 1249.8,930.2 1250.8,929.9 1251.8,929.6 1252.8,929.3 1253.8,929.0 1254.8,928.8 1255.8,928.5 1256.8,928.2 1257.8,927.9 1258.8,927.6 1259.8,927.4 1260.8,927.1 1261.8,926.9 1262.8,926.6 1263.8,926.4 1264.8,926.1 1265.8,925.9 1266.8,925.7 1267.8,925.4 1268.8,925.2 1269.8,924.9 1270.8,924.7 1271.8,924.5 1272.8,924.2 1273.8,924.0 1274.8,923.7 1275.8,923.5 1276.8,923.3 1277.8,923.0 1278.8,922.8 1279.8,922.5 1280.8,922.3 1281.8,922.0 1282.8,921.8 1283.8,921.6 1284.8,921.3 1285.8,921.1 1286.8,920.8 1287.8,920.6 1288.8,920.3 1289.8,920.1 1290.8,919.8 1291.8,919.6 1292.8,919.4 1293.8,919.1 1294.8,918.9 1295.8,918.6 1296.8,918.4 1297.8,918.2 1298.8,917.9 1299.8,917.7 1300.8,917.5 1301.8,917.2 1302.8,917.0 1303.8,916.8 1304.8,916.5 1305.8,916.3 1306.8,916.1 1307.8,915.9 1308.8,915.6 1309.8,915.4 1310.8,915.2 1311.8,915.0 1312.8,914.8 1313.8,914.6 1314.8,914.4 1315.8,914.1 1316.8,913.9 1317.8,913.7 1318.8,913.5 1319.8,913.3 1320.8,913.1 1321.8,913.0 1322.8,912.8 1323.8,912.6 1324.8,912.4 1325.8,912.2 1326.8,912.0 1327.8,911.9 1328.8,911.7 1329.8,911.5 1330.8,911.3 1331.8,911.1 1332.8,911.0 1333.8,910.8 1334.8,910.6 1335.8,910.4 1336.8,910.3 1337.8,910.1 1338.8,909.9 1339.8,909.8 1340.8,909.6 1341.8,909.4 1342.8,909.3 1343.8,909.1 1344.8,908.9 1345.8,908.8 1346.8,908.6 1347.8,908.4 1348.8,908.3 1349.8,908.1 1350.8,908.0 1351.8,907.8 1352.8,907.6 1353.8,907.5 1354.8,907.3 1355.8,907.2 1356.8,907.0 1357.8,906.9 1358.8,906.7 1359.8,906.6 1360.8,906.4 1361.8,906.3 1362.8,906.1 1363.8,906.0 1364.8,905.8 1365.8,905.7 1366.8,905.5 1367.8,905.4 1368.8,905.3 1369.8,905.1 1370.8,905.0 1371.8,904.8 1372.8,904.7 1373.8,904.6 1374.8,904.4 1375.8,904.3 1376.8,904.2 1377.8,904.0 1378.8,903.9 1379.8,903.8 1380.8,903.6 1381.8,903.5 1382.8,903.4 1383.8,903.3 1384.8,903.1 1385.8,903.0 1386.8,902.9 1387.8,902.8 1388.8,902.7 1389.8,902.5 1390.8,902.4 1391.8,902.3 1392.8,902.2 1393.8,902.1 1394.8,902.0 1395.8,901.9 1396.8,901.8 1397.8,901.6 1398.8,901.5 1399.8,901.4 1400.8,901.3 1401.8,901.2 1402.8,901.1 1403.8,901.0 1404.8,900.9 1405.8,900.8 1406.8,900.7 1407.8,900.6 1408.8,900.5 1409.8,900.4 1410.8,900.2 1411.8,900.1 1412.8,900.0 1413.8,899.9 1414.8,899.8 1415.8,899.7 1416.8,899.6 1417.8,899.5 1418.8,899.4 1419.8,899.3 1420.8,899.2 1421.8,899.1 1422.8,899.1 1423.8,899.0 1424.8,898.9 1425.8,898.8 1426.8,898.7 1427.8,898.6 1428.8,898.5 1429.8,898.4 1430.8,898.4 1431.8,898.3 1432.8,898.2 1433.8,898.1 1434.8,898.1 1435.8,898.0 1436.8,897.9 1437.8,897.8 1438.8,897.8 1439.8,897.7 1440.8,897.7 1441.8,897.6 1442.8,897.5 1443.8,897.5 1444.8,897.4 1445.8,897.4 1446.8,897.3 1447.8,897.3 1448.8,897.3 1449.8,897.2 1450.8,897.2 1451.8,897.1 1452.8,897.1 1453.8,897.1 1454.8,897.0 1455.8,897.0 1456.8,897.0 1457.8,896.9 1458.8,896.9 1459.8,896.9 1460.8,896.8 1461.8,896.8 1462.8,896.8 1463.8,896.8 1464.8,896.7 1465.8,896.7 1466.8,896.7 1467.8,896.7 1468.8,896.6 1469.8,896.6 1470.8,896.6 1471.8,896.6 1472.8,896.5 1473.8,896.5 1474.8,896.5 1475.8,896.5 1476.8,896.4 1477.8,896.4 1478.8,896.4 1479.8,896.4 1480.8,896.4 1481.8,896.3 1482.8,896.3 1483.8,896.3 1484.8,896.3 1485.8,896.2 1486.8,896.2 1487.8,896.2 1488.8,896.2 1489.8,896.2 1490.8,896.1 1491.8,896.1 1492.8,896.1 1493.8,896.1 1494.8,896.1 1495.8,896.0 1496.8,896.0 1497.8,896.0 1498.8,896.0 1499.8,896.0 1500.8,896.0 1501.8,895.9 1502.8,895.9 1503.8,895.9 1504.8,895.9 1505.8,895.9 1506.8,895.8 1507.8,895.8 1508.8,895.8 1509.8,895.8 1510.8,895.8 1511.8,895.8 1512.8,895.7 1513.8,895.7 1514.8,895.7 1515.8,895.7 1516.8,895.7 1517.8,895.7 1518.8,895.6 1519.8,895.6 1520.8,895.6 1521.8,895.6 1522.8,895.6 1523.8,895.6 1524.8,895.5 1525.8,895.5 1526.8,895.5 1527.8,895.5 1528.8,895.5 1529.8,895.4 1530.8,895.4 1531.8,895.4 1532.8,895.4 1533.8,895.4 1534.8,895.3 1535.8,895.3 1536.8,895.3 1537.8,895.3 1538.8,895.3 1539.8,895.2 1540.8,895.2 1541.8,895.2 1542.8,895.2 1543.8,895.1 1544.8,895.1 1545.8,895.1 1546.8,895.1 1547.8,895.0 1548.8,895.0 1549.8,895.0 1550.8,895.0 1551.8,894.9 1552.8,894.9 1553.8,894.9 1554.8,894.9 1555.8,894.8 1556.8,894.8 1557.8,894.8 1558.8,894.8 1559.8,894.7 1560.8,894.7 1561.8,894.7 1562.8,894.7 1563.8,894.6 1564.8,894.6 1565.8,894.6 1566.8,894.5 1567.8,894.5 1568.8,894.5 1569.8,894.5 1570.8,894.4 1571.8,894.4 1572.8,894.4 1573.8,894.4 1574.8,894.3 1575.8,894.3 1576.8,894.3 1577.8,894.2 1578.8,894.2 1579.8,894.2 1580.8,894.2 1581.8,894.1 1582.8,894.1 1583.8,894.1 1584.8,894.0 1585.8,894.0 1586.8,894.0 1587.8,893.9 1588.8,893.9 1589.8,893.9 1590.8,893.8 1591.8,893.8 1592.8,893.8 1593.8,893.8 1594.8,893.7 1595.8,893.7 1596.8,893.7 1597.8,893.6 1598.8,893.6 1599.8,893.6 1600.8,893.5 1601.8,893.5 1602.8,893.5 1603.8,893.4 1604.8,893.4 1605.8,893.4 1606.8,893.3 1607.8,893.3" fill="none" stroke="#ec6a6a" stroke-width="3.4" stroke-linejoin="round" stroke-linecap="round"/>
<polyline points="996.8,1159.9 997.8,1158.6 998.8,1157.2 999.8,1155.7 1000.8,1154.1 1001.8,1152.4 1002.8,1150.6 1003.8,1148.8 1004.8,1146.9 1005.8,1144.9 1006.8,1142.8 1007.8,1140.7 1008.8,1138.5 1009.8,1136.2 1010.8,1133.7 1011.8,1131.2 1012.8,1128.5 1013.8,1125.7 1014.8,1122.8 1015.8,1119.9 1016.8,1116.9 1017.8,1113.9 1018.8,1110.8 1019.8,1107.4 1020.8,1103.9 1021.8,1100.3 1022.8,1096.6 1023.8,1093.0 1024.8,1089.4 1025.8,1085.9 1026.8,1082.6 1027.8,1079.6 1028.8,1076.7 1029.8,1073.8 1030.8,1071.0 1031.8,1068.3 1032.8,1065.6 1033.8,1063.0 1034.8,1060.5 1035.8,1058.2 1036.8,1055.9 1037.8,1053.8 1038.8,1051.8 1039.8,1049.9 1040.8,1048.1 1041.8,1046.4 1042.8,1044.8 1043.8,1043.2 1044.8,1041.7 1045.8,1040.2 1046.8,1038.8 1047.8,1037.5 1048.8,1036.2 1049.8,1034.9 1050.8,1033.7 1051.8,1032.6 1052.8,1031.6 1053.8,1030.7 1054.8,1029.8 1055.8,1028.8 1056.8,1027.9 1057.8,1026.9 1058.8,1025.8 1059.8,1024.7 1060.8,1023.4 1061.8,1022.0 1062.8,1020.4 1063.8,1018.7 1064.8,1016.9 1065.8,1015.1 1066.8,1013.3 1067.8,1011.5 1068.8,1009.8 1069.8,1008.2 1070.8,1006.5 1071.8,1004.8 1072.8,1003.1 1073.8,1001.4 1074.8,999.6 1075.8,997.9 1076.8,996.3 1077.8,994.6 1078.8,993.1 1079.8,991.5 1080.8,990.1 1081.8,988.8 1082.8,987.5 1083.8,986.4 1084.8,985.4 1085.8,984.5 1086.8,983.6 1087.8,982.8 1088.8,981.9 1089.8,981.2 1090.8,980.4 1091.8,979.7 1092.8,979.0 1093.8,978.3 1094.8,977.7 1095.8,977.0 1096.8,976.4 1097.8,975.8 1098.8,975.2 1099.8,974.6 1100.8,974.1 1101.8,973.5 1102.8,973.0 1103.8,972.4 1104.8,971.9 1105.8,971.4 1106.8,970.8 1107.8,970.3 1108.8,969.7 1109.8,969.1 1110.8,968.6 1111.8,968.0 1112.8,967.5 1113.8,966.9 1114.8,966.4 1115.8,965.9 1116.8,965.3 1117.8,964.8 1118.8,964.3 1119.8,963.8 1120.8,963.3 1121.8,962.8 1122.8,962.3 1123.8,961.8 1124.8,961.3 1125.8,960.8 1126.8,960.3 1127.8,959.9 1128.8,959.4 1129.8,958.9 1130.8,958.4 1131.8,958.0 1132.8,957.5 1133.8,957.0 1134.8,956.6 1135.8,956.1 1136.8,955.6 1137.8,955.2 1138.8,954.7 1139.8,954.3 1140.8,953.8 1141.8,953.4 1142.8,952.9 1143.8,952.5 1144.8,952.1 1145.8,951.7 1146.8,951.3 1147.8,950.9 1148.8,950.5 1149.8,950.1 1150.8,949.7 1151.8,949.4 1152.8,949.0 1153.8,948.6 1154.8,948.2 1155.8,947.9 1156.8,947.5 1157.8,947.2 1158.8,946.8 1159.8,946.4 1160.8,946.1 1161.8,945.7 1162.8,945.4 1163.8,945.0 1164.8,944.6 1165.8,944.2 1166.8,943.9 1167.8,943.5 1168.8,943.1 1169.8,942.7 1170.8,942.3 1171.8,941.9 1172.8,941.5 1173.8,941.1 1174.8,940.6 1175.8,940.2 1176.8,939.7 1177.8,939.3 1178.8,938.8 1179.8,938.3 1180.8,937.8 1181.8,937.3 1182.8,936.8 1183.8,936.3 1184.8,935.7 1185.8,935.2 1186.8,934.6 1187.8,934.0 1188.8,933.4 1189.8,932.7 1190.8,931.7 1191.8,930.8 1192.8,930.1 1193.8,929.6 1194.8,929.1 1195.8,928.6 1196.8,928.2 1197.8,927.8 1198.8,927.4 1199.8,927.0 1200.8,926.6 1201.8,926.3 1202.8,926.0 1203.8,925.6 1204.8,925.3 1205.8,925.0 1206.8,924.7 1207.8,924.5 1208.8,924.2 1209.8,923.9 1210.8,923.7 1211.8,923.4 1212.8,923.2 1213.8,922.9 1214.8,922.7 1215.8,922.4 1216.8,922.2 1217.8,921.9 1218.8,921.6 1219.8,921.4 1220.8,921.1 1221.8,920.8 1222.8,920.5 1223.8,920.2 1224.8,919.9 1225.8,919.6 1226.8,919.3 1227.8,918.9 1228.8,918.6 1229.8,918.3 1230.8,917.9 1231.8,917.6 1232.8,917.2 1233.8,916.9 1234.8,916.5 1235.8,916.1 1236.8,915.8 1237.8,915.4 1238.8,915.1 1239.8,914.7 1240.8,914.4 1241.8,914.0 1242.8,913.7 1243.8,913.4 1244.8,913.0 1245.8,912.7 1246.8,912.4 1247.8,912.1 1248.8,911.8 1249.8,911.5 1250.8,911.2 1251.8,910.9 1252.8,910.7 1253.8,910.4 1254.8,910.2 1255.8,910.0 1256.8,909.7 1257.8,909.5 1258.8,909.4 1259.8,909.2 1260.8,909.0 1261.8,908.9 1262.8,908.8 1263.8,908.7 1264.8,908.6 1265.8,908.5 1266.8,908.4 1267.8,908.4 1268.8,908.2 1269.8,908.1 1270.8,908.0 1271.8,907.8 1272.8,907.6 1273.8,907.4 1274.8,907.2 1275.8,906.9 1276.8,906.7 1277.8,906.4 1278.8,906.1 1279.8,905.8 1280.8,905.5 1281.8,905.2 1282.8,904.9 1283.8,904.6 1284.8,904.3 1285.8,903.9 1286.8,903.6 1287.8,903.3 1288.8,903.0 1289.8,902.7 1290.8,902.4 1291.8,902.1 1292.8,901.9 1293.8,901.6 1294.8,901.4 1295.8,901.2 1296.8,901.0 1297.8,900.8 1298.8,900.6 1299.8,900.4 1300.8,900.2 1301.8,900.0 1302.8,899.8 1303.8,899.7 1304.8,899.5 1305.8,899.3 1306.8,899.2 1307.8,899.0 1308.8,898.8 1309.8,898.7 1310.8,898.5 1311.8,898.3 1312.8,898.2 1313.8,898.0 1314.8,897.9 1315.8,897.7 1316.8,897.6 1317.8,897.4 1318.8,897.3 1319.8,897.1 1320.8,897.0 1321.8,896.8 1322.8,896.7 1323.8,896.5 1324.8,896.4 1325.8,896.2 1326.8,896.1 1327.8,895.9 1328.8,895.8 1329.8,895.6 1330.8,895.5 1331.8,895.3 1332.8,895.2 1333.8,895.0 1334.8,894.8 1335.8,894.7 1336.8,894.5 1337.8,894.4 1338.8,894.2 1339.8,894.1 1340.8,893.9 1341.8,893.8 1342.8,893.6 1343.8,893.5 1344.8,893.3 1345.8,893.2 1346.8,893.0 1347.8,892.9 1348.8,892.7 1349.8,892.6 1350.8,892.4 1351.8,892.3 1352.8,892.2 1353.8,892.0 1354.8,891.9 1355.8,891.7 1356.8,891.6 1357.8,891.4 1358.8,891.3 1359.8,891.1 1360.8,891.0 1361.8,890.9 1362.8,890.7 1363.8,890.6 1364.8,890.4 1365.8,890.3 1366.8,890.1 1367.8,890.0 1368.8,889.9 1369.8,889.7 1370.8,889.6 1371.8,889.5 1372.8,889.3 1373.8,889.2 1374.8,889.1 1375.8,888.9 1376.8,888.8 1377.8,888.7 1378.8,888.5 1379.8,888.4 1380.8,888.3 1381.8,888.1 1382.8,888.0 1383.8,887.9 1384.8,887.8 1385.8,887.6 1386.8,887.5 1387.8,887.4 1388.8,887.3 1389.8,887.2 1390.8,887.0 1391.8,886.9 1392.8,886.8 1393.8,886.7 1394.8,886.6 1395.8,886.5 1396.8,886.4 1397.8,886.2 1398.8,886.1 1399.8,886.0 1400.8,885.9 1401.8,885.8 1402.8,885.6 1403.8,885.5 1404.8,885.4 1405.8,885.3 1406.8,885.1 1407.8,885.0 1408.8,884.9 1409.8,884.8 1410.8,884.6 1411.8,884.5 1412.8,884.4 1413.8,884.2 1414.8,884.1 1415.8,884.0 1416.8,883.9 1417.8,883.7 1418.8,883.6 1419.8,883.5 1420.8,883.4 1421.8,883.3 1422.8,883.2 1423.8,883.0 1424.8,882.9 1425.8,882.8 1426.8,882.7 1427.8,882.6 1428.8,882.5 1429.8,882.4 1430.8,882.3 1431.8,882.2 1432.8,882.2 1433.8,882.1 1434.8,882.0 1435.8,881.9 1436.8,881.9 1437.8,881.8 1438.8,881.8 1439.8,881.7 1440.8,881.7 1441.8,881.6 1442.8,881.6 1443.8,881.6 1444.8,881.5 1445.8,881.5 1446.8,881.5 1447.8,881.5 1448.8,881.5 1449.8,881.5 1450.8,881.6 1451.8,881.7 1452.8,881.7 1453.8,881.8 1454.8,881.9 1455.8,882.0 1456.8,882.1 1457.8,882.3 1458.8,882.4 1459.8,882.5 1460.8,882.6 1461.8,882.8 1462.8,882.9 1463.8,883.0 1464.8,883.1 1465.8,883.2 1466.8,883.3 1467.8,883.4 1468.8,883.4 1469.8,883.5 1470.8,883.5 1471.8,883.5 1472.8,883.4 1473.8,883.2 1474.8,882.9 1475.8,882.6 1476.8,882.2 1477.8,881.8 1478.8,881.3 1479.8,880.9 1480.8,880.5 1481.8,880.1 1482.8,879.8 1483.8,879.6 1484.8,879.5 1485.8,879.5 1486.8,879.5 1487.8,879.5 1488.8,879.5 1489.8,879.5 1490.8,879.5 1491.8,879.5 1492.8,879.5 1493.8,879.5 1494.8,879.5 1495.8,879.5 1496.8,879.5 1497.8,879.5 1498.8,879.5 1499.8,879.5 1500.8,879.5 1501.8,879.5 1502.8,879.5 1503.8,879.5 1504.8,879.5 1505.8,879.5 1506.8,879.5 1507.8,879.5 1508.8,879.5 1509.8,879.5 1510.8,879.5 1511.8,879.5 1512.8,879.5 1513.8,879.5 1514.8,879.5 1515.8,879.5 1516.8,879.5 1517.8,879.5 1518.8,879.5 1519.8,879.5 1520.8,879.5 1521.8,879.5 1522.8,879.5 1523.8,879.5 1524.8,879.5 1525.8,879.5 1526.8,879.5 1527.8,879.5 1528.8,879.5 1529.8,879.5 1530.8,879.5 1531.8,879.5 1532.8,879.5 1533.8,879.5 1534.8,879.5 1535.8,879.5 1536.8,879.5 1537.8,879.7 1538.8,880.1 1539.8,880.6 1540.8,881.1 1541.8,881.4 1542.8,881.5 1543.8,881.5 1544.8,881.4 1545.8,881.3 1546.8,881.2 1547.8,881.1 1548.8,880.9 1549.8,880.7 1550.8,880.5 1551.8,880.3 1552.8,880.1 1553.8,879.8 1554.8,879.6 1555.8,879.4 1556.8,879.2 1557.8,879.0 1558.8,878.8 1559.8,878.6 1560.8,878.4 1561.8,878.2 1562.8,878.1 1563.8,878.0 1564.8,877.9 1565.8,877.9 1566.8,877.9 1567.8,877.9 1568.8,877.9 1569.8,877.9 1570.8,877.9 1571.8,877.9 1572.8,877.9 1573.8,877.9 1574.8,877.9 1575.8,877.9 1576.8,877.9 1577.8,877.9 1578.8,877.9 1579.8,877.9 1580.8,877.9 1581.8,877.9 1582.8,877.9 1583.8,877.9 1584.8,878.0 1585.8,878.0 1586.8,878.0 1587.8,878.0 1588.8,878.0 1589.8,878.0 1590.8,878.0 1591.8,878.0 1592.8,878.1 1593.8,878.1 1594.8,878.1 1595.8,878.1 1596.8,878.1 1597.8,878.2 1598.8,878.2 1599.8,878.2 1600.8,878.2 1601.8,878.3 1602.8,878.3 1603.8,878.3 1604.8,878.4 1605.8,878.4 1606.8,878.5 1607.8,878.5" fill="none" stroke="#f20000" stroke-width="5.2" stroke-linejoin="round" stroke-linecap="round"/>
</g>
<rect x="149.50" y="149.30" width="3" height="508.00"/>
<rect x="149.50" y="642.30" width="691.50" height="3"/>
<rect x="142.00" y="641.00" width="9.00" height="3"/>
<text x="92.57" y="653.80" font-size="39" font-weight="normal" font-style="normal">60</text>
<rect x="142.00" y="518.08" width="9.00" height="3"/>
<text x="92.57" y="530.88" font-size="39" font-weight="normal" font-style="normal">90</text>
<rect x="142.00" y="395.15" width="9.00" height="3"/>
<text x="70.83" y="407.95" font-size="39" font-weight="normal" font-style="normal">120</text>
<rect x="142.00" y="272.23" width="9.00" height="3"/>
<text x="70.83" y="285.03" font-size="39" font-weight="normal" font-style="normal">150</text>
<rect x="142.00" y="149.30" width="9.00" height="3"/>
<text x="70.83" y="162.10" font-size="39" font-weight="normal" font-style="normal">180</text>
<rect x="149.50" y="642.30" width="3" height="15.00"/>
<rect x="226.00" y="642.30" width="3" height="15.00"/>
<rect x="302.50" y="642.30" width="3" height="15.00"/>
<rect x="379.00" y="642.30" width="3" height="15.00"/>
<rect x="455.50" y="642.30" width="3" height="15.00"/>
<rect x="532.00" y="642.30" width="3" height="15.00"/>
<rect x="608.50" y="642.30" width="3" height="15.00"/>
<rect x="685.00" y="642.30" width="3" height="15.00"/>
<rect x="761.50" y="642.30" width="3" height="15.00"/>
<rect x="838.00" y="642.30" width="3" height="15.00"/>
<text x="141.13" y="691.00" font-size="39" font-weight="normal" font-style="normal">0</text>
<text x="370.47" y="691.00" font-size="39" font-weight="normal" font-style="normal">3</text>
<text x="676.13" y="691.00" font-size="39" font-weight="normal" font-style="normal">7</text>
<rect x="990.10" y="142.30" width="3" height="505.20"/>
<rect x="990.10" y="632.50" width="691.32" height="3"/>
<rect x="982.60" y="633.00" width="9.00" height="3"/>
<text x="932.77" y="645.80" font-size="39" font-weight="normal" font-style="normal">60</text>
<rect x="982.60" y="510.32" width="9.00" height="3"/>
<text x="932.77" y="523.12" font-size="39" font-weight="normal" font-style="normal">90</text>
<rect x="982.60" y="387.65" width="9.00" height="3"/>
<text x="911.03" y="400.45" font-size="39" font-weight="normal" font-style="normal">120</text>
<rect x="982.60" y="264.98" width="9.00" height="3"/>
<text x="911.03" y="277.78" font-size="39" font-weight="normal" font-style="normal">150</text>
<rect x="982.60" y="142.30" width="9.00" height="3"/>
<text x="911.03" y="155.10" font-size="39" font-weight="normal" font-style="normal">180</text>
<rect x="990.10" y="632.50" width="3" height="15.00"/>
<rect x="1066.58" y="632.50" width="3" height="15.00"/>
<rect x="1143.06" y="632.50" width="3" height="15.00"/>
<rect x="1219.54" y="632.50" width="3" height="15.00"/>
<rect x="1296.02" y="632.50" width="3" height="15.00"/>
<rect x="1372.50" y="632.50" width="3" height="15.00"/>
<rect x="1448.98" y="632.50" width="3" height="15.00"/>
<rect x="1525.46" y="632.50" width="3" height="15.00"/>
<rect x="1601.94" y="632.50" width="3" height="15.00"/>
<rect x="1678.42" y="632.50" width="3" height="15.00"/>
<text x="980.88" y="684.00" font-size="39" font-weight="normal" font-style="normal">0</text>
<text x="1212.08" y="684.00" font-size="39" font-weight="normal" font-style="normal">3</text>
<text x="1595.68" y="684.00" font-size="39" font-weight="normal" font-style="normal">8</text>
<rect x="161.70" y="813.00" width="3" height="505.80"/>
<rect x="161.70" y="1303.80" width="691.50" height="3"/>
<rect x="154.20" y="1304.20" width="9.00" height="3"/>
<text x="103.87" y="1317.00" font-size="39" font-weight="normal" font-style="normal">60</text>
<rect x="154.20" y="1181.40" width="9.00" height="3"/>
<text x="103.87" y="1194.20" font-size="39" font-weight="normal" font-style="normal">90</text>
<rect x="154.20" y="1058.60" width="9.00" height="3"/>
<text x="82.13" y="1071.40" font-size="39" font-weight="normal" font-style="normal">120</text>
<rect x="154.20" y="935.80" width="9.00" height="3"/>
<text x="82.13" y="948.60" font-size="39" font-weight="normal" font-style="normal">150</text>
<rect x="154.20" y="813.00" width="9.00" height="3"/>
<text x="82.13" y="825.80" font-size="39" font-weight="normal" font-style="normal">180</text>
<rect x="161.70" y="1303.80" width="3" height="15.00"/>
<rect x="238.20" y="1303.80" width="3" height="15.00"/>
<rect x="314.70" y="1303.80" width="3" height="15.00"/>
<rect x="391.20" y="1303.80" width="3" height="15.00"/>
<rect x="467.70" y="1303.80" width="3" height="15.00"/>
<rect x="544.20" y="1303.80" width="3" height="15.00"/>
<rect x="620.70" y="1303.80" width="3" height="15.00"/>
<rect x="697.20" y="1303.80" width="3" height="15.00"/>
<rect x="773.70" y="1303.80" width="3" height="15.00"/>
<rect x="850.20" y="1303.80" width="3" height="15.00"/>
<text x="151.83" y="1354.00" font-size="39" font-weight="normal" font-style="normal">0</text>
<text x="382.88" y="1354.00" font-size="39" font-weight="normal" font-style="normal">3</text>
<text x="688.93" y="1354.00" font-size="39" font-weight="normal" font-style="normal">7</text>
<rect x="994.50" y="810.30" width="3" height="508.00"/>
<rect x="994.50" y="1303.30" width="691.32" height="3"/>
<rect x="987.00" y="1302.50" width="9.00" height="3"/>
<text x="936.67" y="1315.30" font-size="39" font-weight="normal" font-style="normal">60</text>
<rect x="987.00" y="1179.45" width="9.00" height="3"/>
<text x="936.67" y="1192.25" font-size="39" font-weight="normal" font-style="normal">90</text>
<rect x="987.00" y="1056.40" width="9.00" height="3"/>
<text x="914.93" y="1069.20" font-size="39" font-weight="normal" font-style="normal">120</text>
<rect x="987.00" y="933.35" width="9.00" height="3"/>
<text x="914.93" y="946.15" font-size="39" font-weight="normal" font-style="normal">150</text>
<rect x="987.00" y="810.30" width="9.00" height="3"/>
<text x="914.93" y="823.10" font-size="39" font-weight="normal" font-style="normal">180</text>
<rect x="994.50" y="1303.30" width="3" height="15.00"/>
<rect x="1070.98" y="1303.30" width="3" height="15.00"/>
<rect x="1147.46" y="1303.30" width="3" height="15.00"/>
<rect x="1223.94" y="1303.30" width="3" height="15.00"/>
<rect x="1300.42" y="1303.30" width="3" height="15.00"/>
<rect x="1376.90" y="1303.30" width="3" height="15.00"/>
<rect x="1453.38" y="1303.30" width="3" height="15.00"/>
<rect x="1529.86" y="1303.30" width="3" height="15.00"/>
<rect x="1606.34" y="1303.30" width="3" height="15.00"/>
<rect x="1682.82" y="1303.30" width="3" height="15.00"/>
<text x="986.78" y="1352.20" font-size="39" font-weight="normal" font-style="normal">0</text>
<text x="1215.38" y="1352.20" font-size="39" font-weight="normal" font-style="normal">3</text>
<text x="1596.83" y="1352.20" font-size="39" font-weight="normal" font-style="normal">8</text>
<circle cx="1013.7" cy="854.6" r="1.5" fill="#d4d4d4"/>
<text x="395.95" y="736.00" font-size="42.2" font-weight="normal" font-style="normal">Time (min)</text>
<text x="1235.95" y="735.10" font-size="42.2" font-weight="normal" font-style="normal">Time (min)</text>
<text x="407.35" y="1401.20" font-size="42.2" font-weight="normal" font-style="normal">Time (min)</text>
<text x="1240.05" y="1407.30" font-size="42.2" font-weight="normal" font-style="normal">Time (min)</text>
<text transform="translate(35.80,541.25) rotate(-90)" x="0" y="0" font-size="41.8">Heart Rate (bpm)</text>
<text transform="translate(48.10,1204.65) rotate(-90)" x="0" y="0" font-size="41.8">Heart Rate (bpm)</text>
<text x="308.05" y="141.00" font-size="34.5" font-weight="normal" font-style="italic">target HR</text>
<text x="387.09" y="432.60" font-size="34.5" font-weight="normal" font-style="italic">Test while running</text>
<text x="209.16" y="520.60" font-size="34.5" font-weight="normal" font-style="italic">Running</text>
<text x="209.23" y="563.30" font-size="34.5" font-weight="normal" font-style="italic">until</text>
<text x="208.65" y="604.70" font-size="34.5" font-weight="normal" font-style="italic">target HR</text>
<text x="702.61" y="248.70" font-size="38.3" font-weight="normal" font-style="normal">Visual</text>
<text x="1621.51" y="230.40" font-size="38.3" font-weight="normal" font-style="normal">Visual</text>
<text x="710.30" y="913.30" font-size="38.3" font-weight="normal" font-style="normal">Auditory</text>
<text x="1625.40" y="891.10" font-size="38.3" font-weight="normal" font-style="normal">Auditory</text>
</svg>
</body></html>
